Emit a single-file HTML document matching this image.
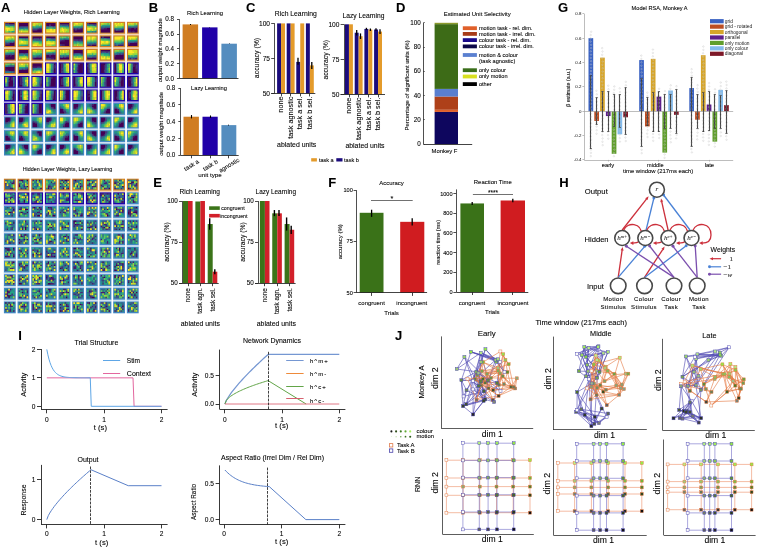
<!DOCTYPE html>
<html><head><meta charset="utf-8"><style>
html,body{margin:0;padding:0;background:#fff;}
svg{display:block;font-family:"Liberation Sans",sans-serif;will-change:transform;}
text{stroke:#000;stroke-width:0.14px;stroke-opacity:0.6}
</style></head><body>
<svg width="757" height="547" viewBox="0 0 757 547">
<defs><filter id="bl" x="-1%" y="-1%" width="102%" height="102%"><feGaussianBlur stdDeviation="0.3"/></filter></defs>
<rect width="757" height="547" fill="#fff"/>
<text x="1.07" y="11.8" font-size="13" font-weight="bold">A</text>
<text x="71.8" y="14.27" font-size="5.8" text-anchor="middle">Hidden Layer Weights, Rich Learning</text>
<rect x="3.8" y="33.15" width="12.25" height="2.29" fill="#f3d5b4"/>
<rect x="17.46" y="33.15" width="12.25" height="2.29" fill="#f3d5b4"/>
<rect x="31.12" y="33.15" width="12.25" height="2.29" fill="#f3d5b4"/>
<rect x="44.78" y="33.15" width="12.25" height="2.29" fill="#f3d5b4"/>
<rect x="58.44" y="33.15" width="12.25" height="2.29" fill="#f3d5b4"/>
<rect x="72.1" y="33.15" width="12.25" height="2.29" fill="#f3d5b4"/>
<rect x="85.76" y="33.15" width="12.25" height="2.29" fill="#f3d5b4"/>
<rect x="99.42" y="33.15" width="12.25" height="2.29" fill="#f3d5b4"/>
<rect x="113.08" y="33.15" width="12.25" height="2.29" fill="#f3d5b4"/>
<rect x="126.74" y="33.15" width="12.25" height="2.29" fill="#f3d5b4"/>
<rect x="3.8" y="46.69" width="12.25" height="2.29" fill="#f3d5b4"/>
<rect x="17.46" y="46.69" width="12.25" height="2.29" fill="#f3d5b4"/>
<rect x="31.12" y="46.69" width="12.25" height="2.29" fill="#f3d5b4"/>
<rect x="44.78" y="46.69" width="12.25" height="2.29" fill="#f3d5b4"/>
<rect x="58.44" y="46.69" width="12.25" height="2.29" fill="#f3d5b4"/>
<rect x="72.1" y="46.69" width="12.25" height="2.29" fill="#f3d5b4"/>
<rect x="85.76" y="46.69" width="12.25" height="2.29" fill="#f3d5b4"/>
<rect x="99.42" y="46.69" width="12.25" height="2.29" fill="#f3d5b4"/>
<rect x="113.08" y="46.69" width="12.25" height="2.29" fill="#f3d5b4"/>
<rect x="126.74" y="46.69" width="12.25" height="2.29" fill="#f3d5b4"/>
<rect x="3.8" y="60.23" width="12.25" height="2.29" fill="#f3d5b4"/>
<rect x="17.46" y="60.23" width="12.25" height="2.29" fill="#f3d5b4"/>
<rect x="31.12" y="60.23" width="12.25" height="2.29" fill="#f3d5b4"/>
<rect x="44.78" y="60.23" width="12.25" height="2.29" fill="#f3d5b4"/>
<rect x="58.44" y="60.23" width="12.25" height="2.29" fill="#f3d5b4"/>
<rect x="72.1" y="60.23" width="12.25" height="2.29" fill="#f3d5b4"/>
<rect x="85.76" y="60.23" width="12.25" height="2.29" fill="#f3d5b4"/>
<rect x="99.42" y="60.23" width="12.25" height="2.29" fill="#f3d5b4"/>
<rect x="113.08" y="60.23" width="12.25" height="2.29" fill="#f3d5b4"/>
<rect x="126.74" y="60.23" width="12.25" height="2.29" fill="#f3d5b4"/>
<rect x="3.8" y="73.77" width="12.25" height="2.29" fill="#f3d5b4"/>
<rect x="17.46" y="73.77" width="12.25" height="2.29" fill="#f3d5b4"/>
<rect x="31.12" y="73.77" width="12.25" height="2.29" fill="#f3d5b4"/>
<rect x="44.78" y="73.77" width="12.25" height="2.29" fill="#aca2e4"/>
<rect x="58.44" y="73.77" width="12.25" height="2.29" fill="#aca2e4"/>
<rect x="72.1" y="73.77" width="12.25" height="2.29" fill="#aca2e4"/>
<rect x="85.76" y="73.77" width="12.25" height="2.29" fill="#aca2e4"/>
<rect x="99.42" y="73.77" width="12.25" height="2.29" fill="#aca2e4"/>
<rect x="113.08" y="73.77" width="12.25" height="2.29" fill="#aca2e4"/>
<rect x="126.74" y="73.77" width="12.25" height="2.29" fill="#aca2e4"/>
<rect x="3.8" y="87.31" width="12.25" height="2.29" fill="#aca2e4"/>
<rect x="17.46" y="87.31" width="12.25" height="2.29" fill="#aca2e4"/>
<rect x="31.12" y="87.31" width="12.25" height="2.29" fill="#aca2e4"/>
<rect x="44.78" y="87.31" width="12.25" height="2.29" fill="#aca2e4"/>
<rect x="58.44" y="87.31" width="12.25" height="2.29" fill="#aca2e4"/>
<rect x="72.1" y="87.31" width="12.25" height="2.29" fill="#aca2e4"/>
<rect x="85.76" y="87.31" width="12.25" height="2.29" fill="#aca2e4"/>
<rect x="99.42" y="87.31" width="12.25" height="2.29" fill="#aca2e4"/>
<rect x="113.08" y="87.31" width="12.25" height="2.29" fill="#aca2e4"/>
<rect x="126.74" y="87.31" width="12.25" height="2.29" fill="#aca2e4"/>
<rect x="3.8" y="100.85" width="12.25" height="2.29" fill="#aca2e4"/>
<rect x="17.46" y="100.85" width="12.25" height="2.29" fill="#aca2e4"/>
<rect x="31.12" y="100.85" width="12.25" height="2.29" fill="#aca2e4"/>
<rect x="44.78" y="100.85" width="12.25" height="2.29" fill="#aca2e4"/>
<rect x="58.44" y="100.85" width="12.25" height="2.29" fill="#aca2e4"/>
<rect x="72.1" y="100.85" width="12.25" height="2.29" fill="#aca2e4"/>
<rect x="85.76" y="100.85" width="12.25" height="2.29" fill="#aca2e4"/>
<rect x="99.42" y="100.85" width="12.25" height="2.29" fill="#aca2e4"/>
<rect x="113.08" y="100.85" width="12.25" height="2.29" fill="#aca2e4"/>
<rect x="126.74" y="100.85" width="12.25" height="2.29" fill="#aca2e4"/>
<rect x="3.8" y="114.39" width="12.25" height="2.29" fill="#aca2e4"/>
<rect x="17.46" y="114.39" width="12.25" height="2.29" fill="#aca2e4"/>
<rect x="31.12" y="114.39" width="12.25" height="2.29" fill="#aca2e4"/>
<rect x="44.78" y="114.39" width="12.25" height="2.29" fill="#cde0f0"/>
<rect x="58.44" y="114.39" width="12.25" height="2.29" fill="#cde0f0"/>
<rect x="72.1" y="114.39" width="12.25" height="2.29" fill="#cde0f0"/>
<rect x="85.76" y="114.39" width="12.25" height="2.29" fill="#cde0f0"/>
<rect x="99.42" y="114.39" width="12.25" height="2.29" fill="#cde0f0"/>
<rect x="113.08" y="114.39" width="12.25" height="2.29" fill="#cde0f0"/>
<rect x="126.74" y="114.39" width="12.25" height="2.29" fill="#cde0f0"/>
<rect x="3.8" y="127.93" width="12.25" height="2.29" fill="#cde0f0"/>
<rect x="17.46" y="127.93" width="12.25" height="2.29" fill="#cde0f0"/>
<rect x="31.12" y="127.93" width="12.25" height="2.29" fill="#cde0f0"/>
<rect x="44.78" y="127.93" width="12.25" height="2.29" fill="#cde0f0"/>
<rect x="58.44" y="127.93" width="12.25" height="2.29" fill="#cde0f0"/>
<rect x="72.1" y="127.93" width="12.25" height="2.29" fill="#cde0f0"/>
<rect x="85.76" y="127.93" width="12.25" height="2.29" fill="#cde0f0"/>
<rect x="99.42" y="127.93" width="12.25" height="2.29" fill="#cde0f0"/>
<rect x="113.08" y="127.93" width="12.25" height="2.29" fill="#cde0f0"/>
<rect x="126.74" y="127.93" width="12.25" height="2.29" fill="#cde0f0"/>
<rect x="3.8" y="141.47" width="12.25" height="2.29" fill="#cde0f0"/>
<rect x="17.46" y="141.47" width="12.25" height="2.29" fill="#cde0f0"/>
<rect x="31.12" y="141.47" width="12.25" height="2.29" fill="#cde0f0"/>
<rect x="44.78" y="141.47" width="12.25" height="2.29" fill="#cde0f0"/>
<rect x="58.44" y="141.47" width="12.25" height="2.29" fill="#cde0f0"/>
<rect x="72.1" y="141.47" width="12.25" height="2.29" fill="#cde0f0"/>
<rect x="85.76" y="141.47" width="12.25" height="2.29" fill="#cde0f0"/>
<rect x="99.42" y="141.47" width="12.25" height="2.29" fill="#cde0f0"/>
<rect x="113.08" y="141.47" width="12.25" height="2.29" fill="#cde0f0"/>
<rect x="126.74" y="141.47" width="12.25" height="2.29" fill="#cde0f0"/>
<rect x="4" y="21.8" width="11.85" height="11.85" fill="#d07d22"/>
<rect x="17.66" y="21.8" width="11.85" height="11.85" fill="#d07d22"/>
<rect x="31.32" y="21.8" width="11.85" height="11.85" fill="#d07d22"/>
<rect x="44.98" y="21.8" width="11.85" height="11.85" fill="#d07d22"/>
<rect x="58.64" y="21.8" width="11.85" height="11.85" fill="#d07d22"/>
<rect x="72.3" y="21.8" width="11.85" height="11.85" fill="#d07d22"/>
<rect x="85.96" y="21.8" width="11.85" height="11.85" fill="#d07d22"/>
<rect x="99.62" y="21.8" width="11.85" height="11.85" fill="#d07d22"/>
<rect x="113.28" y="21.8" width="11.85" height="11.85" fill="#d07d22"/>
<rect x="126.94" y="21.8" width="11.85" height="11.85" fill="#d07d22"/>
<rect x="4" y="35.34" width="11.85" height="11.85" fill="#d07d22"/>
<rect x="17.66" y="35.34" width="11.85" height="11.85" fill="#d07d22"/>
<rect x="31.32" y="35.34" width="11.85" height="11.85" fill="#d07d22"/>
<rect x="44.98" y="35.34" width="11.85" height="11.85" fill="#d07d22"/>
<rect x="58.64" y="35.34" width="11.85" height="11.85" fill="#d07d22"/>
<rect x="72.3" y="35.34" width="11.85" height="11.85" fill="#d07d22"/>
<rect x="85.96" y="35.34" width="11.85" height="11.85" fill="#d07d22"/>
<rect x="99.62" y="35.34" width="11.85" height="11.85" fill="#d07d22"/>
<rect x="113.28" y="35.34" width="11.85" height="11.85" fill="#d07d22"/>
<rect x="126.94" y="35.34" width="11.85" height="11.85" fill="#d07d22"/>
<rect x="4" y="48.88" width="11.85" height="11.85" fill="#d07d22"/>
<rect x="17.66" y="48.88" width="11.85" height="11.85" fill="#d07d22"/>
<rect x="31.32" y="48.88" width="11.85" height="11.85" fill="#d07d22"/>
<rect x="44.98" y="48.88" width="11.85" height="11.85" fill="#d07d22"/>
<rect x="58.64" y="48.88" width="11.85" height="11.85" fill="#d07d22"/>
<rect x="72.3" y="48.88" width="11.85" height="11.85" fill="#d07d22"/>
<rect x="85.96" y="48.88" width="11.85" height="11.85" fill="#d07d22"/>
<rect x="99.62" y="48.88" width="11.85" height="11.85" fill="#d07d22"/>
<rect x="113.28" y="48.88" width="11.85" height="11.85" fill="#d07d22"/>
<rect x="126.94" y="48.88" width="11.85" height="11.85" fill="#d07d22"/>
<rect x="4" y="62.42" width="11.85" height="11.85" fill="#d07d22"/>
<rect x="17.66" y="62.42" width="11.85" height="11.85" fill="#d07d22"/>
<rect x="31.32" y="62.42" width="11.85" height="11.85" fill="#d07d22"/>
<rect x="44.98" y="62.42" width="11.85" height="11.85" fill="#1c02a8"/>
<rect x="58.64" y="62.42" width="11.85" height="11.85" fill="#1c02a8"/>
<rect x="72.3" y="62.42" width="11.85" height="11.85" fill="#1c02a8"/>
<rect x="85.96" y="62.42" width="11.85" height="11.85" fill="#1c02a8"/>
<rect x="99.62" y="62.42" width="11.85" height="11.85" fill="#1c02a8"/>
<rect x="113.28" y="62.42" width="11.85" height="11.85" fill="#1c02a8"/>
<rect x="126.94" y="62.42" width="11.85" height="11.85" fill="#1c02a8"/>
<rect x="4" y="75.96" width="11.85" height="11.85" fill="#1c02a8"/>
<rect x="17.66" y="75.96" width="11.85" height="11.85" fill="#1c02a8"/>
<rect x="31.32" y="75.96" width="11.85" height="11.85" fill="#1c02a8"/>
<rect x="44.98" y="75.96" width="11.85" height="11.85" fill="#1c02a8"/>
<rect x="58.64" y="75.96" width="11.85" height="11.85" fill="#1c02a8"/>
<rect x="72.3" y="75.96" width="11.85" height="11.85" fill="#1c02a8"/>
<rect x="85.96" y="75.96" width="11.85" height="11.85" fill="#1c02a8"/>
<rect x="99.62" y="75.96" width="11.85" height="11.85" fill="#1c02a8"/>
<rect x="113.28" y="75.96" width="11.85" height="11.85" fill="#1c02a8"/>
<rect x="126.94" y="75.96" width="11.85" height="11.85" fill="#1c02a8"/>
<rect x="4" y="89.5" width="11.85" height="11.85" fill="#1c02a8"/>
<rect x="17.66" y="89.5" width="11.85" height="11.85" fill="#1c02a8"/>
<rect x="31.32" y="89.5" width="11.85" height="11.85" fill="#1c02a8"/>
<rect x="44.98" y="89.5" width="11.85" height="11.85" fill="#1c02a8"/>
<rect x="58.64" y="89.5" width="11.85" height="11.85" fill="#1c02a8"/>
<rect x="72.3" y="89.5" width="11.85" height="11.85" fill="#1c02a8"/>
<rect x="85.96" y="89.5" width="11.85" height="11.85" fill="#1c02a8"/>
<rect x="99.62" y="89.5" width="11.85" height="11.85" fill="#1c02a8"/>
<rect x="113.28" y="89.5" width="11.85" height="11.85" fill="#1c02a8"/>
<rect x="126.94" y="89.5" width="11.85" height="11.85" fill="#1c02a8"/>
<rect x="4" y="103.04" width="11.85" height="11.85" fill="#1c02a8"/>
<rect x="17.66" y="103.04" width="11.85" height="11.85" fill="#1c02a8"/>
<rect x="31.32" y="103.04" width="11.85" height="11.85" fill="#1c02a8"/>
<rect x="44.98" y="103.04" width="11.85" height="11.85" fill="#4187c2"/>
<rect x="58.64" y="103.04" width="11.85" height="11.85" fill="#4187c2"/>
<rect x="72.3" y="103.04" width="11.85" height="11.85" fill="#4187c2"/>
<rect x="85.96" y="103.04" width="11.85" height="11.85" fill="#4187c2"/>
<rect x="99.62" y="103.04" width="11.85" height="11.85" fill="#4187c2"/>
<rect x="113.28" y="103.04" width="11.85" height="11.85" fill="#4187c2"/>
<rect x="126.94" y="103.04" width="11.85" height="11.85" fill="#4187c2"/>
<rect x="4" y="116.58" width="11.85" height="11.85" fill="#4187c2"/>
<rect x="17.66" y="116.58" width="11.85" height="11.85" fill="#4187c2"/>
<rect x="31.32" y="116.58" width="11.85" height="11.85" fill="#4187c2"/>
<rect x="44.98" y="116.58" width="11.85" height="11.85" fill="#4187c2"/>
<rect x="58.64" y="116.58" width="11.85" height="11.85" fill="#4187c2"/>
<rect x="72.3" y="116.58" width="11.85" height="11.85" fill="#4187c2"/>
<rect x="85.96" y="116.58" width="11.85" height="11.85" fill="#4187c2"/>
<rect x="99.62" y="116.58" width="11.85" height="11.85" fill="#4187c2"/>
<rect x="113.28" y="116.58" width="11.85" height="11.85" fill="#4187c2"/>
<rect x="126.94" y="116.58" width="11.85" height="11.85" fill="#4187c2"/>
<rect x="4" y="130.12" width="11.85" height="11.85" fill="#4187c2"/>
<rect x="17.66" y="130.12" width="11.85" height="11.85" fill="#4187c2"/>
<rect x="31.32" y="130.12" width="11.85" height="11.85" fill="#4187c2"/>
<rect x="44.98" y="130.12" width="11.85" height="11.85" fill="#4187c2"/>
<rect x="58.64" y="130.12" width="11.85" height="11.85" fill="#4187c2"/>
<rect x="72.3" y="130.12" width="11.85" height="11.85" fill="#4187c2"/>
<rect x="85.96" y="130.12" width="11.85" height="11.85" fill="#4187c2"/>
<rect x="99.62" y="130.12" width="11.85" height="11.85" fill="#4187c2"/>
<rect x="113.28" y="130.12" width="11.85" height="11.85" fill="#4187c2"/>
<rect x="126.94" y="130.12" width="11.85" height="11.85" fill="#4187c2"/>
<rect x="4" y="143.66" width="11.85" height="11.85" fill="#4187c2"/>
<rect x="17.66" y="143.66" width="11.85" height="11.85" fill="#4187c2"/>
<rect x="31.32" y="143.66" width="11.85" height="11.85" fill="#4187c2"/>
<rect x="44.98" y="143.66" width="11.85" height="11.85" fill="#4187c2"/>
<rect x="58.64" y="143.66" width="11.85" height="11.85" fill="#4187c2"/>
<rect x="72.3" y="143.66" width="11.85" height="11.85" fill="#4187c2"/>
<rect x="85.96" y="143.66" width="11.85" height="11.85" fill="#4187c2"/>
<rect x="99.62" y="143.66" width="11.85" height="11.85" fill="#4187c2"/>
<rect x="113.28" y="143.66" width="11.85" height="11.85" fill="#4187c2"/>
<rect x="126.94" y="143.66" width="11.85" height="11.85" fill="#4187c2"/>
<rect x="5.3" y="23.1" width="9.25" height="9.25" fill="#75a056"/>
<rect x="18.96" y="23.1" width="9.25" height="9.25" fill="#576460"/>
<rect x="32.62" y="23.1" width="9.25" height="9.25" fill="#5e735e"/>
<rect x="46.28" y="23.1" width="9.25" height="9.25" fill="#7a7a53"/>
<rect x="59.94" y="23.1" width="9.25" height="9.25" fill="#759456"/>
<rect x="73.6" y="23.1" width="9.25" height="9.25" fill="#636d5a"/>
<rect x="87.26" y="23.1" width="9.25" height="9.25" fill="#6b975c"/>
<rect x="100.92" y="23.1" width="9.25" height="9.25" fill="#4a5765"/>
<rect x="114.58" y="23.1" width="9.25" height="9.25" fill="#768a54"/>
<rect x="128.24" y="23.1" width="9.25" height="9.25" fill="#5a5b5e"/>
<rect x="5.3" y="36.64" width="9.25" height="9.25" fill="#677b5b"/>
<rect x="18.96" y="36.64" width="9.25" height="9.25" fill="#6c9859"/>
<rect x="32.62" y="36.64" width="9.25" height="9.25" fill="#66815f"/>
<rect x="46.28" y="36.64" width="9.25" height="9.25" fill="#7b9653"/>
<rect x="59.94" y="36.64" width="9.25" height="9.25" fill="#443e64"/>
<rect x="73.6" y="36.64" width="9.25" height="9.25" fill="#4e6064"/>
<rect x="87.26" y="36.64" width="9.25" height="9.25" fill="#789b59"/>
<rect x="100.92" y="36.64" width="9.25" height="9.25" fill="#6f985b"/>
<rect x="114.58" y="36.64" width="9.25" height="9.25" fill="#7fa759"/>
<rect x="128.24" y="36.64" width="9.25" height="9.25" fill="#6f7457"/>
<rect x="5.3" y="50.18" width="9.25" height="9.25" fill="#4e5561"/>
<rect x="18.96" y="50.18" width="9.25" height="9.25" fill="#666e5a"/>
<rect x="32.62" y="50.18" width="9.25" height="9.25" fill="#65885f"/>
<rect x="46.28" y="50.18" width="9.25" height="9.25" fill="#595962"/>
<rect x="59.94" y="50.18" width="9.25" height="9.25" fill="#748957"/>
<rect x="73.6" y="50.18" width="9.25" height="9.25" fill="#626c5c"/>
<rect x="87.26" y="50.18" width="9.25" height="9.25" fill="#7b9056"/>
<rect x="100.92" y="50.18" width="9.25" height="9.25" fill="#708d5c"/>
<rect x="114.58" y="50.18" width="9.25" height="9.25" fill="#454b65"/>
<rect x="128.24" y="50.18" width="9.25" height="9.25" fill="#85aa54"/>
<rect x="5.3" y="63.72" width="9.25" height="9.25" fill="#42476a"/>
<rect x="18.96" y="63.72" width="9.25" height="9.25" fill="#5d6c5d"/>
<rect x="32.62" y="63.72" width="9.25" height="9.25" fill="#565f61"/>
<rect x="46.28" y="63.72" width="9.25" height="9.25" fill="#7d9657"/>
<rect x="59.94" y="63.72" width="9.25" height="9.25" fill="#71825a"/>
<rect x="73.6" y="63.72" width="9.25" height="9.25" fill="#454665"/>
<rect x="87.26" y="63.72" width="9.25" height="9.25" fill="#849b4f"/>
<rect x="100.92" y="63.72" width="9.25" height="9.25" fill="#424e6b"/>
<rect x="114.58" y="63.72" width="9.25" height="9.25" fill="#769958"/>
<rect x="128.24" y="63.72" width="9.25" height="9.25" fill="#5e605f"/>
<rect x="5.3" y="77.26" width="9.25" height="9.25" fill="#474c68"/>
<rect x="18.96" y="77.26" width="9.25" height="9.25" fill="#5b6d64"/>
<rect x="32.62" y="77.26" width="9.25" height="9.25" fill="#7a9a5b"/>
<rect x="46.28" y="77.26" width="9.25" height="9.25" fill="#454865"/>
<rect x="59.94" y="77.26" width="9.25" height="9.25" fill="#61755f"/>
<rect x="73.6" y="77.26" width="9.25" height="9.25" fill="#6b805f"/>
<rect x="87.26" y="77.26" width="9.25" height="9.25" fill="#779859"/>
<rect x="100.92" y="77.26" width="9.25" height="9.25" fill="#495866"/>
<rect x="114.58" y="77.26" width="9.25" height="9.25" fill="#4f6666"/>
<rect x="128.24" y="77.26" width="9.25" height="9.25" fill="#5c6760"/>
<rect x="5.3" y="90.8" width="9.25" height="9.25" fill="#6e8d5b"/>
<rect x="18.96" y="90.8" width="9.25" height="9.25" fill="#7e9152"/>
<rect x="32.62" y="90.8" width="9.25" height="9.25" fill="#6a8b5e"/>
<rect x="46.28" y="90.8" width="9.25" height="9.25" fill="#6d855b"/>
<rect x="59.94" y="90.8" width="9.25" height="9.25" fill="#696858"/>
<rect x="73.6" y="90.8" width="9.25" height="9.25" fill="#80a759"/>
<rect x="87.26" y="90.8" width="9.25" height="9.25" fill="#7b8352"/>
<rect x="100.92" y="90.8" width="9.25" height="9.25" fill="#829b50"/>
<rect x="114.58" y="90.8" width="9.25" height="9.25" fill="#606b60"/>
<rect x="128.24" y="90.8" width="9.25" height="9.25" fill="#7d8b50"/>
<rect x="5.3" y="104.34" width="9.25" height="9.25" fill="#7d9057"/>
<rect x="18.96" y="104.34" width="9.25" height="9.25" fill="#506665"/>
<rect x="32.62" y="104.34" width="9.25" height="9.25" fill="#4a6168"/>
<rect x="46.28" y="104.34" width="9.25" height="9.25" fill="#567c69"/>
<rect x="59.94" y="104.34" width="9.25" height="9.25" fill="#547a68"/>
<rect x="73.6" y="104.34" width="9.25" height="9.25" fill="#507669"/>
<rect x="87.26" y="104.34" width="9.25" height="9.25" fill="#587e66"/>
<rect x="100.92" y="104.34" width="9.25" height="9.25" fill="#557b66"/>
<rect x="114.58" y="104.34" width="9.25" height="9.25" fill="#577a65"/>
<rect x="128.24" y="104.34" width="9.25" height="9.25" fill="#52756a"/>
<rect x="5.3" y="117.88" width="9.25" height="9.25" fill="#527568"/>
<rect x="18.96" y="117.88" width="9.25" height="9.25" fill="#597c65"/>
<rect x="32.62" y="117.88" width="9.25" height="9.25" fill="#4b756c"/>
<rect x="46.28" y="117.88" width="9.25" height="9.25" fill="#557c66"/>
<rect x="59.94" y="117.88" width="9.25" height="9.25" fill="#547668"/>
<rect x="73.6" y="117.88" width="9.25" height="9.25" fill="#598163"/>
<rect x="87.26" y="117.88" width="9.25" height="9.25" fill="#577867"/>
<rect x="100.92" y="117.88" width="9.25" height="9.25" fill="#557b66"/>
<rect x="114.58" y="117.88" width="9.25" height="9.25" fill="#547966"/>
<rect x="128.24" y="117.88" width="9.25" height="9.25" fill="#587e64"/>
<rect x="5.3" y="131.42" width="9.25" height="9.25" fill="#527c67"/>
<rect x="18.96" y="131.42" width="9.25" height="9.25" fill="#557d67"/>
<rect x="32.62" y="131.42" width="9.25" height="9.25" fill="#507c69"/>
<rect x="46.28" y="131.42" width="9.25" height="9.25" fill="#577e64"/>
<rect x="59.94" y="131.42" width="9.25" height="9.25" fill="#4f796a"/>
<rect x="73.6" y="131.42" width="9.25" height="9.25" fill="#537668"/>
<rect x="87.26" y="131.42" width="9.25" height="9.25" fill="#567b66"/>
<rect x="100.92" y="131.42" width="9.25" height="9.25" fill="#4d736b"/>
<rect x="114.58" y="131.42" width="9.25" height="9.25" fill="#557866"/>
<rect x="128.24" y="131.42" width="9.25" height="9.25" fill="#4f756a"/>
<rect x="5.3" y="144.96" width="9.25" height="9.25" fill="#507469"/>
<rect x="18.96" y="144.96" width="9.25" height="9.25" fill="#537967"/>
<rect x="32.62" y="144.96" width="9.25" height="9.25" fill="#527b68"/>
<rect x="46.28" y="144.96" width="9.25" height="9.25" fill="#557768"/>
<rect x="59.94" y="144.96" width="9.25" height="9.25" fill="#577e66"/>
<rect x="73.6" y="144.96" width="9.25" height="9.25" fill="#507c68"/>
<rect x="87.26" y="144.96" width="9.25" height="9.25" fill="#4e756b"/>
<rect x="100.92" y="144.96" width="9.25" height="9.25" fill="#517669"/>
<rect x="114.58" y="144.96" width="9.25" height="9.25" fill="#517669"/>
<rect x="128.24" y="144.96" width="9.25" height="9.25" fill="#547767"/>
<text x="67.5" y="171.13" font-size="5.38" text-anchor="middle">Hidden Layer Weights, Lazy Learning</text>
<rect x="3.7" y="190.05" width="12.25" height="2.39" fill="#f3d5b4"/>
<rect x="17.36" y="190.05" width="12.25" height="2.39" fill="#f3d5b4"/>
<rect x="31.02" y="190.05" width="12.25" height="2.39" fill="#f3d5b4"/>
<rect x="44.68" y="190.05" width="12.25" height="2.39" fill="#f3d5b4"/>
<rect x="58.34" y="190.05" width="12.25" height="2.39" fill="#f3d5b4"/>
<rect x="72" y="190.05" width="12.25" height="2.39" fill="#f3d5b4"/>
<rect x="85.66" y="190.05" width="12.25" height="2.39" fill="#f3d5b4"/>
<rect x="99.32" y="190.05" width="12.25" height="2.39" fill="#f3d5b4"/>
<rect x="112.98" y="190.05" width="12.25" height="2.39" fill="#f3d5b4"/>
<rect x="126.64" y="190.05" width="12.25" height="2.39" fill="#f3d5b4"/>
<rect x="3.7" y="203.69" width="12.25" height="2.39" fill="#aca2e4"/>
<rect x="17.36" y="203.69" width="12.25" height="2.39" fill="#aca2e4"/>
<rect x="31.02" y="203.69" width="12.25" height="2.39" fill="#aca2e4"/>
<rect x="44.68" y="203.69" width="12.25" height="2.39" fill="#aca2e4"/>
<rect x="58.34" y="203.69" width="12.25" height="2.39" fill="#aca2e4"/>
<rect x="72" y="203.69" width="12.25" height="2.39" fill="#aca2e4"/>
<rect x="85.66" y="203.69" width="12.25" height="2.39" fill="#aca2e4"/>
<rect x="99.32" y="203.69" width="12.25" height="2.39" fill="#aca2e4"/>
<rect x="112.98" y="203.69" width="12.25" height="2.39" fill="#aca2e4"/>
<rect x="126.64" y="203.69" width="12.25" height="2.39" fill="#cde0f0"/>
<rect x="3.7" y="217.33" width="12.25" height="2.39" fill="#cde0f0"/>
<rect x="17.36" y="217.33" width="12.25" height="2.39" fill="#cde0f0"/>
<rect x="31.02" y="217.33" width="12.25" height="2.39" fill="#cde0f0"/>
<rect x="44.68" y="217.33" width="12.25" height="2.39" fill="#cde0f0"/>
<rect x="58.34" y="217.33" width="12.25" height="2.39" fill="#cde0f0"/>
<rect x="72" y="217.33" width="12.25" height="2.39" fill="#cde0f0"/>
<rect x="85.66" y="217.33" width="12.25" height="2.39" fill="#cde0f0"/>
<rect x="99.32" y="217.33" width="12.25" height="2.39" fill="#cde0f0"/>
<rect x="112.98" y="217.33" width="12.25" height="2.39" fill="#cde0f0"/>
<rect x="126.64" y="217.33" width="12.25" height="2.39" fill="#cde0f0"/>
<rect x="3.7" y="230.97" width="12.25" height="2.39" fill="#cde0f0"/>
<rect x="17.36" y="230.97" width="12.25" height="2.39" fill="#cde0f0"/>
<rect x="31.02" y="230.97" width="12.25" height="2.39" fill="#cde0f0"/>
<rect x="44.68" y="230.97" width="12.25" height="2.39" fill="#cde0f0"/>
<rect x="58.34" y="230.97" width="12.25" height="2.39" fill="#cde0f0"/>
<rect x="72" y="230.97" width="12.25" height="2.39" fill="#cde0f0"/>
<rect x="85.66" y="230.97" width="12.25" height="2.39" fill="#cde0f0"/>
<rect x="99.32" y="230.97" width="12.25" height="2.39" fill="#cde0f0"/>
<rect x="112.98" y="230.97" width="12.25" height="2.39" fill="#cde0f0"/>
<rect x="126.64" y="230.97" width="12.25" height="2.39" fill="#cde0f0"/>
<rect x="3.7" y="244.61" width="12.25" height="2.39" fill="#cde0f0"/>
<rect x="17.36" y="244.61" width="12.25" height="2.39" fill="#cde0f0"/>
<rect x="31.02" y="244.61" width="12.25" height="2.39" fill="#cde0f0"/>
<rect x="44.68" y="244.61" width="12.25" height="2.39" fill="#cde0f0"/>
<rect x="58.34" y="244.61" width="12.25" height="2.39" fill="#cde0f0"/>
<rect x="72" y="244.61" width="12.25" height="2.39" fill="#cde0f0"/>
<rect x="85.66" y="244.61" width="12.25" height="2.39" fill="#cde0f0"/>
<rect x="99.32" y="244.61" width="12.25" height="2.39" fill="#cde0f0"/>
<rect x="112.98" y="244.61" width="12.25" height="2.39" fill="#cde0f0"/>
<rect x="126.64" y="244.61" width="12.25" height="2.39" fill="#cde0f0"/>
<rect x="3.7" y="258.25" width="12.25" height="2.39" fill="#cde0f0"/>
<rect x="17.36" y="258.25" width="12.25" height="2.39" fill="#cde0f0"/>
<rect x="31.02" y="258.25" width="12.25" height="2.39" fill="#cde0f0"/>
<rect x="44.68" y="258.25" width="12.25" height="2.39" fill="#cde0f0"/>
<rect x="58.34" y="258.25" width="12.25" height="2.39" fill="#cde0f0"/>
<rect x="72" y="258.25" width="12.25" height="2.39" fill="#cde0f0"/>
<rect x="85.66" y="258.25" width="12.25" height="2.39" fill="#cde0f0"/>
<rect x="99.32" y="258.25" width="12.25" height="2.39" fill="#cde0f0"/>
<rect x="112.98" y="258.25" width="12.25" height="2.39" fill="#cde0f0"/>
<rect x="126.64" y="258.25" width="12.25" height="2.39" fill="#cde0f0"/>
<rect x="3.7" y="271.89" width="12.25" height="2.39" fill="#cde0f0"/>
<rect x="17.36" y="271.89" width="12.25" height="2.39" fill="#cde0f0"/>
<rect x="31.02" y="271.89" width="12.25" height="2.39" fill="#cde0f0"/>
<rect x="44.68" y="271.89" width="12.25" height="2.39" fill="#cde0f0"/>
<rect x="58.34" y="271.89" width="12.25" height="2.39" fill="#cde0f0"/>
<rect x="72" y="271.89" width="12.25" height="2.39" fill="#cde0f0"/>
<rect x="85.66" y="271.89" width="12.25" height="2.39" fill="#cde0f0"/>
<rect x="99.32" y="271.89" width="12.25" height="2.39" fill="#cde0f0"/>
<rect x="112.98" y="271.89" width="12.25" height="2.39" fill="#cde0f0"/>
<rect x="126.64" y="271.89" width="12.25" height="2.39" fill="#cde0f0"/>
<rect x="3.7" y="285.53" width="12.25" height="2.39" fill="#cde0f0"/>
<rect x="17.36" y="285.53" width="12.25" height="2.39" fill="#cde0f0"/>
<rect x="31.02" y="285.53" width="12.25" height="2.39" fill="#cde0f0"/>
<rect x="44.68" y="285.53" width="12.25" height="2.39" fill="#cde0f0"/>
<rect x="58.34" y="285.53" width="12.25" height="2.39" fill="#cde0f0"/>
<rect x="72" y="285.53" width="12.25" height="2.39" fill="#cde0f0"/>
<rect x="85.66" y="285.53" width="12.25" height="2.39" fill="#cde0f0"/>
<rect x="99.32" y="285.53" width="12.25" height="2.39" fill="#cde0f0"/>
<rect x="112.98" y="285.53" width="12.25" height="2.39" fill="#cde0f0"/>
<rect x="126.64" y="285.53" width="12.25" height="2.39" fill="#cde0f0"/>
<rect x="3.7" y="299.17" width="12.25" height="2.39" fill="#cde0f0"/>
<rect x="17.36" y="299.17" width="12.25" height="2.39" fill="#cde0f0"/>
<rect x="31.02" y="299.17" width="12.25" height="2.39" fill="#cde0f0"/>
<rect x="44.68" y="299.17" width="12.25" height="2.39" fill="#cde0f0"/>
<rect x="58.34" y="299.17" width="12.25" height="2.39" fill="#cde0f0"/>
<rect x="72" y="299.17" width="12.25" height="2.39" fill="#cde0f0"/>
<rect x="85.66" y="299.17" width="12.25" height="2.39" fill="#cde0f0"/>
<rect x="99.32" y="299.17" width="12.25" height="2.39" fill="#cde0f0"/>
<rect x="112.98" y="299.17" width="12.25" height="2.39" fill="#cde0f0"/>
<rect x="126.64" y="299.17" width="12.25" height="2.39" fill="#cde0f0"/>
<rect x="3.9" y="178.7" width="11.85" height="11.85" fill="#d07d22"/>
<rect x="17.56" y="178.7" width="11.85" height="11.85" fill="#d07d22"/>
<rect x="31.22" y="178.7" width="11.85" height="11.85" fill="#d07d22"/>
<rect x="44.88" y="178.7" width="11.85" height="11.85" fill="#d07d22"/>
<rect x="58.54" y="178.7" width="11.85" height="11.85" fill="#d07d22"/>
<rect x="72.2" y="178.7" width="11.85" height="11.85" fill="#d07d22"/>
<rect x="85.86" y="178.7" width="11.85" height="11.85" fill="#d07d22"/>
<rect x="99.52" y="178.7" width="11.85" height="11.85" fill="#d07d22"/>
<rect x="113.18" y="178.7" width="11.85" height="11.85" fill="#d07d22"/>
<rect x="126.84" y="178.7" width="11.85" height="11.85" fill="#d07d22"/>
<rect x="3.9" y="192.34" width="11.85" height="11.85" fill="#1c02a8"/>
<rect x="17.56" y="192.34" width="11.85" height="11.85" fill="#1c02a8"/>
<rect x="31.22" y="192.34" width="11.85" height="11.85" fill="#1c02a8"/>
<rect x="44.88" y="192.34" width="11.85" height="11.85" fill="#1c02a8"/>
<rect x="58.54" y="192.34" width="11.85" height="11.85" fill="#1c02a8"/>
<rect x="72.2" y="192.34" width="11.85" height="11.85" fill="#1c02a8"/>
<rect x="85.86" y="192.34" width="11.85" height="11.85" fill="#1c02a8"/>
<rect x="99.52" y="192.34" width="11.85" height="11.85" fill="#1c02a8"/>
<rect x="113.18" y="192.34" width="11.85" height="11.85" fill="#1c02a8"/>
<rect x="126.84" y="192.34" width="11.85" height="11.85" fill="#4187c2"/>
<rect x="3.9" y="205.98" width="11.85" height="11.85" fill="#4187c2"/>
<rect x="17.56" y="205.98" width="11.85" height="11.85" fill="#4187c2"/>
<rect x="31.22" y="205.98" width="11.85" height="11.85" fill="#4187c2"/>
<rect x="44.88" y="205.98" width="11.85" height="11.85" fill="#4187c2"/>
<rect x="58.54" y="205.98" width="11.85" height="11.85" fill="#4187c2"/>
<rect x="72.2" y="205.98" width="11.85" height="11.85" fill="#4187c2"/>
<rect x="85.86" y="205.98" width="11.85" height="11.85" fill="#4187c2"/>
<rect x="99.52" y="205.98" width="11.85" height="11.85" fill="#4187c2"/>
<rect x="113.18" y="205.98" width="11.85" height="11.85" fill="#4187c2"/>
<rect x="126.84" y="205.98" width="11.85" height="11.85" fill="#4187c2"/>
<rect x="3.9" y="219.62" width="11.85" height="11.85" fill="#4187c2"/>
<rect x="17.56" y="219.62" width="11.85" height="11.85" fill="#4187c2"/>
<rect x="31.22" y="219.62" width="11.85" height="11.85" fill="#4187c2"/>
<rect x="44.88" y="219.62" width="11.85" height="11.85" fill="#4187c2"/>
<rect x="58.54" y="219.62" width="11.85" height="11.85" fill="#4187c2"/>
<rect x="72.2" y="219.62" width="11.85" height="11.85" fill="#4187c2"/>
<rect x="85.86" y="219.62" width="11.85" height="11.85" fill="#4187c2"/>
<rect x="99.52" y="219.62" width="11.85" height="11.85" fill="#4187c2"/>
<rect x="113.18" y="219.62" width="11.85" height="11.85" fill="#4187c2"/>
<rect x="126.84" y="219.62" width="11.85" height="11.85" fill="#4187c2"/>
<rect x="3.9" y="233.26" width="11.85" height="11.85" fill="#4187c2"/>
<rect x="17.56" y="233.26" width="11.85" height="11.85" fill="#4187c2"/>
<rect x="31.22" y="233.26" width="11.85" height="11.85" fill="#4187c2"/>
<rect x="44.88" y="233.26" width="11.85" height="11.85" fill="#4187c2"/>
<rect x="58.54" y="233.26" width="11.85" height="11.85" fill="#4187c2"/>
<rect x="72.2" y="233.26" width="11.85" height="11.85" fill="#4187c2"/>
<rect x="85.86" y="233.26" width="11.85" height="11.85" fill="#4187c2"/>
<rect x="99.52" y="233.26" width="11.85" height="11.85" fill="#4187c2"/>
<rect x="113.18" y="233.26" width="11.85" height="11.85" fill="#4187c2"/>
<rect x="126.84" y="233.26" width="11.85" height="11.85" fill="#4187c2"/>
<rect x="3.9" y="246.9" width="11.85" height="11.85" fill="#4187c2"/>
<rect x="17.56" y="246.9" width="11.85" height="11.85" fill="#4187c2"/>
<rect x="31.22" y="246.9" width="11.85" height="11.85" fill="#4187c2"/>
<rect x="44.88" y="246.9" width="11.85" height="11.85" fill="#4187c2"/>
<rect x="58.54" y="246.9" width="11.85" height="11.85" fill="#4187c2"/>
<rect x="72.2" y="246.9" width="11.85" height="11.85" fill="#4187c2"/>
<rect x="85.86" y="246.9" width="11.85" height="11.85" fill="#4187c2"/>
<rect x="99.52" y="246.9" width="11.85" height="11.85" fill="#4187c2"/>
<rect x="113.18" y="246.9" width="11.85" height="11.85" fill="#4187c2"/>
<rect x="126.84" y="246.9" width="11.85" height="11.85" fill="#4187c2"/>
<rect x="3.9" y="260.54" width="11.85" height="11.85" fill="#4187c2"/>
<rect x="17.56" y="260.54" width="11.85" height="11.85" fill="#4187c2"/>
<rect x="31.22" y="260.54" width="11.85" height="11.85" fill="#4187c2"/>
<rect x="44.88" y="260.54" width="11.85" height="11.85" fill="#4187c2"/>
<rect x="58.54" y="260.54" width="11.85" height="11.85" fill="#4187c2"/>
<rect x="72.2" y="260.54" width="11.85" height="11.85" fill="#4187c2"/>
<rect x="85.86" y="260.54" width="11.85" height="11.85" fill="#4187c2"/>
<rect x="99.52" y="260.54" width="11.85" height="11.85" fill="#4187c2"/>
<rect x="113.18" y="260.54" width="11.85" height="11.85" fill="#4187c2"/>
<rect x="126.84" y="260.54" width="11.85" height="11.85" fill="#4187c2"/>
<rect x="3.9" y="274.18" width="11.85" height="11.85" fill="#4187c2"/>
<rect x="17.56" y="274.18" width="11.85" height="11.85" fill="#4187c2"/>
<rect x="31.22" y="274.18" width="11.85" height="11.85" fill="#4187c2"/>
<rect x="44.88" y="274.18" width="11.85" height="11.85" fill="#4187c2"/>
<rect x="58.54" y="274.18" width="11.85" height="11.85" fill="#4187c2"/>
<rect x="72.2" y="274.18" width="11.85" height="11.85" fill="#4187c2"/>
<rect x="85.86" y="274.18" width="11.85" height="11.85" fill="#4187c2"/>
<rect x="99.52" y="274.18" width="11.85" height="11.85" fill="#4187c2"/>
<rect x="113.18" y="274.18" width="11.85" height="11.85" fill="#4187c2"/>
<rect x="126.84" y="274.18" width="11.85" height="11.85" fill="#4187c2"/>
<rect x="3.9" y="287.82" width="11.85" height="11.85" fill="#4187c2"/>
<rect x="17.56" y="287.82" width="11.85" height="11.85" fill="#4187c2"/>
<rect x="31.22" y="287.82" width="11.85" height="11.85" fill="#4187c2"/>
<rect x="44.88" y="287.82" width="11.85" height="11.85" fill="#4187c2"/>
<rect x="58.54" y="287.82" width="11.85" height="11.85" fill="#4187c2"/>
<rect x="72.2" y="287.82" width="11.85" height="11.85" fill="#4187c2"/>
<rect x="85.86" y="287.82" width="11.85" height="11.85" fill="#4187c2"/>
<rect x="99.52" y="287.82" width="11.85" height="11.85" fill="#4187c2"/>
<rect x="113.18" y="287.82" width="11.85" height="11.85" fill="#4187c2"/>
<rect x="126.84" y="287.82" width="11.85" height="11.85" fill="#4187c2"/>
<rect x="3.9" y="301.46" width="11.85" height="11.85" fill="#4187c2"/>
<rect x="17.56" y="301.46" width="11.85" height="11.85" fill="#4187c2"/>
<rect x="31.22" y="301.46" width="11.85" height="11.85" fill="#4187c2"/>
<rect x="44.88" y="301.46" width="11.85" height="11.85" fill="#4187c2"/>
<rect x="58.54" y="301.46" width="11.85" height="11.85" fill="#4187c2"/>
<rect x="72.2" y="301.46" width="11.85" height="11.85" fill="#4187c2"/>
<rect x="85.86" y="301.46" width="11.85" height="11.85" fill="#4187c2"/>
<rect x="99.52" y="301.46" width="11.85" height="11.85" fill="#4187c2"/>
<rect x="113.18" y="301.46" width="11.85" height="11.85" fill="#4187c2"/>
<rect x="126.84" y="301.46" width="11.85" height="11.85" fill="#4187c2"/>
<rect x="5.2" y="180" width="9.25" height="9.25" fill="#4a7675"/>
<rect x="18.86" y="180" width="9.25" height="9.25" fill="#446e70"/>
<rect x="32.52" y="180" width="9.25" height="9.25" fill="#478274"/>
<rect x="46.18" y="180" width="9.25" height="9.25" fill="#468175"/>
<rect x="59.84" y="180" width="9.25" height="9.25" fill="#4d6d6e"/>
<rect x="73.5" y="180" width="9.25" height="9.25" fill="#4f7c73"/>
<rect x="87.16" y="180" width="9.25" height="9.25" fill="#51796f"/>
<rect x="100.82" y="180" width="9.25" height="9.25" fill="#477771"/>
<rect x="114.48" y="180" width="9.25" height="9.25" fill="#527b6f"/>
<rect x="128.14" y="180" width="9.25" height="9.25" fill="#58746a"/>
<rect x="5.2" y="193.64" width="9.25" height="9.25" fill="#52886c"/>
<rect x="18.86" y="193.64" width="9.25" height="9.25" fill="#52856e"/>
<rect x="32.52" y="193.64" width="9.25" height="9.25" fill="#497974"/>
<rect x="46.18" y="193.64" width="9.25" height="9.25" fill="#428279"/>
<rect x="59.84" y="193.64" width="9.25" height="9.25" fill="#4f8171"/>
<rect x="73.5" y="193.64" width="9.25" height="9.25" fill="#508770"/>
<rect x="87.16" y="193.64" width="9.25" height="9.25" fill="#4f7270"/>
<rect x="100.82" y="193.64" width="9.25" height="9.25" fill="#446475"/>
<rect x="114.48" y="193.64" width="9.25" height="9.25" fill="#4b7372"/>
<rect x="128.14" y="193.64" width="9.25" height="9.25" fill="#588669"/>
<rect x="5.2" y="207.28" width="9.25" height="9.25" fill="#487476"/>
<rect x="18.86" y="207.28" width="9.25" height="9.25" fill="#477571"/>
<rect x="32.52" y="207.28" width="9.25" height="9.25" fill="#4b626f"/>
<rect x="46.18" y="207.28" width="9.25" height="9.25" fill="#50766f"/>
<rect x="59.84" y="207.28" width="9.25" height="9.25" fill="#467d76"/>
<rect x="73.5" y="207.28" width="9.25" height="9.25" fill="#447c74"/>
<rect x="87.16" y="207.28" width="9.25" height="9.25" fill="#5e7e6d"/>
<rect x="100.82" y="207.28" width="9.25" height="9.25" fill="#478173"/>
<rect x="114.48" y="207.28" width="9.25" height="9.25" fill="#4d7170"/>
<rect x="128.14" y="207.28" width="9.25" height="9.25" fill="#4e5e6c"/>
<rect x="5.2" y="220.92" width="9.25" height="9.25" fill="#407a79"/>
<rect x="18.86" y="220.92" width="9.25" height="9.25" fill="#447a75"/>
<rect x="32.52" y="220.92" width="9.25" height="9.25" fill="#447c77"/>
<rect x="46.18" y="220.92" width="9.25" height="9.25" fill="#468073"/>
<rect x="59.84" y="220.92" width="9.25" height="9.25" fill="#54846e"/>
<rect x="73.5" y="220.92" width="9.25" height="9.25" fill="#446172"/>
<rect x="87.16" y="220.92" width="9.25" height="9.25" fill="#4c6971"/>
<rect x="100.82" y="220.92" width="9.25" height="9.25" fill="#567169"/>
<rect x="114.48" y="220.92" width="9.25" height="9.25" fill="#4f766f"/>
<rect x="128.14" y="220.92" width="9.25" height="9.25" fill="#467576"/>
<rect x="5.2" y="234.56" width="9.25" height="9.25" fill="#4c7776"/>
<rect x="18.86" y="234.56" width="9.25" height="9.25" fill="#4d6f6d"/>
<rect x="32.52" y="234.56" width="9.25" height="9.25" fill="#4c796f"/>
<rect x="46.18" y="234.56" width="9.25" height="9.25" fill="#59846a"/>
<rect x="59.84" y="234.56" width="9.25" height="9.25" fill="#467473"/>
<rect x="73.5" y="234.56" width="9.25" height="9.25" fill="#487e75"/>
<rect x="87.16" y="234.56" width="9.25" height="9.25" fill="#4c7774"/>
<rect x="100.82" y="234.56" width="9.25" height="9.25" fill="#3d8d7a"/>
<rect x="114.48" y="234.56" width="9.25" height="9.25" fill="#618667"/>
<rect x="128.14" y="234.56" width="9.25" height="9.25" fill="#448879"/>
<rect x="5.2" y="248.2" width="9.25" height="9.25" fill="#455f6f"/>
<rect x="18.86" y="248.2" width="9.25" height="9.25" fill="#4e816e"/>
<rect x="32.52" y="248.2" width="9.25" height="9.25" fill="#50756e"/>
<rect x="46.18" y="248.2" width="9.25" height="9.25" fill="#4b6274"/>
<rect x="59.84" y="248.2" width="9.25" height="9.25" fill="#4f8c73"/>
<rect x="73.5" y="248.2" width="9.25" height="9.25" fill="#4b7172"/>
<rect x="87.16" y="248.2" width="9.25" height="9.25" fill="#487a74"/>
<rect x="100.82" y="248.2" width="9.25" height="9.25" fill="#54836d"/>
<rect x="114.48" y="248.2" width="9.25" height="9.25" fill="#457a75"/>
<rect x="128.14" y="248.2" width="9.25" height="9.25" fill="#3c657c"/>
<rect x="5.2" y="261.84" width="9.25" height="9.25" fill="#6b955f"/>
<rect x="18.86" y="261.84" width="9.25" height="9.25" fill="#50756e"/>
<rect x="32.52" y="261.84" width="9.25" height="9.25" fill="#588969"/>
<rect x="46.18" y="261.84" width="9.25" height="9.25" fill="#4f7a70"/>
<rect x="59.84" y="261.84" width="9.25" height="9.25" fill="#4e7572"/>
<rect x="73.5" y="261.84" width="9.25" height="9.25" fill="#476974"/>
<rect x="87.16" y="261.84" width="9.25" height="9.25" fill="#528372"/>
<rect x="100.82" y="261.84" width="9.25" height="9.25" fill="#537b6d"/>
<rect x="114.48" y="261.84" width="9.25" height="9.25" fill="#50656d"/>
<rect x="128.14" y="261.84" width="9.25" height="9.25" fill="#56956c"/>
<rect x="5.2" y="275.48" width="9.25" height="9.25" fill="#748e5c"/>
<rect x="18.86" y="275.48" width="9.25" height="9.25" fill="#55736e"/>
<rect x="32.52" y="275.48" width="9.25" height="9.25" fill="#6f945f"/>
<rect x="46.18" y="275.48" width="9.25" height="9.25" fill="#425b73"/>
<rect x="59.84" y="275.48" width="9.25" height="9.25" fill="#527c6f"/>
<rect x="73.5" y="275.48" width="9.25" height="9.25" fill="#467477"/>
<rect x="87.16" y="275.48" width="9.25" height="9.25" fill="#35797f"/>
<rect x="100.82" y="275.48" width="9.25" height="9.25" fill="#428176"/>
<rect x="114.48" y="275.48" width="9.25" height="9.25" fill="#4b7c70"/>
<rect x="128.14" y="275.48" width="9.25" height="9.25" fill="#607b67"/>
<rect x="5.2" y="289.12" width="9.25" height="9.25" fill="#466970"/>
<rect x="18.86" y="289.12" width="9.25" height="9.25" fill="#477374"/>
<rect x="32.52" y="289.12" width="9.25" height="9.25" fill="#3f7f76"/>
<rect x="46.18" y="289.12" width="9.25" height="9.25" fill="#467f73"/>
<rect x="59.84" y="289.12" width="9.25" height="9.25" fill="#4e786d"/>
<rect x="73.5" y="289.12" width="9.25" height="9.25" fill="#477176"/>
<rect x="87.16" y="289.12" width="9.25" height="9.25" fill="#4c7171"/>
<rect x="100.82" y="289.12" width="9.25" height="9.25" fill="#4a8971"/>
<rect x="114.48" y="289.12" width="9.25" height="9.25" fill="#51876f"/>
<rect x="128.14" y="289.12" width="9.25" height="9.25" fill="#4a716e"/>
<rect x="5.2" y="302.76" width="9.25" height="9.25" fill="#456f73"/>
<rect x="18.86" y="302.76" width="9.25" height="9.25" fill="#57816d"/>
<rect x="32.52" y="302.76" width="9.25" height="9.25" fill="#50726f"/>
<rect x="46.18" y="302.76" width="9.25" height="9.25" fill="#57786a"/>
<rect x="59.84" y="302.76" width="9.25" height="9.25" fill="#4d6871"/>
<rect x="73.5" y="302.76" width="9.25" height="9.25" fill="#50816f"/>
<rect x="87.16" y="302.76" width="9.25" height="9.25" fill="#526f6c"/>
<rect x="100.82" y="302.76" width="9.25" height="9.25" fill="#4f726e"/>
<rect x="114.48" y="302.76" width="9.25" height="9.25" fill="#517871"/>
<rect x="128.14" y="302.76" width="9.25" height="9.25" fill="#527e72"/>
<g filter="url(#bl)"><g transform="scale(1.54)" stroke-width="1.2" fill="none">
<path stroke="#440154" d="M5.44 15.48h4m2.86 0h6m-6 1h6m5.86 3h3m-6 1h6m2.86-5h6m-6 1h2m1 0h3m2.86-1h6m2.86 4h1m1 0h4m-6 1h6m3.86-5h5m6.86 3h2m-6 1h6m-6 1h6m7.86-1h1m-6 1h6m4.86-2h2m1 0h1m-6 1h6m-4 1h1m1 0h2m-82.74 7.79h3m-6 1h6m2.86-5h6m2.86 0h6m2.86 0h6m5.86 2h3m-6 1h6m-6 1h6m-3 1h3m2.86-5h6m-6 1h6m5.86 4h3m2.86-5h1m1 0h4m12.72 4h5m-6 1h6m-83.74 6.78h1m1 0h2m-6 1h6m-6 1h6m2.86-5h6m-6 1h6m3.86 4h5m2.86-2h2m1 0h3m-6 1h6m-1 1h1m2.86 0h6m2.86-5h6m-6 1h6m2.86 4h6m2.86-5h6m3.86 3h5m-6 1h6m-6 1h6m-76.88 5.78h6m-6 1h6m-4 1h4m2.86 0h6m-6 1h6m2.86-5h6m-6 1h6m7.86-1h1m-1 3h1m-1 1h1m-1 1h1m2.86-5h1m-1 1h1m-1 1h1m-1 1h1m-1 1h1m-1 1h1m11.86-5h2m-3 1h3m-3 1h3m-3 1h3m-3 1h3m-3 1h3m2.86-5h1m-1 2h1m-1 1h1m-1 1h1m-1 1h1m7.86-5h3m-3 1h2m-2 1h2m-2 1h2m-2 1h2m-2 1h2m6.86-5h1m-1 1h1m-1 1h1m-1 1h1m-1 1h1m-1 1h1m11.86-5h1m-1 1h1m-2 1h2m-2 1h2m-2 1h2m-2 1h3m-82.74 3.78h1m-2 1h2m-1 1h2m-3 1h3m-3 1h3m-3 1h3m3.86-5h1m-1 1h1m-1 1h1m-1 1h1m-1 1h1m-1 1h2m11.86-1h1m-1 1h1m6.86-5h2m-3 1h3m-3 1h3m-3 1h3m-3 1h3m-3 1h3m2.86-5h2m-2 1h1m-1 1h1m-1 1h1m-1 1h1m-1 1h2m6.86-5h1m-1 1h1m-1 1h1m-1 1h1m-1 1h1m-1 1h1m12.86-5h1m-1 3h1m-1 1h1m-1 1h1m6.86-5h2m-2 1h2m-2 1h2m-2 1h2m-2 1h2m-2 1h2m7.86-5h1m-1 1h1m-2 1h2m-2 1h2m-2 1h2m-2 1h2m2.86-5h2m-2 1h1m-1 1h2m-2 1h2m-2 1h2m-2 1h2m-76.74 5.79h1m-1 1h1m-1 1h1m-1 1h1m2.86-5h1m-1 1h1m-1 1h1m-1 1h1m-1 1h1m-1 1h1m12.86-3h1m-1 1h1m-1 1h1m-1 1h1m7.86-5h1m-1 1h1m-1 1h1m-1 1h1m-1 1h1m-2 1h2m6.86-5h2m-2 1h2m-2 1h2m-2 1h2m-2 1h2m-2 1h2m11.72-5h1m-1 1h1m-1 1h2m-2 1h1m-1 1h2m-2 1h2m6.86-5h1m-1 1h1m-1 1h1m-1 1h1m-1 1h1m-1 1h1m7.86-5h2m-2 1h2m-2 1h2m-2 1h2m-2 1h1m-1 1h2m6.86-5h2m-2 1h1m-1 1h1m-1 1h1m-1 1h1m-1 1h2m-81.74 3.78h1m-1 1h1m-1 1h1m-1 1h1m-1 1h1m-1 1h1m12.86-5h1m-2 1h2m-2 1h2m-2 1h2m-2 1h2m-2 1h2m6.86-5h2m-2 1h2m-2 1h2m-2 1h2m-2 1h2m-2 1h2m5.86-5h3m-3 1h3m-1 1h1m2.86 1h2m-2 1h2m-2 1h3m5.86-5h3m-3 1h3m-3 1h2m10.86-2h2m-3 1h3m-2 1h2m6.86 1h2m-3 1h3m-3 1h3m2.86-2h2m-2 1h3m-3 1h3m5.86-5h3m-3 1h3m-3 1h2m-81.74 6.78h3m-3 1h3m-3 1h2m6.86-2h3m-3 1h3m-3 1h2m6.86 1h2m-2 1h3m-3 1h3m5.86-5h3m-3 1h3m-3 1h2m10.86 1h2m-3 1h3m-3 1h3m6.86-2h2m-3 1h3m-3 1h3m5.86-5h3m-3 1h3m-2 1h2m2.86-2h3m-3 1h3m-3 1h2m10.86 1h2m-3 1h3m-3 1h3m2.86-5h3m-3 1h3m-3 1h2m-81.74 9.79h2m-2 1h3m-3 1h3m6.86-2h1m-2 1h3m-3 1h3m8.86-5h3m-2 1h2m-2 1h2m6.86 1h2m-3 1h3m-3 1h3m7.86-2h1m-3 1h3m-3 1h3m2.86-2h3m-3 1h3m-3 1h3m8.86-5h3m-3 1h3m-2 1h2m2.86-2h3m-3 1h3m-3 1h2m6.86 1h2m-2 1h3m-3 1h3m9.86-2h2m-3 1h3m-3 1h3m-85.74 3.78h3m-3 1h3m-3 1h2m9.86-2h3m-3 1h3m-2 1h2m6.86 1h2m-3 1h3m-3 1h3m2.86-5h3m-3 1h3m-3 1h2m6.86-2h3m-3 1h3m-3 1h2m6.86 1h2m-2 1h3m-3 1h3m5.86-5h3m-3 1h3m-3 1h2m6.86-2h3m-3 1h3m-3 1h2m10.86 1h2m-3 1h3m-3 1h3m2.86-5h3m-3 1h3m-3 1h2m-77.81 22.73h1m-1 3h1m4.86-5h2m2 0h1m-6 3h1m-1 1h1m4 0h1m6.86-4h1m0 5h1m5.86-4h1m-3 4h1m7.87-5h1m1 0h2m-3 1h1m1 2h1m-3 2h1m2 0h1m3.86-5h1m2 4h1m3.86-4h1m2 1h1m4.86 2h1m0 1h1m3 1h1m2.86-3h1m4 2h1m4.86-3h2m-4 4h1m-80.75 6.84h1m2 0h1m-1 2h1m7.86-1h1m-1 1h1m27.59-2h1m4.86-3h1m9.86 0h1m-1 2h1m-5 1h1m3 0h1m-5 1h1m8.86 0h1m3 1h1m4.86-5h1m-2 3h1m3 0h1m-1 2h1m4.86-3h2m-1 3h1m-78.75 4.85h1m-4 2h2m8.86-2h2m-5 2h1m3 0h1m3.86-3h1m2 0h1m0 1h1m-3 2h1m1 1h1m-3 1h2m4.86-5h1m2 5h2m12.73-3h1m0 2h1m2 1h1m6.86-3h1m7.86-1h1m-1 4h1m4.86-4h1m3 1h1m7.86-2h1m-5 1h1m-2 2h1m3 0h2m-6 1h1m-80.75 5.85h1m4 0h1m6.86 3h1m-1 1h1m8.86-5h1m-4 5h1m6.86-3h1m1 2h1m-3 1h1m11.87-4h1m-5 3h1m1 0h1m4.86-4h2m3 1h1m-5 1h1m3 1h1m-1 2h1m2.86-4h1m1 0h1m-2 3h1m3 0h1m3.86-3h1m-2 2h1m2 0h1m-2 1h1m2 0h1m3.86-1h1m1 2h1m9.86-2h1m-72.89 5.85h1m-4 1h1m-2 2h1m2 0h1m1 0h1m-6 2h1m11.86-5h1m0 2h1m-2 1h1m8.86 0h1m-4 1h2m7.87-3h1m-2 3h1m2 0h1m5.86-1h1m-48.31 5.84h1m4 0h1m-5 1h2m-3 4h1m4 0h1m3.86-3h1m1 2h1m4.86-3h1m2 1h1m-2 1h1m-3 1h1m2 0h1m5.86 1h1m3 0h1m11.73-5h2m3 5h1m4.86-5h1m-1 4h1m-2 1h1m9.86-4h1m7.86-1h1m-1 1h1m8.86-1h1m-3 3h1m-77.75 5.85h1m-2 4h1m4.86-3h1m1 2h1m8.86 1h1m4.86-4h1m3 2h1m-4 1h1m5.87 1h1m1 1h1m7.86-5h1m1 4h1m8.86-4h1m3.86 0h1m-2 4h1m0 1h1m11.86-4h1m-5 1h1m-2 1h1m-1 2h1m7.86-4h1m-78.75 9.85h1m7.86-1h1m2 1h1m-6 3h2m10.86-4h1m3.86 0h1m2 0h1m-2 1h1m1 0h1m-4 3h2m5.87-2h1m1 0h1m2 1h1m5.86-4h1m6.86 0h1m7.86 1h1m5.86-1h1m-1 1h1m1 0h1m0 4h1m4.86-1h1m1 0h1m-81.75 5.85h1m0 1h1m-2 2h3m-2 1h1m7.86-3h1m9.86-1h1m0 2h1m-2 1h1m5.86-4h1m-1 1h1m7.87 1h1m2 0h1m-5 1h1m2 2h1m13.72-4h1m1 4h2m13.72-1h1m2 0h1m4.86-2h1m1 0h1m1 0h1m-2 1h1m-1 1h1m-5 1h1m-80.75 3.84h1m1 0h1m7.86 2h1m9.86 1h1m-3 1h1m7.86-3h1m2 2h1m-5 2h1m2 0h1m3.87-4h1m-1 2h1m-1 2h1m11.86-4h1m4.86-1h1m3 0h1m-4 3h1m1 1h1m-1 1h1m3.86-3h1m2 0h1m0 2h1m0 1h1m7.86-3h1"/>
<path stroke="#471e70" d="M3.44 15.48h2m6.86 2h1m7.86 2h3m7.86-3h1m19.72 2h1m-5 1h1m6.86-4h1m9.86 3h2m4.86 1h1m3 0h1m3.86-1h2m2 0h1m-5 2h2m1 0h1m-81.74 7.79h1m14.72-3h1m3 0h1m13.72 1h2m-2 3h2m8.86-3h1m1 0h1m2.86 3h3m6.86-5h1m8.86 5h4m2.86-1h1m-80.74 7.78h2m1 0h1m16.72 1h1m1 0h1m-6 1h1m9.86-2h1m0 2h2m5.86-1h1m1 0h2m7.86-2h1m20.58 1h1m8.86 2h1m2 0h2m-85.74 7.78h2m11.86-1h1m2.86-1h3m2 0h1m7.86-1h1m-1 1h1m3.86-2h1m-1 1h1m-1 1h1m-1 2h1m9.86-4h1m-2 4h1m5.86-3h1m9.86 0h1m-1 1h1m-1 1h1m-1 2h1m17.72-5h1m1 0h1m-3 1h1m1 2h1m-1 1h1m-83.74 4.78h1m1 0h1m-1 1h1m-3 1h1m6.86-2h1m-1 1h1m-1 1h1m-1 1h1m-1 1h1m11.86-2h1m-1 1h1m5.86-3h1m-2 5h1m6.86-4h1m-1 1h1m-1 1h1m-1 1h1m7.86 0h1m-1 1h1m11.86-4h1m-1 1h1m5.86-1h1m-1 1h1m-1 1h1m-1 1h1m-1 1h1m8.86-5h1m-1 1h1m-2 2h1m5.86-2h1m0 3h1m-77.74 4.79h1m-1 1h1m-2 3h1m4.86-2h1m-1 2h1m-1 1h1m11.86-5h1m-1 1h1m-2 3h1m-1 1h1m7.86-2h1m-1 1h1m6.86-2h1m-1 3h1m9.86-1h1m-1 1h1m3.86-5h1m-1 1h1m-1 2h1m16.72 1h1m7.86-2h1m-1 1h1m-1 1h1m-68.88 4.78h1m16.72 2h1m5.86 2h1m7.86-2h1m8.86-2h1m15.72 3h1m7.86-1h1m-80.74 8.78h1m7.86 0h1m7.86 1h1m17.72 0h1m-2 2h1m17.72-3h1m16.72 1h1m6.86-1h1m-73.88 9.79h1m10.86-2h1m17.72 2h1m3.86-1h1m18.72 0h1m7.86 1h1m8.86 0h1m-81.74 7.78h1m52.16 0h1m17.72 1h1m-69.95 20.73h1m-6 1h1m4 0h1m-3 3h1m4.86-5h1m2 4h1m-3 1h1m2 0h1m3.86-5h1m1 0h1m0 3h1m-4 2h1m8.86-1h2m0 1h1m4.87-3h1m-1 2h1m11.86-2h1m-3 2h1m6.86-4h1m-1 2h1m-2 1h2m1 1h3m4.86-4h1m0 1h1m1 0h1m-4 1h2m-2 3h1m8.86-5h1m-4 1h1m2 1h1m-2 1h1m-3 2h1m3 0h1m8.86-5h1m-5 2h2m2 0h1m-2 1h2m-82.75 7.84h2m8.86-2h1m-3 1h1m-4 1h1m3 0h1m-5 3h1m7.86-5h1m2 0h2m-4 2h1m0 2h1m2 0h1m-5 1h2m9.86-3h1m-4 1h2m0 2h1m6.87-5h1m1 3h1m-1 1h2m7.86-4h1m-6 1h1m0 3h3m4.86-3h1m2 0h1m-1 3h1m4.86-4h2m2 0h1m-5 1h1m1 0h1m-2 1h1m1 0h1m-1 1h1m0 1h1m6.86-2h1m0 3h1m3.86-4h1m3 0h1m-4 2h1m1 1h1m0 1h1m-79.75 5.85h1m-2 1h1m-1 2h1m4.86-5h1m-2 1h2m0 2h1m0 1h2m3.86-4h1m2 1h1m0 2h1m-4 2h1m8.86-5h2m-1 1h1m-3 2h1m-1 1h1m-2 1h1m12.87-5h1m-5 2h1m2 0h2m-6 1h1m1 0h2m4.86-1h1m4 2h1m-6 1h1m3 0h1m5.86-1h2m-4 1h2m6.86-5h1m1 1h1m0 3h2m4.86-4h1m3 1h1m-3 1h1m1 1h1m-5 2h2m5.86-3h2m2 0h2m-5 1h1m1 0h1m-3 1h2m-2 1h1m-77.75 7.85h1m-4 1h1m2 0h1m7.86-5h1m-4 3h1m0 1h1m-1 1h1m7.86-5h1m-2 1h1m-1 3h1m2 1h1m6.86-3h1m0 1h1m-3 1h1m1 1h1m4.87-2h1m10.86-3h1m-5 1h1m1 1h2m-4 1h1m11.86-2h1m-3 2h2m1 0h1m-6 1h1m1 0h1m7.86-2h2m-3 2h1m1 1h1m9.86-5h1m-6 1h1m3 1h2m-2 2h2m-5 1h1m7.86-5h1m1 0h1m-2 3h1m-3 1h1m4 0h1m-5 1h1m-79.75 3.85h1m2 0h1m-1 3h1m-6 1h1m1 1h2m5.86-5h1m1 0h1m-2 1h1m-2 3h1m6.86-3h1m0 2h2m-1 2h2m6.86-5h1m1 0h2m4.87 1h1m2 0h1m-1 1h1m-2 1h1m-1 1h1m4.86-4h2m-3 2h1m3 0h1m8.86-1h1m-3 1h2m-5 1h1m2 0h1m-3 1h1m1 1h1m4.86-2h1m3 1h1m-1 1h1m5.86-5h2m1 0h1m-1 1h1m-1 1h1m-3 2h1m1 0h1m-3 1h1m1 0h1m5.86-2h2m0 1h1m-84.75 4.84h2m0 1h1m1 0h1m-5 2h1m1 0h1m1 1h1m-5 1h2m5.86-4h1m4 0h1m-2 1h1m-3 1h1m2 0h1m-6 1h1m10.86-3h1m1 2h1m-2 1h2m7.86-3h1m-6 1h1m0 1h1m1 0h3m-3 1h1m-4 1h1m2 0h2m6.87-3h1m-2 2h1m2 1h1m5.86-5h1m1 0h1m-6 2h1m1 0h1m-2 3h1m1 0h1m6.86-4h1m2 1h1m-1 1h1m2.86-2h1m1 0h1m2 0h1m-5 2h1m2 0h1m-5 2h1m8.86-5h1m-2 3h1m3 0h2m-6 1h1m11.86-3h1m-3 1h1m-2 1h1m-1 1h1m3 0h1m-1 1h1m-83.75 3.85h1m1 0h1m-1 1h1m-2 3h1m4.86-3h1m-1 1h1m3 0h2m-5 1h2m0 1h1m-2 1h1m5.86-5h1m-1 1h1m1 0h1m2 1h1m-5 1h1m10.86-3h1m-5 1h2m1 1h1m-1 3h1m6.87-5h1m0 2h1m-3 1h1m3 0h1m-5 1h1m2 0h1m3.86-4h1m2 1h1m-4 2h2m2 0h1m-5 1h2m0 1h1m2 0h1m2.86-4h2m2 2h1m8.86-1h1m-3 1h2m-3 1h1m-1 1h1m6.86-4h1m1 0h2m-3 1h1m2 0h1m-1 1h1m-4 1h1m-2 1h1m3 0h1m3.86-5h1m1 0h1m0 2h1m-81.75 6.85h2m-1 1h1m-4 1h1m1 0h1m1 1h1m-4 2h1m2 0h1m2.86-3h2m-2 1h1m8.86-1h1m2 0h1m-2 3h2m3.86-5h1m3 1h1m-5 1h1m2 0h1m0 1h1m-2 2h2m8.87-4h1m-4 1h1m-1 3h1m5.86-5h1m2 1h1m-1 1h1m-3 1h1m2 0h1m0 2h1m3.86-5h1m2 2h1m-3 2h1m0 1h1m4.86-5h1m0 1h1m3 1h1m-5 1h1m1 1h1m-3 1h1m9.86-5h1m0 2h1m-1 2h1m4.86-4h2m1 0h1m-2 1h2m-3 1h1m1 0h1m-1 2h1m-81.75 4.85h1m-2 1h1m-2 1h1m-2 1h2m2 0h1m-5 2h1m8.86-5h2m-3 1h1m4 0h1m-1 1h1m-4 2h1m2 0h1m-6 1h2m2 0h1m6.86-4h1m-3 4h1m7.86-5h1m3 1h1m-6 1h1m2 2h1m-4 1h1m9.87-5h2m0 1h1m-4 1h1m2 0h1m-5 2h1m9.86-4h1m-1 2h1m2 0h1m-6 1h2m1 0h1m1 1h1m-3 1h1m9.86-5h1m-4 1h2m-3 3h2m-1 1h1m9.86-5h1m-2 1h1m-4 1h3m1 0h1m-2 3h1m5.86-4h1m1 0h2m5.86 0h1m-1 2h1m2 2h1m-80.75 3.84h1m-5 1h1m1 0h1m-1 1h2m-5 2h1m2 0h1m-1 1h1m1 0h1m3.86-5h1m1 1h1m-3 1h1m1 0h2m3.86-1h1m1 0h1m-3 1h1m-1 1h1m2 0h1m-4 1h1m4 1h1m2.86-5h1m3 0h2m-6 1h1m2 2h1m7.87-3h1m0 1h1m-1 1h2m-2 2h2m-5 1h1m1 0h1m9.86-4h1m-6 1h1m1 0h1m-3 1h1m1 0h1m-1 1h2m0 1h1m3.86-5h1m2 2h1m1 0h1m-1 1h1m-5 1h1m-1 1h1m9.86-5h1m-3 3h2m7.86-2h1m-1 1h1m1 1h1m-4 1h1m3 0h1m-6 1h1m11.86-4h1m0 1h1m-2 1h1m-5 1h1m-1 1h1"/>
<path stroke="#433981" d="M13.3 17.48h5m6.86 1h2m6.86-1h1m8.86-1h1m2.86 2h1m1 0h1m1 0h1m12.72 0h2m8.86 1h2m-69.88 7.79h1m-6 1h2m16.72-3h3m1 0h1m5.86 0h3m2.86 1h1m-1 3h1m7.86-3h3m1 0h1m21.58 3h1m11.86-2h2m-76.88 7.78h1m2 0h1m6.86 2h1m1 0h1m7.86-2h1m-5 3h1m1 0h1m5.86-1h1m2 0h1m4.86-2h1m3 0h1m3.86 2h1m2 0h3m2.86-3h1m2 0h2m6.86 1h1m1 0h1m2.86 3h1m2 0h1m-72.88 6.78h1m1 0h1m6.86-1h2m7.86 2h1m-1 1h1m4.86-2h1m-1 2h1m8.86-3h1m-1 1h1m-1 2h1m6.86-2h1m-1 2h1m8.86-1h1m19.72-3h1m-1 1h1m-74.88 9.78h1m-1 2h1m10.86-5h1m-1 1h1m4.86 3h1m7.86 1h1m6.86-5h1m-1 1h1m-1 1h1m-1 1h1m18.72-3h1m7.86 2h1m-1 2h1m-1 1h1m6.86-5h1m-1 1h1m-1 1h1m-1 3h1m-78.74 6.79h1m-1 2h1m4.86-5h1m-1 1h1m19.72 1h1m6.86-2h1m-1 1h1m-1 2h1m-1 1h1m9.86-4h1m-1 3h1m22.58-3h1m-1 5h1m6.86-4h1m-80.74 9.78h1m-1 2h1m-1 1h1m9.86-3h1m-1 2h1m-1 1h1m7.86-3h1m-1 1h1m-1 1h1m-1 1h1m6.86-5h1m0 2h1m4.86 0h1m1 1h1m0 1h1m-1 1h1m7.86-5h1m7.86 2h1m7.86 1h1m-2 2h1m5.86-3h2m1 3h1m7.86-5h1m-4 3h1m-77.74 5.78h1m-1 1h1m-4 2h1m7.86 0h1m7.86-1h1m10.86-2h1m-1 1h1m-2 1h1m9.86 0h1m8.86 0h1m-3 1h1m9.86 0h1m5.86-2h1m-2 1h1m-3 1h1m12.86-1h1m-4 3h1m8.86-5h1m-81.74 11.79h1m0 2h1m6.86-2h1m0 2h1m9.86-2h1m7.86-1h1m-3 1h1m9.86-1h1m-3 1h1m15.72-3h1m0 2h1m1 1h1m5.86-3h1m-4 3h1m7.86-1h1m2 2h1m-1 1h1m8.86-3h2m-4 3h1m-79.74 3.78h1m-1 1h1m-4 2h1m9.86-3h1m0 2h1m1 1h1m5.86 0h1m7.86-3h1m-2 2h1m8.86-1h1m-2 1h1m5.86 0h1m10.86-2h1m-3 3h1m9.86-3h1m-2 2h1m-3 1h2m11.86-1h1m5.86-1h1m-2 1h1m-3 1h1m-77.81 20.73h1m-4 2h1m1 1h1m7.86-3h1m-3 1h1m2 1h1m18.72-1h1m7.87-2h1m-2 1h1m3.86-1h1m0 1h1m-2 1h1m4 2h1m-2 1h1m16.72-1h1m-2 1h1m6.86-4h1m7.86 2h1m-2 2h1m1 0h1m-80.75 3.84h1m-3 3h1m-1 2h1m6.86-1h1m11.86-3h1m4.86 0h1m24.59 1h1m-1 3h1m10.86-5h1m1 0h1m-3 4h1m9.86-3h1m-4 1h1m0 2h1m-73.89 4.85h1m2 0h1m3.86 5h1m12.86-5h1m-4 4h1m8.86-1h1m6.87-2h1m14.72-1h1m1 0h1m-2 2h1m11.86 1h1m4.86-2h2m-1 2h1m8.86-3h1m0 4h1m-82.75 6.85h2m8.86 0h1m23.59-1h1m1 1h1m2.86 0h1m1 1h1m10.86-3h1m-3 5h1m7.86-5h1m0 3h1m-4 2h1m2 0h1m3.86-3h1m-1 3h1m12.86-5h1m-2 4h1m-3 1h1m-77.75 8.85h1m6.86 0h1m4.86 0h1m7.86 0h2m1 0h1m7.87-5h1m-5 5h1m8.86-3h1m2 1h1m5.86-2h1m2 2h1m-49.31 6.84h1m6.86 4h1m18.73-2h1m14.72-1h1m1 0h1m-3 1h1m11.86-1h1m12.72-2h2m1 2h1m1 1h1m-3 2h1m-83.75 8.85h1m19.72-5h1m1 5h1m2.86-2h1m12.87 2h1m6.86-3h2m3.86 2h2m6.86-2h1m8.86-2h2m-65.03 8.85h1m2 0h1m-1 4h1m4.86-1h1m0 2h1m10.86-3h1m-5 1h2m7.87-2h1m1 1h2m7.86 2h1m-3 1h1m8.86 0h1m14.72-5h1m5.86 3h1m4 1h1m-68.03 8.85h1m2 1h1m6.86-3h1m18.73 0h1m-3 2h1m6.86-2h1m3 1h1m20.58-3h1m1 4h1m0 1h1m-81.75 8.84h1m8.86-2h1m-4 1h1m12.86-3h1m7.86 0h1m-2 1h1m5.87 2h1m18.72-3h1m3.86-1h2m1 1h1m0 1h1m-2 2h1m8.86 1h1m6.86-5h1m-3 1h1m1 1h1"/>
<path stroke="#3b528a" d="M24.16 18.48h1m5.86-1h1m3 0h1m3.86-1h4m4.86 2h1m1 0h1m8.86-2h2m12.72 3h1m11.86-2h1m-82.74 9.79h1m8.86-2h1m8.86 1h1m4.86-1h1m27.58 3h2m6.86-3h2m7.86 3h1m-5 1h1m6.86-2h4m-80.74 7.78h1m1 0h1m3.86 0h2m1 0h2m2.86 2h2m7.86-2h3m1 0h1m-5 3h1m7.86-1h1m7.86-2h3m5.86 2h2m6.86-3h2m2 0h1m4.86 1h1m1 0h1m5.86 3h1m-79.74 4.78h3m-1 4h1m3.86-2h1m1 0h1m17.72-2h1m-1 1h1m-1 1h1m5.86 2h1m7.86-5h1m-1 1h1m6.86 0h1m-1 3h1m9.86-4h1m-1 1h1m-1 1h1m-1 2h1m5.86-1h1m-1 1h1m-1 1h1m8.86 0h1m-77.74 7.78h1m4.86-3h1m-1 1h1m-1 2h1m9.86-4h1m-1 3h1m-1 1h1m-1 1h1m5.86-5h1m-1 2h1m-1 1h1m7.86 0h1m-1 1h1m7.86 1h1m9.86-5h1m-1 3h1m-1 1h1m-1 1h1m5.86-2h1m-1 1h1m8.86-4h1m-1 1h1m6.86 2h1m-78.74 5.79h1m-1 1h1m-1 1h1m4.86 1h1m10.86-3h1m-1 1h1m-1 1h1m-1 1h1m7.86-3h1m-1 1h1m5.86 4h1m10.86-4h1m-1 1h1m12.72-2h1m-1 1h1m-1 1h1m-1 1h1m-1 2h1m8.86-4h1m-1 1h1m-1 1h1m-1 1h1m-72.88 4.78h1m-1 1h1m-1 2h1m9.86-2h1m-1 2h1m7.86-3h1m-1 1h1m9.86 2h1m3.86-1h1m9.86-1h1m-4 2h2m8.86-3h1m-1 1h1m1 2h2m6.86-1h2m-4 2h1m17.72-3h1m-3 2h1m-80.74 8.78h1m9.86-3h1m-1 1h1m-3 2h1m7.86-1h1m1 3h1m4.86-2h2m9.86-1h1m1 0h1m-4 2h1m7.86 0h1m-1 1h1m7.86-5h1m-1 1h1m1 2h1m6.86-3h1m-3 3h1m10.86-1h1m3.86 1h1m-80.74 7.79h2m6.86 0h1m2 2h1m6.86-4h1m0 2h1m8.86 0h1m-3 2h1m-1 1h1m7.86-1h1m-1 1h1m6.86-3h1m1 2h1m-1 1h1m6.86-4h1m8.86 0h1m-3 2h1m7.86-1h1m-71.88 9.78h1m8.86-2h1m1 2h1m8.86-1h1m-4 2h1m-1 1h1m8.86-4h1m-4 2h2m9.86-3h1m-4 3h1m8.86-1h1m0 1h1m0 1h1m-1 1h1m7.86-4h1m-4 2h1m10.86-2h1m8.86 1h1m-3 2h1m-1 1h1m8.86-5h1m-3 3h1m-76.81 19.73h1m-4 3h1m27.58-1h1m-4 1h2m0 1h1m7.87-2h1m-2 2h1m-2 1h1m2 0h1m7.86-5h1m-3 3h1m2 0h1m6.86-3h1m-1 1h1m0 2h1m-3 2h1m14.72-4h1m-1 1h1m6.86-2h1m-1 3h1m3 1h2m-80.75 5.84h1m12.72-1h1m1 1h1m0 1h1m-5 3h1m8.86-1h1m3 0h1m-1 1h1m5.87-4h1m1 1h1m-5 3h2m7.86-4h1m-2 2h1m9.86 0h1m-2 2h1m7.86-5h1m2 2h1m-4 1h1m0 2h1m7.86-4h1m-4 1h1m8.86 3h1m-76.75 3.85h1m-2 2h1m-5 1h1m3 1h1m7.86-2h1m7.86 0h1m-4 1h1m-1 1h1m10.86-3h1m-5 3h1m3 0h1m6.87 0h1m-3 1h1m9.86-3h1m-4 1h2m-1 1h1m10.86-4h1m-5 1h1m-1 1h1m3 1h1m0 1h1m-2 1h1m4.86-3h1m0 1h1m2 2h1m7.86-5h1m-2 1h1m-5 2h1m3 0h1m-3 1h1m8.86 1h1m-78.75 3.85h1m-4 2h1m0 3h1m4.86-4h1m3 0h1m-3 2h1m1 0h1m-5 2h1m10.86-4h1m1 1h1m-6 2h1m0 1h1m10.86-5h1m4.87 1h1m-2 1h1m1 2h1m1 0h2m-1 1h1m4.86-5h2m-3 3h1m2 0h1m-5 1h1m11.86-4h1m0 2h1m3.86-2h1m3 5h1m7.86-4h1m-5 1h1m7.86-1h1m-2 1h1m2 1h1m-79.75 6.85h2m-5 1h1m-1 1h1m9.86-2h1m-4 3h1m11.86-3h1m0 2h1m-6 1h1m11.86 0h1m3.87-3h1m3 0h1m-4 4h1m8.86-2h1m2 0h1m6.86-2h1m-3 2h1m-3 2h1m12.86-3h1m-4 2h1m5.86-2h1m8.86-1h1m1 0h1m-3 2h2m-1 1h1m-78.75 7.84h1m-4 1h1m8.86-4h1m6.86 1h2m5.86-1h1m-1 1h1m1 0h1m1 0h1m-5 2h1m-1 1h1m1 1h1m9.87-5h1m-5 1h1m3 0h1m3.86 2h1m2 0h1m1 0h1m-6 2h1m8.86-4h1m10.86 0h1m-2 1h1m-3 2h1m1 0h1m-1 1h1m9.86-4h1m-3 1h1m1 0h1m-5 1h1m2 1h1m-70.89 8.85h1m6.86-1h1m0 2h1m7.86-5h1m-2 1h1m8.86 0h1m-2 1h1m-1 2h2m-5 1h1m11.87-3h1m5.86-2h1m-3 2h1m3 1h1m-3 2h1m6.86-4h1m1 0h1m-3 1h1m0 3h1m8.86-3h1m0 2h1m2.86-4h1m4 4h1m-3 1h1m5.86-2h1m-2 1h1m4 1h1m-84.75 3.85h1m-1 5h1m10.86-3h1m-3 2h1m8.86-4h1m1 2h1m4.86-1h1m2 4h1m7.87-5h1m-5 3h1m1 0h1m-4 1h1m10.86-1h1m-3 1h1m11.86-4h1m-1 3h1m-1 1h1m4.86-4h1m-2 4h1m11.86-3h1m-4 3h1m5.86-3h1m1 0h1m-78.75 11.85h2m7.86-4h1m2.86 0h1m3 0h1m-3 2h1m0 2h1m8.86 0h1m3.87-2h1m3 2h1m7.86-4h1m-2 4h1m0 1h1m8.86-4h1m-4 1h1m-2 1h1m8.86 0h1m2 1h1m4.86-4h1m1 0h1m-2 3h1m-3 2h2m8.86-4h1m-82.75 11.84h1m11.86-4h1m-3 4h1m6.86-4h2m1 0h1m-1 3h1m-5 1h1m-2 1h1m9.86-5h1m1 1h1m4.87 0h1m0 1h1m-2 1h1m-2 1h1m10.86-2h1m4.86 1h1m10.86 0h1m-3 2h1m7.86-5h1m3 1h1m-6 2h2m3 0h1m-5 2h1m8.86-5h1m-2 3h1m1 2h1"/>
<path stroke="#31678d" d="M6.44 16.48h3m11.72 2h3m5.86-1h1m1 0h2m4.86-1h1m21.72 4h1m2.86-3h1m2 0h3m7.86 1h1m2.86-1h2m1 0h2m-84.74 9.79h1m1 0h1m1 0h1m5.86-2h2m1 0h1m4.86 1h3m3.86-1h2m9.86 0h1m8.86 2h2m3.86 1h3m5.86-3h1m1 0h1m4.86 3h1m3 0h1m-74.88 6.78h2m1 0h1m16.72 1h1m3.86-1h1m12.86 1h1m25.58-1h1m2.86 0h2m11.86 2h1m-83.74 5.78h1m1 4h1m3.86-2h1m7.86 0h1m11.86-3h1m5.86 1h1m-1 2h1m-1 1h1m15.72-4h1m-1 2h1m9.86 1h1m-1 2h1m5.86-5h1m-1 1h1m-1 1h1m8.86 1h1m-1 1h1m-77.74 5.78h1m-1 1h1m-5 1h1m3 0h1m-5 1h1m-1 1h1m3 0h1m4.86-5h1m9.86 2h1m5.86-1h1m7.86-1h1m-1 1h1m-1 1h1m7.86-1h1m-1 1h1m-1 2h1m9.86-3h1m5.86 4h1m7.86 0h1m-70.88 8.79h1m16.72 0h1m7.86-3h1m-1 1h1m-1 1h1m17.72-1h1m-1 1h1m-1 1h1m5.86-5h1m-1 3h1m-1 2h1m6.86-1h1m-52.16 4.78h1m-2 2h1m-1 3h1m7.86-1h1m-1 1h1m7.86-4h1m1 2h1m3.86-2h1m3 4h1m7.86-5h1m-3 3h1m6.86-3h1m7.86 5h1m9.86-1h1m6.86-1h1m-3 1h1m-77.74 6.78h1m-2 1h1m16.72-1h1m0 1h1m-1 1h1m18.72-3h1m6.86 1h1m5.86 0h1m0 1h1m1 1h1m16.72-3h1m-4 2h1m-1 1h1m8.86-3h1m-3 2h1m-78.74 9.79h1m5.86-2h1m8.86-1h1m1 2h1m4.86 2h1m9.86-3h2m-3 1h1m-2 2h1m8.86-3h1m0 1h1m5.86-3h1m2 3h1m7.86-3h1m-2 2h1m-2 1h1m-3 1h1m18.72-1h1m-1 1h1m-2 1h1m-79.74 6.78h1m-3 1h1m8.86-4h1m10.86 2h1m-4 3h1m10.86-5h1m-3 3h1m-3 1h1m8.86-1h1m10.86 2h1m6.86-3h1m7.86 0h1m-2 1h1m7.86 0h1m-2 2h1m10.86-5h1m-2 2h1m-4 2h1m-80.81 18.73h2m2 1h1m-5 3h2m1 0h1m-4 1h3m8.86-3h1m1 0h1m-4 3h2m5.86-4h1m2 0h2m-6 1h1m1 0h1m-2 2h3m5.86-4h1m2 3h1m-1 1h1m-3 1h1m5.87-5h1m0 2h1m-1 1h1m-1 1h1m8.86-4h2m-4 1h1m1 0h2m-1 4h1m9.86-5h1m-1 2h1m-6 3h1m1 0h1m7.86-4h1m1 1h1m-4 1h1m2 0h1m-5 1h1m3 1h1m8.86-4h1m-5 2h1m-1 2h2m5.86-3h1m2 0h1m-82.75 6.84h1m2 0h1m-1 1h1m-5 1h1m-1 3h1m7.86-5h2m3 1h1m-3 2h1m-2 2h1m10.86-4h1m-3 2h1m-1 1h1m7.86-4h1m-4 1h1m4 0h1m-6 2h1m3 0h1m-1 1h1m-4 1h2m6.87-5h1m1 0h1m1 0h1m-4 1h1m-3 2h4m-1 1h1m8.86-4h1m-1 3h1m-5 1h1m4 0h1m-4 1h1m2 0h1m5.86-5h1m1 0h1m-4 2h1m2 0h1m-5 1h1m3 0h1m-5 1h1m11.86-3h1m-2 2h1m7.86-3h1m-4 1h1m2 0h1m-1 1h2m-3 1h1m1 1h1m-6 1h1m9.86-4h2m0 1h1m-2 1h1m-2 1h1m-80.75 4.85h1m-3 1h1m2 0h1m-3 3h1m-2 1h1m7.86-5h1m2 0h1m-4 4h1m1 0h1m7.86-4h1m-2 1h1m-2 1h1m-1 1h1m3 1h1m-3 1h1m7.86-4h1m-1 4h1m8.87-5h1m-3 1h1m2 0h1m-5 1h1m0 1h1m-2 1h2m2 0h1m4.86-3h2m-1 2h1m1 1h1m-3 1h1m10.86-3h1m-5 2h1m0 1h2m6.86-5h2m-4 1h1m-1 2h2m-2 2h1m7.86-5h1m0 2h1m-1 2h1m-2 1h1m7.86-4h1m1 0h1m1 0h1m-5 4h1m-80.75 5.85h1m4 0h1m-1 1h1m-5 1h1m1 0h1m-4 1h1m7.86-5h1m0 1h1m3 0h1m-2 1h1m-5 2h1m4 0h1m2.86-4h2m-1 2h1m-1 1h1m1 0h1m-2 1h1m1 0h1m5.86-4h1m2 0h1m-6 1h1m4 0h1m-6 1h1m3 2h1m5.87-4h1m0 3h1m-3 2h1m10.86-3h1m-4 3h1m6.86-5h1m1 0h1m-2 1h1m-1 1h1m2 0h1m-1 1h1m-2 1h1m0 1h1m5.86-5h1m1 1h1m-4 1h1m-1 1h1m-2 1h1m7.86-4h1m-1 4h1m1 0h1m2 1h1m4.86-4h1m-2 2h1m1 1h1m-4 1h1m-79.75 3.85h1m1 0h1m-3 1h1m1 0h1m1 1h1m-6 1h1m1 0h1m-1 1h1m1 0h1m-1 1h1m8.86-5h1m-1 1h1m-3 1h1m-2 1h1m-1 1h1m-2 1h1m6.86-5h1m2 0h1m1 0h1m-5 1h1m1 1h1m0 2h1m4.86-4h1m3 1h1m-5 2h1m1 2h1m4.87-5h1m-1 2h1m1 1h1m0 1h1m4.86-4h1m4 0h1m-6 1h1m1 1h1m-3 2h1m1 0h2m-3 1h1m2 0h1m7.86-5h2m-5 2h1m0 2h1m2 0h1m-4 1h1m1 0h1m4.86-5h1m3 0h1m-5 1h1m3 0h1m-2 1h1m-3 1h2m-1 2h1m4.86-4h1m0 1h1m2 2h1m-3 1h1m5.86-5h1m-1 2h1m4 0h1m-5 2h1m-1 1h2m-82.75 4.84h1m-1 1h1m3 0h1m0 1h1m-3 1h1m9.86-2h1m-1 2h1m-6 1h1m2 0h1m5.86-5h1m2 0h1m0 1h1m-1 1h1m6.86-2h1m-1 4h2m3.87-4h1m-2 2h1m0 1h1m3 0h1m-5 1h1m-2 1h1m11.86-5h1m-5 1h1m3 0h2m-3 1h1m-3 2h1m10.86-4h1m-5 1h1m4 0h1m-3 1h1m-3 1h1m1 0h1m-4 2h1m4 0h1m2.86-5h1m2 0h1m1 3h1m-2 1h1m5.86-1h1m0 1h1m-2 1h1m1 0h1m4.86-4h1m3 0h1m-6 1h1m4 0h1m-4 2h1m1 0h1m-5 1h1m1 0h1m1 0h1m-84.75 6.85h1m1 0h1m-3 1h2m7.86-2h1m-2 1h1m4 0h1m-2 1h1m-1 1h1m4.86-4h1m0 3h1m1 1h1m3.86-3h1m3 1h1m8.87-3h1m-4 1h3m-3 1h1m1 0h1m-5 1h1m1 0h2m-2 1h1m2 0h1m2.86-3h1m2 1h1m1 2h1m6.86-4h1m-5 2h1m4 0h1m-6 2h1m4 0h1m-1 1h1m2.86-5h1m1 0h1m1 0h1m-3 1h1m1 3h1m4.86-4h1m1 2h1m6.86-2h1m-1 1h1m2 1h1m-6 1h1m-78.75 5.85h1m-3 5h1m2 0h1m4.86-5h1m-1 1h1m1 2h3m-5 1h1m2 0h1m0 1h1m3.86-4h1m2 2h1m-4 1h1m2 0h1m5.86-4h1m2 0h1m-4 1h1m1 3h1m1 0h1m3.87-4h1m1 5h1m1 0h1m6.86-5h1m-5 1h1m-1 2h1m1 1h2m4.86-4h1m3 1h1m-5 2h1m0 1h1m1 0h1m-3 1h2m5.86-3h2m-2 1h1m2 0h1m1 0h1m6.86-3h1m-1 1h1m-4 1h1m-2 1h1m3 0h1m-5 1h1m4 0h1m-5 1h1m2 0h1m6.86-5h1m1 5h1m-84.75 3.85h1m2 0h1m-2 1h1m-3 4h1m10.86-5h1m-3 1h1m-2 1h1m1 0h1m-1 1h1m0 1h1m-2 1h1m4.86-3h2m2 0h1m-5 3h1m10.86-5h1m-4 3h1m0 1h1m3 0h1m5.87-2h1m-4 1h1m1 1h1m-1 1h1m10.86-5h1m-3 1h1m-4 1h1m1 1h1m-2 1h1m3 1h1m3.86-5h2m-3 2h1m2 2h1m-4 1h1m7.86-5h3m-2 1h1m7.86 1h1m0 2h1m-3 1h1m4 0h1m6.86-4h1m-2 3h1m1 0h1m-84.75 6.84h1m1 1h1m1 0h1m-6 2h1m7.86-5h1m0 3h2m1 0h1m0 1h1m-6 1h1m4 0h1m5.86-1h1m-2 1h2m7.86-5h1m-1 1h1m-1 3h2m0 1h1m3.87-5h1m3 1h1m-5 1h1m-1 2h1m7.86-4h1m2 3h1m-3 2h1m10.86-4h1m-2 1h1m-2 1h2m0 1h1m-3 1h1m9.86-5h1m-3 5h1m6.86-5h1m1 0h2m-4 4h1m6.86-4h1m0 1h1m2 0h1m-2 1h1m-4 2h1m1 0h1m1 0h1m-4 1h1"/>
<path stroke="#287c8e" d="M3.44 16.48h3m5.86 2h3m2 0h1m25.58-1h1m7.86 0h1m2.86-1h2m1 0h1m-1 4h1m5.86-3h2m5.86 1h1m9.86-1h1m-81.74 9.79h1m6.86-2h2m6.86 1h2m17.72-1h1m1 0h2m3.86 2h1m1 0h1m4.86 1h1m7.86-3h1m1 0h1m8.86 3h1m-74.88 6.78h1m12.86 1h1m5.86 0h1m1 0h1m11.72 0h1m1 0h1m1 0h1m8.86 0h1m6.86 0h2m20.58 1h5m-83.74 5.78h1m-2 4h4m8.86-3h2m3.86 1h5m5.86 1h1m6.86-4h1m-1 2h1m6.86 1h1m35.44-3h1m-1 1h1m-1 1h1m-77.74 6.78h1m5.86 0h1m-1 3h1m-1 1h1m8.86-3h1m-2 3h1m-1 1h1m5.86-2h1m17.72-3h1m-1 3h1m9.86-1h1m5.86-1h1m-1 1h1m7.86 2h1m8.86-4h1m-1 3h1m-1 1h1m-1 1h1m-80.74 6.79h1m16.72-3h1m-1 2h1m-1 2h1m7.86-3h1m-1 4h1m6.86-1h1m9.86-4h1m-1 1h1m-1 1h1m5.86-1h1m-1 1h1m-1 2h1m17.72-4h1m-1 5h1m6.86 0h1m-80.74 3.78h1m-1 3h1m-1 1h1m7.86-1h1m-1 1h1m7.86-3h1m-1 2h1m6.86-3h1m0 2h1m0 1h1m0 1h2m5.86-1h1m8.86-2h1m-2 1h1m-4 2h2m7.86-3h1m1 2h1m1 1h1m7.86-3h1m-3 1h1m-2 1h1m5.86-2h1m2 2h1m0 2h1m7.86-5h1m-1 1h1m-2 1h1m-3 2h1m-1 1h1m-77.74 3.78h1m-5 4h2m10.86-4h1m-2 2h1m-2 1h1m-3 1h1m7.86-3h2m2 3h1m-1 1h1m8.86-5h1m-6 4h2m8.86-1h1m-2 1h1m-1 1h1m11.86-4h1m-5 4h1m7.86-5h1m2 4h1m0 1h1m6.86-5h2m-3 2h1m-2 1h1m-3 1h1m11.86-3h1m-2 1h1m-3 3h1m10.86-5h1m-1 1h1m-2 1h1m-4 2h1m-80.74 5.79h1m2 2h1m0 2h1m3.86-4h1m2 2h1m0 1h1m-1 1h1m3.86-5h2m-2 1h2m0 1h1m0 1h1m1 1h1m4.86-1h1m-2 1h1m10.86-3h2m-5 3h1m6.86-3h2m2 4h1m4.86-4h1m0 1h1m0 1h1m1 1h1m6.86-3h1m-4 3h1m6.86-3h2m0 1h1m0 1h1m0 2h1m7.86-4h2m-3 1h1m-79.74 6.78h2m-2 1h1m-2 1h1m-3 2h1m8.86-2h1m0 1h1m0 1h2m7.86-4h1m-3 2h1m-3 2h1m10.86-3h1m-2 1h1m-3 2h1m9.86-2h1m-4 2h1m7.86-3h1m2 2h1m0 1h1m0 1h1m6.86-5h1m-1 1h1m-3 2h1m-3 1h1m11.86-4h1m-1 1h1m-5 3h2m10.86-3h2m-3 1h1m-3 2h1m10.86-3h1m-3 2h1m-2 1h1m-80.81 19.73h1m0 1h1m0 1h1m7.86-3h1m-1 1h1m-2 2h1m1 1h1m8.86-4h1m-4 1h1m0 1h1m1 0h1m-6 1h1m1 2h1m9.86-5h1m0 1h1m-4 1h2m-4 3h1m9.87-5h1m2 2h1m-3 2h1m1 0h1m2.86-1h1m3 0h1m-3 2h1m7.86-3h1m-1 1h1m-2 1h1m7.86-2h1m3 1h1m3.86-3h1m2 0h1m-1 2h1m-2 1h1m-4 1h1m2 0h1m1 1h1m4.86-5h1m-1 4h1m2 1h1m-80.75 5.84h1m-1 1h1m4.86-2h1m-1 2h1m-2 2h1m8.86-5h1m-3 1h1m-1 1h1m3 3h1m6.86-4h1m-1 2h1m1 0h1m4.87-1h1m1 0h1m-2 3h2m8.86-4h1m-4 2h1m1 1h1m5.86-4h1m-2 5h1m3 0h1m5.86-4h1m-4 1h1m3 0h1m0 2h1m-2 1h1m4.86-5h1m0 1h1m-2 1h1m0 1h1m1 1h1m7.86-4h1m-4 2h1m-2 1h1m-1 1h1m-80.75 4.85h1m3 1h1m-2 3h1m1 0h1m-5 1h3m8.86-5h1m-5 3h1m4 1h1m4.86-3h1m1 0h1m-3 2h1m0 1h1m9.86-4h1m-5 1h1m1 1h2m-1 1h1m-4 2h1m19.73-5h1m5.86 1h2m-2 1h1m-1 1h1m8.86-2h1m6.86 1h1m-1 1h1m2 1h1m5.86-4h1m-1 1h1m-81.75 7.85h3m-1 3h1m0 1h1m4.86-4h1m0 4h1m8.86-2h1m-3 1h1m2 2h1m2.86-5h1m2 0h1m-1 1h2m3.87 0h1m1 2h1m-1 2h1m8.86-2h1m-3 1h1m1 0h1m-4 1h1m2 0h2m6.86-3h1m-3 1h1m-1 2h1m11.86-5h1m4.86 0h1m0 3h1m-3 1h1m0 1h1m5.86-5h1m1 2h1m1 0h2m-4 2h1m-79.75 6.85h1m5.86 1h1m1 1h1m-2 1h1m2 0h1m3.86-5h1m2 2h1m0 2h1m3.86-2h1m1 0h1m1 0h1m-5 2h1m7.87-4h1m0 2h1m-2 2h1m6.86-1h1m4 1h1m-1 1h1m2.86-5h1m3 3h1m-4 2h1m9.86-3h1m1 3h1m3.86-5h1m2 0h1m-1 1h1m-2 2h1m-3 2h1m11.86-5h1m-3 2h2m-1 2h1m-82.75 6.84h1m0 3h1m7.86-4h1m-4 1h1m4 3h1m7.86-5h1m-5 2h2m-3 1h1m1 1h1m0 1h1m5.86-3h3m-2 1h1m10.87-2h1m-1 1h1m-2 1h1m-2 1h1m-2 1h2m5.86-4h1m-1 1h1m2 1h1m-1 1h1m-3 1h1m8.86-1h2m8.86-4h1m-6 2h1m12.86-2h1m-4 1h1m-3 1h1m3 0h1m-5 3h1m9.86-4h1m1 2h1m-81.75 7.85h1m5.86-2h1m1 0h1m-2 2h1m-1 2h1m0 1h1m7.86-4h1m-3 1h1m-2 2h1m4 0h1m5.86-4h1m0 1h1m-1 4h1m3.87 0h2m7.86-5h1m-2 2h1m-1 3h1m8.86-5h1m1 0h1m0 2h1m-1 3h1m4.86-4h1m3 0h1m-3 1h1m1 1h1m-5 1h1m6.86-2h1m3 0h1m-5 2h1m3 1h1m4.86-3h1m3 1h1m-85.75 6.85h1m2 3h1m6.86-4h1m0 1h1m-3 3h1m0 1h1m2 0h1m7.86-4h1m-5 4h1m7.86-3h1m-2 2h1m10.87-4h1m-1 2h1m0 3h1m8.86-5h1m-1 1h1m-6 1h3m1 0h1m-5 2h1m3 0h1m6.86-1h1m0 1h1m0 1h1m6.86-3h1m-3 1h1m7.86-1h1m5.86-2h1m0 3h1m-2 2h1m-68.89 3.85h1m1 3h1m7.86-3h1m2.86 1h1m0 1h1m-1 3h1m2 0h1m3.87-5h1m3 0h1m-2 5h1m5.86-4h1m3 0h1m-5 1h1m2 1h1m7.86 0h1m3.86 0h1m0 2h1m7.86-5h1m1 0h1m-4 2h1m2 0h2m5.86-2h1m1 0h1m-5 2h1m0 1h1m-80.75 5.84h1m1 0h1m-4 2h1m0 1h1m0 1h1m5.86-3h1m4 0h1m-4 4h1m9.86-5h1m-2 2h1m-3 3h1m7.86-2h1m-1 1h1m10.87-4h1m-5 2h1m2 0h1m-2 1h1m2 0h1m-2 2h1m7.86-5h1m-5 1h1m4 1h1m-3 3h1m7.86-5h1m-3 1h1m-2 1h1m1 0h1m9.86-2h1m-4 1h2m1 0h1m-3 1h1m1 1h2m-6 2h1m10.86-5h1m0 2h1m-2 3h1m4.86-4h1m1 1h1m-3 1h1"/>
<path stroke="#21918c" d="M15.3 18.48h2m7.86-1h2m14.72 0h2m6.86 0h2m5.86-1h1m1 4h1m13.72-2h4m-63.02 10.79h2m11.72-3h1m3 0h2m2.86-1h1m7.86 2h1m1 0h1m7.86 0h1m1 0h2m6.86 2h2m7.86-2h1m-5 1h2m-65.02 7.78h3m1 0h1m8.86-1h1m-6 1h1m1 0h1m15.72 0h1m1 0h1m4.86 0h1m1 0h1m6.86 0h3m4.86-1h1m1 0h3m5.86-1h1m1 0h2m-76.88 8.78h1m28.58 2h1m-1 2h1m14.72-3h1m-1 2h1m-1 1h1m8.86-1h1m9.86-4h1m-1 2h1m-1 2h1m-1 1h1m-66.02 4.78h1m-1 1h1m9.86-1h1m-1 1h1m-1 3h1m7.86-3h1m-1 1h1m5.86-2h1m-1 3h1m-1 1h1m9.86-4h1m-1 4h1m16.72-3h1m-1 1h1m-1 1h1m-1 1h1m6.86-5h1m7.86 1h1m-1 1h1m-1 1h1m8.86-2h1m-1 1h1m-80.74 7.79h1m-1 1h1m-1 2h1m6.86-4h1m-1 5h1m8.86-4h1m-1 2h1m7.86-3h1m6.86 0h1m-1 2h1m-1 1h1m8.86 1h1m-1 1h1m15.72 0h1m8.86-4h1m-1 1h1m-1 1h1m-1 1h1m6.86-4h1m-1 1h1m-1 3h1m-80.74 6.78h1m-1 3h1m7.86-5h1m-1 1h1m7.86-1h1m-1 2h1m5.86-2h1m-1 1h2m3 4h1m2.86-5h1m0 1h1m0 1h1m1 2h1m0 1h1m7.86-5h1m-6 5h2m6.86-5h1m-1 1h1m1 1h1m2 3h1m7.86-5h1m-2 1h1m-4 3h1m-2 1h1m7.86-5h1m0 1h1m0 1h1m1 2h1m0 1h1m2.86 0h1m-76.74 4.78h2m-4 3h1m-3 1h2m11.86-5h1m-2 1h1m-4 3h1m-2 1h1m7.86-5h2m3 5h1m6.86-5h1m-1 1h1m-2 1h1m-2 1h1m-3 2h1m11.86-5h2m-2 1h1m-5 4h1m10.86-3h1m-2 1h1m-2 1h1m-2 1h1m7.86-5h1m0 1h1m10.86 0h1m-5 4h1m8.86-1h1m-2 1h1m12.86-5h1m-4 3h1m-3 2h1m-80.74 3.79h1m0 1h1m0 1h1m1 2h1m0 1h1m2.86-5h1m0 1h1m0 1h1m2 2h1m7.86 1h1m7.86-4h1m-3 1h1m-4 3h1m12.86-5h1m-6 5h1m7.86-5h1m1 1h1m1 3h2m2.86-4h1m3 4h1m0 1h1m4.86-1h1m-3 1h2m6.86-5h2m2 4h1m0 1h1m7.86-5h1m-3 1h1m-3 3h1m-2 1h1m-80.74 8.78h1m7.86-5h1m0 1h1m3 4h1m6.86-4h2m-4 2h1m-3 1h1m-1 1h1m12.86-5h1m-6 5h1m11.86-5h2m-2 1h1m-3 2h1m-2 1h1m-2 1h1m8.86-4h1m0 1h1m10.86-2h1m-2 2h1m-4 2h1m-2 1h1m12.86-5h1m-6 5h1m11.86-5h2m-6 5h1m12.86-5h1m-1 1h1m-6 4h2m-78.81 19.73h1m5.86 0h1m-1 2h2m7.86-1h1m-2 2h1m9.86-2h1m1 0h1m-1 2h1m2.87 0h1m12.86-3h1m-6 2h1m9.86-4h2m-1 2h1m5.86-1h1m2 0h1m-3 2h1m5.86-3h1m8.86 0h1m1 0h1m-1 3h1m-4 1h1m-79.75 6.84h2m-2 2h1m8.86-4h2m0 1h1m-1 2h1m8.86-3h1m-5 1h1m3 1h1m-5 1h1m2 0h1m4.86-3h1m0 4h1m14.73-4h1m0 1h1m0 1h1m0 1h1m5.86-2h1m2 4h1m7.86-4h1m-4 2h1m-2 2h1m7.86-5h1m2 0h1m-73.89 9.85h2m8.86 2h2m-2 2h1m6.86-3h1m9.86-2h1m-5 1h1m-1 1h1m4 0h1m-1 2h1m6.87-4h1m-5 1h1m1 1h1m-3 3h1m8.86-5h1m1 1h1m-2 1h1m2 0h1m-1 1h1m-3 1h1m9.86-3h1m-3 1h1m5.86-2h1m6.86 2h1m12.86-1h1m-4 1h2m-79.75 7.85h1m-5 2h2m-2 1h1m10.86-1h1m7.86-3h1m-2 2h1m0 2h1m4.86 1h1m2 0h1m1 0h1m5.87-5h1m1 0h1m-5 2h1m2 0h1m5.86-1h1m5.86 2h1m7.86-3h1m3 2h1m-3 3h1m9.86-4h1m-3 1h2m6.86-2h1m1 0h1m-1 3h1m-84.75 5.85h1m-1 2h1m3 0h1m-2 2h1m-4 1h1m11.86-2h1m13.72-2h1m0 1h1m8.87-2h1m-3 2h1m1 1h1m0 2h1m5.86-4h1m0 4h1m4.86-4h1m3 3h1m0 1h1m6.86-5h1m-5 2h1m2 2h1m-4 1h1m7.86-5h1m2 2h1m9.86-1h1m-2 4h1m-81.75 3.84h1m5.86 0h1m0 1h1m-3 2h1m11.86-1h1m-3 3h1m8.86-5h1m1 0h1m-2 2h1m3.87-2h1m9.86 4h1m2 0h1m23.58-1h1m6.86-3h2m-1 1h1m-3 1h1m-2 1h1m-1 1h1m-78.75 5.85h1m-2 2h1m3 0h1m-5 2h1m6.86-5h1m2 1h1m6.86-1h1m0 5h1m4.86-5h1m2 1h1m-1 2h1m-2 2h1m16.73-4h1m0 3h1m-3 1h1m6.86-2h1m12.86-3h1m-2 1h1m-3 1h1m5.86-1h1m2 2h1m9.86-3h1m-2 1h1m-79.75 8.85h1m5.86-1h1m7.86 2h1m-2 1h1m2 2h1m7.86-5h1m-1 3h1m3.87-2h1m3 2h1m-4 1h1m1 0h1m8.86-2h1m-4 3h1m1 0h1m6.86-5h1m-4 1h1m1 0h1m2 0h1m-4 1h1m8.86-1h1m-4 3h1m-1 1h1m3 0h1m14.72-2h1m1 0h1m-84.75 5.85h1m4 1h1m-3 4h1m7.86-4h1m-2 2h1m7.86-3h1m2 2h1m-4 2h1m6.86-3h1m1 0h1m-3 2h1m2 0h2m-3 2h1m5.87-5h1m3 5h1m4.86-4h1m1 0h1m-5 3h1m0 1h1m6.86-5h1m3 0h1m-5 3h1m-1 1h1m0 1h1m11.86-4h1m-3 2h1m-4 1h1m7.86-3h1m4 2h1m3.86-3h1m1 3h1m1 0h1m-2 2h1m-80.75 7.84h2m6.86-4h1m0 2h1m4.86 0h1m-2 1h1m10.86 0h1m-2 2h1m4.87-5h1m12.86 3h1m-5 2h1m3 0h1m5.86-4h1m-2 3h1m10.86-2h1m-1 2h1m3.86-3h1m2 0h1m-3 2h1m2 2h1m2.86-5h1"/>
<path stroke="#22a485" d="M7.44 20.48h2m11.72-3h1m1 0h2m4.86 1h1m4 0h1m2.86-1h3m5.86 0h3m5.86 3h3m6.86-4h5m16.72 0h1m-82.74 9.79h3m3.86 3h3m8.86-2h2m4.86-1h2m5.86-1h1m15.72 2h2m1 0h1m5.86 2h3m8.86-2h1m4.86-1h5m-82.74 7.78h3m12.72 2h1m10.86-2h2m12.72 2h1m1 0h2m3.86 0h1m8.86-1h1m3 1h1m3.86-2h1m1 0h1m4.86 2h1m3 0h2m-76.88 7.78h4m4.86 2h1m10.86-4h1m-1 1h1m-1 1h1m7.86 3h1m5.86-5h1m-1 1h1m8.86 4h1m9.86-4h1m-1 2h1m8.86 2h1m-75.88 3.78h1m10.86 5h1m6.86-5h1m-1 1h1m5.86-1h1m-1 2h1m9.86-2h1m-1 2h1m-1 1h1m-1 1h1m7.86-3h1m-1 2h1m-1 1h1m-1 1h1m7.86-5h1m-1 1h1m5.86 2h1m-1 1h1m-1 1h1m8.86-5h1m-2 4h1m-69.88 4.79h1m-2 3h1m-1 1h1m7.86-3h1m-1 1h1m-1 1h1m-1 1h1m7.86 1h1m7.86 0h1m7.86-4h1m8.86 1h1m-1 1h1m15.72 1h1m16.72-2h1m-1 1h1m-80.74 6.78h1m15.72 4h1m7.86-3h1m2 3h1m4.86-5h1m0 1h1m1 2h1m0 1h1m6.86-2h1m-2 1h1m-2 1h1m9.86 0h1m7.86-4h1m-3 2h1m-3 2h1m8.86-4h2m0 2h1m1 2h1m7.86-4h1m-1 1h1m-2 1h1m-2 1h1m-2 1h1m-77.74 4.78h1m-3 3h1m-2 2h1m10.86-4h1m-5 4h1m8.86-5h1m-1 1h1m0 1h1m0 1h1m0 1h1m7.86-3h1m-2 1h1m3.86 2h1m12.86-4h1m-2 1h1m-5 3h1m7.86-3h1m2 3h1m0 1h1m8.86-4h1m-5 3h1m-1 1h1m10.86-5h2m-4 2h1m-2 1h1m11.86-2h1m-2 1h1m-4 2h1m-80.74 4.79h1m2 3h1m0 1h1m6.86-1h1m0 2h1m3.86-3h1m2 2h1m-1 1h1m8.86-5h1m-2 1h1m-4 2h1m-2 1h1m10.86-4h2m-5 4h1m8.86-4h1m3 5h1m2.86-4h1m12.86-1h1m-1 1h1m-2 1h1m-2 1h1m-2 2h1m7.86-4h1m1 2h1m7.86-3h1m-3 2h1m-2 1h1m-2 1h1m-75.74 5.78h1m-2 1h1m-4 3h2m5.86-4h1m0 1h1m2 3h1m7.86-5h1m-5 3h1m12.86-2h1m-2 1h1m-3 2h1m-2 1h2m10.86-4h1m-5 4h1m6.86-5h2m3 4h1m7.86-3h1m-3 2h1m-2 1h1m-2 1h1m11.86-4h1m-3 2h1m-2 1h1m-2 1h1m9.86-4h1m-2 1h1m-2 1h1m-2 1h1m-69.95 18.73h2m1 5h1m7.86-4h1m3.86-1h1m-1 2h1m-2 2h1m3 1h1m5.86-5h1m-2 1h2m5.87 0h1m1 2h1m1 1h1m8.86-4h1m-3 2h1m-3 3h1m7.86-4h1m-2 3h1m1 0h1m6.86-4h1m2 0h1m-2 3h1m1 1h1m-6 1h1m11.86-4h1m0 1h1m-2 2h1m-2 1h1m8.86-5h1m-82.75 8.84h1m2 0h1m-3 1h1m-2 3h1m5.86-1h2m0 1h1m1 0h1m-1 1h2m4.86-4h1m2 2h1m4.86-3h1m-3 2h2m-2 2h1m2 0h1m-4 1h1m3 0h1m7.87-5h1m-5 2h2m7.86 0h1m-2 1h1m8.86-3h1m2 1h2m-4 2h1m7.86-1h1m-3 2h1m8.86 1h1m1 0h1m4.86-5h1m1 3h1m2 2h1m-82.75 5.85h1m1 3h1m4.86-5h1m2 2h1m-1 3h1m3.86-3h1m1 0h1m1 0h1m2.86-2h1m8.87 0h1m1 1h1m1 3h1m-2 1h2m4.86-5h2m1 0h1m-1 1h1m6.86 3h1m8.86-4h1m-1 1h1m-4 1h2m-1 1h2m-5 1h1m4 0h1m-5 1h1m9.86 0h3m-74.89 7.85h1m-1 1h1m6.86-5h1m3 0h1m-4 1h1m-2 1h1m-2 1h1m0 1h1m3 1h1m2.86-2h1m4 1h1m3.86-4h1m-2 3h1m-1 1h1m4 0h1m-4 1h1m9.87-5h1m-1 1h1m8.86-1h1m-3 1h1m1 1h1m5.86-2h1m1 1h1m4.86 2h1m2 0h1m3.86-2h1m1 3h1m8.86-3h1m-5 2h1m4 2h1m-74.89 3.85h1m-3 2h1m10.86-1h1m-2 1h1m-1 2h1m-3 1h1m7.86-5h1m2 3h2m7.87-1h1m-5 1h2m3 2h1m3.86-4h1m1 1h1m0 2h1m5.86-4h1m-1 2h1m2 0h1m-3 2h1m7.86-4h1m-3 2h1m2 1h2m-1 1h1m-4 1h1m10.86-2h1m5.86-3h1m-4 1h1m0 1h2m-3 2h1m-1 1h1m2 0h1m-79.75 3.84h1m-1 1h1m0 1h1m-6 2h1m10.86-4h1m1 0h1m-4 2h1m-2 2h1m0 1h1m7.86-5h2m5.86 1h1m1 0h1m6.87-1h1m-2 2h1m2 3h1m8.86-3h1m3.86-2h1m1 0h1m1 0h1m-5 2h1m2 0h1m-3 1h1m1 0h1m5.86 0h1m5.86-3h1m3 0h1m-5 1h2m2 0h1m8.86-1h1m-6 1h1m-79.75 8.85h1m3 0h1m6.86 0h2m-6 3h1m4 0h1m4.86-2h1m-1 1h1m-1 2h1m7.86-4h1m6.87-1h1m1 0h1m-3 2h1m2 1h1m-2 1h1m6.86-1h1m-1 1h1m8.86-3h1m-3 1h1m3 1h1m-2 1h1m-4 1h1m7.86-2h1m7.86 0h1m10.86-3h1m-4 1h1m-2 1h1m1 1h1m1 0h1m0 1h1m-3 1h1m-83.75 6.85h1m0 1h1m16.72-4h1m3 4h1m7.86-3h1m-4 3h1m-3 1h1m7.87-5h1m1 0h1m1 3h1m5.86-3h1m-1 3h1m6.86-2h1m-1 1h1m1 0h1m-2 1h1m-3 1h1m-1 1h1m11.86-5h1m-5 1h1m4 0h1m-4 3h1m-1 1h2m5.86-5h1m3 2h1m-3 1h1m9.86-3h1m-1 1h1m-5 3h1m-1 1h1m-76.75 3.85h1m-6 1h1m3 0h1m-2 1h3m-3 1h1m1 0h1m-2 2h1m7.86-3h1m-1 1h1m-5 1h1m8.86-4h1m1 0h1m-2 1h1m2 0h1m-6 2h2m1 0h2m0 2h1m5.86-3h2m-3 2h1m-1 1h1m6.87-4h1m1 3h1m1 0h1m-6 1h1m12.86-2h1m-6 2h1m11.86-4h1m-1 3h1m0 1h1m5.86-5h1m-2 1h1m0 1h1m-3 2h1m0 1h1m2 0h1m6.86-2h1m3.86-2h1m4 0h1m-6 2h1m-76.75 5.84h1m0 1h1m-4 1h1m1 3h1m6.86-5h1m-2 1h1m0 4h1m4.86-5h1m3 2h1m-1 2h2m3.86-4h1m-2 3h1m1 0h1m7.87-3h1m2 0h1m7.86 0h1m-4 1h2m-4 3h2m2 0h1m6.86 0h1m4.86-1h1m7.86-3h1m2 1h1m-1 1h1m-4 2h1m10.86-3h1m-3 1h1m-1 3h1"/>
<path stroke="#39b777" d="M5.44 17.48h1m2 0h1m-4 3h1m5.86-1h1m2 0h1m1 0h1m3.86-2h1m7.86 1h1m2 0h1m26.58-1h1m16.72 0h1m6.86-1h1m-84.74 9.79h3m9.86 0h2m-6 3h1m7.86-2h4m17.72-3h1m3.86 4h2m2 0h2m16.72-2h1m-6 3h1m7.86-2h4m4.86-1h1m-79.74 7.78h2m8.86 2h1m6.86-1h3m4.86-1h3m7.86 1h1m16.72 0h1m6.86 1h3m3.86-2h1m9.86 2h1m-79.74 5.78h1m8.86 1h1m5.86 3h1m2 0h1m14.72-4h1m-1 2h1m-1 1h1m-1 1h1m4.86 0h1m9.86-4h1m-1 1h1m-1 1h1m-1 1h1m10.86-2h1m7.86-1h1m-4 1h1m2 0h1m-4 2h1m2 0h1m-1 1h1m-4 1h1m6.86-1h1m-1 1h1m-81.74 7.78h1m-1 1h1m11.86-5h1m5.86 5h1m26.58-5h1m-1 2h1m14.72-1h1m-1 1h1m7.86 0h1m-1 1h1m-1 2h1m10.86-5h1m-1 2h1m-82.74 11.79h1m16.72-2h1m7.86-2h1m-1 2h1m-1 1h1m17.72-4h1m-1 1h1m15.72-1h1m-1 1h1m-1 1h1m-1 1h1m9.86-3h1m-1 5h1m-72.88 8.78h1m5.86-2h1m-1 2h1m7.86-5h1m-1 1h1m-1 1h1m-1 1h1m-1 1h1m6.86-2h1m1 1h1m0 1h1m7.86-2h1m1 1h1m7.86-2h1m-4 4h1m5.86-3h2m2 3h1m6.86-5h1m-1 1h1m-4 2h2m8.86-2h1m1 2h1m8.86-1h1m-4 3h1m-78.74 5.78h1m7.86 0h2m-4 3h1m10.86-2h1m7.86-1h1m-3 1h1m-2 1h1m-2 1h1m9.86-5h1m-1 1h1m-2 1h1m-3 1h2m10.86-3h1m-3 2h1m-2 1h1m7.86-1h1m0 1h1m9.86-1h1m-2 1h1m-2 1h1m8.86-4h1m-1 1h1m-4 2h1m-1 1h1m12.86-2h1m-4 2h1m-2 1h1m-79.74 3.79h1m-1 1h1m0 1h1m1 1h1m3.86-3h2m-1 1h1m2 2h1m2.86-1h1m1 1h1m0 1h1m8.86-4h1m-3 2h1m-3 1h1m10.86-2h1m-2 1h1m-2 1h1m8.86-3h1m0 2h1m0 1h1m3.86-1h2m0 1h1m0 1h1m0 1h1m8.86-3h1m4.86-2h1m0 2h1m1 2h1m5.86-4h1m-2 1h1m-77.74 9.78h1m-3 1h1m-2 1h2m6.86-1h1m0 1h1m-1 1h1m7.86-4h1m-2 1h1m-2 1h1m11.86-1h1m-3 1h1m8.86-1h2m-4 2h1m9.86-1h2m7.86-1h1m-3 2h1m-2 1h1m9.86-3h2m-4 3h1m8.86-5h1m8.86 2h1m-2 1h1m-2 1h1m-78.81 21.73h1m-1 1h1m7.86-4h1m-5 1h1m3 0h1m-4 2h1m11.86 0h1m2.86-3h1m2 0h1m-3 2h1m9.87-1h1m-4 2h1m12.86-2h1m-3 2h1m4.86-1h1m-44.31 7.84h1m-1 3h1m6.86 0h2m8.86-3h1m1 0h1m0 1h1m3.87-1h1m1 1h1m1 3h1m2.86-3h1m4 0h1m-6 3h2m9.86-3h1m4.86 1h1m8.86 1h1m9.86-4h1m1 3h1m-6 2h1m1 0h1m-81.75 5.85h2m6.86 0h3m-3 3h2m10.86-2h1m5.86 1h1m8.87-1h1m7.86-2h1m-1 1h1m12.72 0h1m3 0h1m6.86-2h1m0 4h1m4.86-4h1m2 5h1m-84.75 3.85h1m0 1h1m1 2h1m1 2h1m2.86-3h1m2 0h1m8.86-2h1m-5 1h1m4 0h1m-6 1h1m2 0h1m0 1h1m4.86-2h2m1 1h1m-4 2h1m6.87-1h1m2 2h1m8.86-1h1m4.86-4h1m6.86 5h1m8.86-5h1m2 5h1m-75.89 4.85h1m1 0h1m-1 1h1m7.86 0h1m2 2h1m7.86-3h1m-6 1h1m9.86-1h1m-3 1h1m4 2h1m4.87-4h1m2 0h1m-3 5h1m7.86-4h1m-3 3h1m17.72-4h1m0 1h1m-3 4h1m20.72-2h1m-3 1h1m-82.75 6.84h1m2 2h1m-1 1h1m6.86-3h1m0 1h1m-1 1h1m3.86-4h1m2 3h1m1 2h1m16.73-5h1m-5 1h2m7.86 0h2m0 1h1m3.86 2h2m3 0h1m-3 1h1m5.86-4h1m-1 4h1m2 0h1m4.86-3h1m3 2h1m-3 1h1m-70.89 6.85h1m17.72-2h1m-6 4h1m9.86-3h1m-2 1h1m-1 1h1m1 0h1m18.73-3h1m5.86 1h1m-3 1h1m11.86 2h1m6.86-5h1m-4 4h1m10.86 1h1m-84.75 5.85h1m3 0h1m8.86 2h1m11.72-1h1m0 1h1m2 0h1m3.87-2h1m-1 3h1m8.86-5h1m0 1h1m8.86 0h1m1 1h1m-2 1h1m4.86-3h1m1 0h1m0 1h1m-2 1h1m0 2h1m3.86-2h1m0 1h2m-2 1h1m3 1h1m5.86-3h1m-81.75 9.85h1m5.86-3h1m0 1h1m-2 2h1m1 2h1m6.86-1h1m2 1h1m8.86-3h1m5.87-1h1m-2 2h1m-2 2h1m10.86-1h1m3.86-3h1m11.86 2h1m5.86-1h1m-3 2h1m2 0h1m8.86-2h1m-4 2h1m-1 1h1m-81.75 4.84h1m4 1h1m-2 1h1m8.86 0h1m23.59-2h1m0 2h1m4.86-2h1"/>
<path stroke="#5fc860" d="M4.44 17.48h1m1 0h2m-2 3h1m5.86-1h2m1 0h1m5.86-3h2m1 0h1m4.86 2h2m8.86 0h2m7.86-2h1m3.86 1h1m1 0h2m0 2h1m6.86-4h1m-5 1h1m9.86 1h3m3.86-1h4m-79.74 8.79h1m5.86 1h2m8.86 2h2m3.86-2h1m2 3h2m2.86-5h1m1 0h2m1 0h1m4.86 4h2m6.86-2h1m1 0h2m3.86 0h4m0 2h1m6.86-2h1m8.86-1h1m-85.74 8.78h1m12.86 3h1m2.86-2h2m6.86-1h1m8.86 1h2m1 0h2m3.86 2h1m1 0h2m3.86-2h2m3 0h1m2.86 1h2m9.86-3h3m3.86 3h1m1 0h1m-82.74 5.78h2m1 0h2m7.86 1h1m3.86 3h1m1 0h2m5.86-4h1m-1 3h1m-1 1h1m-1 1h1m8.86-4h1m0 4h1m3.86-4h1m-1 1h1m-1 3h1m21.72-5h1m-1 2h1m-1 3h1m4.86-5h1m-1 2h1m2 0h1m-4 2h1m6.86-3h1m-1 1h1m-1 1h1m-68.88 6.78h1m-1 2h1m-1 1h1m5.86-4h1m-1 2h1m5.86 1h1m-1 1h1m-1 1h1m11.86-5h1m-1 1h1m-1 3h1m7.86 1h1m5.86-3h1m-1 2h1m-1 1h1m6.86-5h1m-2 4h1m-1 1h1m8.86-5h1m-1 1h1m-2 4h1m11.86-4h1m-1 3h1m-1 1h1m-82.74 4.79h1m-1 1h1m10.86-2h1m-1 2h1m-1 2h1m4.86-4h1m-1 1h1m-1 1h1m-1 2h1m7.86-4h1m-1 2h1m6.86 3h1m8.86-1h1m-1 1h1m8.86-5h1m-1 1h1m-1 1h1m-1 1h1m-1 1h1m-1 1h1m9.86 0h1m6.86-4h1m-1 2h1m6.86 2h1m-80.74 6.78h1m-1 1h1m5.86-4h1m-1 1h1m-1 1h1m-1 2h1m15.72-1h2m1 2h1m6.86-5h1m10.86 2h1m-2 1h1m-2 2h1m6.86-2h1m0 1h1m-1 1h1m18.72-2h1m6.86 0h1m-2 1h1m-78.74 6.78h1m-3 2h1m-1 1h1m7.86-2h1m-2 1h1m8.86-4h1m-1 1h1m8.86 2h1m-3 2h1m7.86-5h1m-1 1h1m8.86-1h1m-1 1h1m-4 2h1m7.86-1h1m1 2h1m0 1h1m9.86-3h1m-4 3h1m7.86-4h1m8.86 2h1m-78.74 7.79h1m5.86 0h1m7.86 3h1m4.86-3h1m9.86-1h1m-3 2h1m10.86-3h1m-1 1h1m0 1h1m0 1h1m5.86 2h1m7.86-1h1m-1 1h1m9.86-2h1m4.86-3h1m-2 2h1m-77.74 9.78h1m3.86-1h1m10.86-2h1m7.86 4h1m7.86-1h1m-2 2h1m7.86-5h1m-1 1h1m0 1h1m1 0h1m6.86 1h1m-2 2h1m8.86-2h1m-2 1h1m6.86-4h1m-1 1h1m-3 2h1m12.86-1h1m-4 3h1m-78.81 17.73h1m-3 1h1m-2 1h1m7.86-1h1m0 1h1m-3 3h1m4 0h1m5.86-5h1m-4 1h1m0 2h1m2 1h1m-2 1h1m8.86-4h1m-5 1h1m-1 1h1m3 2h1m5.87-3h1m1 0h1m4.86 0h1m3 3h1m2.86-4h1m3 2h1m-1 2h1m6.86-5h1m1 0h1m-6 2h1m1 2h2m7.86-3h1m0 2h1m8.86-2h1m-2 1h1m-3 3h1m-82.75 4.84h2m2 2h1m-2 1h1m0 1h1m8.86-2h1m4.86 0h1m2 2h1m2.86-5h1m9.87 4h1m6.86-4h1m1 0h1m0 2h1m3.86-2h1m4 4h1m4.86 0h1m-1 1h1m5.86-1h1m1 1h1m10.86-4h1m-6 1h1m3 1h1m-1 1h1m-84.75 8.85h1m12.86-4h1m-2 5h1m6.86-5h1m4.86 3h1m2 2h1m4.87-5h1m1 0h1m-1 4h1m0 1h1m7.86-2h1m-4 1h1m11.86-3h1m-2 2h1m5.86 1h1m0 1h1m7.86-5h1m5.86 0h1m2 4h2m-3 1h1m-80.75 4.85h1m-1 2h1m8.86-2h1m-1 4h1m9.86-2h1m4.86 0h1m6.87-3h1m0 2h2m0 3h1m4.86-4h1m9.86 0h1m0 3h1m-5 1h1m10.86-4h1m8.86-1h1m-3 1h1m10.86 0h1m-5 1h1m1 0h1m-3 2h1m2 1h1m-80.75 6.85h1m3.86-2h1m0 1h1m2 0h1m5.86-1h1m-3 2h1m0 1h1m1 0h1m0 1h1m3.86-4h1m-1 2h1m8.87-2h1m9.86-1h1m1 1h1m-1 1h1m3.86-2h1m6.86 0h1m-1 1h1m1 0h1m-1 1h1m-2 1h1m7.86-2h1m-1 2h2m1 0h1m-3 1h1m1 1h1m5.86-5h1m2 5h1m-72.89 3.84h1m-3 4h1m9.86-3h1m15.73 0h1m-1 2h1m-4 1h1m4 0h1m-5 1h1m6.86-1h1m9.86 1h1m6.86-5h2m-2 2h1m-2 1h1m2 0h1m-4 1h1m1 0h1m2 0h1m-1 1h1m3.86 0h1m3 0h1m6.86-3h1m-2 1h1m-3 2h1m-78.75 4.85h1m-2 3h1m-1 1h1m18.72-5h1m-1 3h2m-3 1h1m6.86-4h1m-3 4h1m-1 1h1m8.87-4h1m-2 1h1m3 3h1m7.86-5h1m-1 1h1m-3 1h1m0 1h1m0 2h1m5.86-2h1m-1 2h1m8.86-5h1m0 5h1m8.86-5h1m-4 1h1m0 3h1m9.86-3h1m-4 1h1m0 1h1m-2 1h1m-2 1h2m-77.75 5.85h1m7.86-1h1m-3 1h1m8.86-2h1m6.86 0h1m8.87 1h1m-2 3h1m17.72-4h1m-5 2h1m9.86 0h1m10.86 1h1m-6 2h1m1 0h1m10.86-2h1m-3 1h1m-70.89 5.85h1m-5 1h1m0 1h1m6.86-2h1m2 1h1m-2 1h1m5.86-3h1m3 0h1m-1 1h1m-3 2h1m9.87 0h2m-5 1h1m6.86-4h1m1 5h1m9.86-3h2m2.86-1h1m3 0h1m0 2h1m-2 1h1m-1 1h1m8.86-5h1m-4 1h1m2 1h1m-5 1h1m1 2h2m-73.89 6.84h1m9.86 1h1m-4 1h1m7.86-4h1m3 1h1m3.86-1h1m3 1h1m-6 2h1m1 0h1m-3 1h1m20.73-3h1m-4 1h1m1 0h1m6.86-3h1m-3 1h1m1 0h1m-2 1h1m-1 1h1m0 2h1m6.86-3h1m2 3h1m17.72-5h1m-3 3h1m1 0h1m-2 1h1"/>
<path stroke="#90d643" d="M3.44 17.48h1m4 1h1m-1 1h1m-6 1h2m19.72-5h1m-1 1h1m12.72 2h1m1 0h2m1 1h1m-2 1h2m3.86-4h4m3.86 1h1m1 0h1m1 1h1m-3 1h1m1 0h1m5.86-4h2m1 0h1m2.86 2h2m10.86-2h1m-82.74 9.79h2m1 0h1m2.86 1h2m3 1h1m-1 1h1m2.86 0h1m10.86-1h1m1 0h1m-5 2h1m1 0h1m5.86-5h1m6.86 5h2m1 0h3m7.86-4h1m-6 1h2m1 0h1m4.86 0h1m4 1h1m7.86-2h1m-6 1h4m1 0h1m-74.88 6.78h4m2.86 4h4m9.86-4h1m-6 1h2m1 0h3m7.86-1h1m7.86 1h1m-6 1h1m7.86 2h1m1 0h1m2 0h1m4.86-2h1m1 0h1m6.86 2h1m1 0h1m2.86-4h3m8.86 2h3m-85.74 6.78h1m11.86 0h1m-5 1h4m4.86 4h2m8.86-4h1m-1 1h1m14.72 1h1m12.86-1h1m-3 3h1m1 0h1m7.86-2h1m-1 1h1m5.86 1h1m5.86-5h1m-2 5h1m-80.74 3.78h1m-1 3h1m18.72-2h1m-1 3h1m-2 1h1m6.86-5h1m-1 1h1m-1 1h1m11.86 0h1m-1 3h1m7.86-5h1m-1 4h1m5.86-4h1m-1 1h1m-1 2h1m-3 2h2m6.86-4h1m-1 1h1m-1 1h1m7.86 0h1m-1 1h1m11.86-1h1m-82.74 5.79h1m-3 5h1m12.86-4h1m-1 4h1m3.86-2h1m-1 1h1m-2 1h2m7.86-2h1m-1 1h1m-1 1h1m7.86-4h1m-1 2h1m-1 1h1m8.86-1h1m19.72 0h1m-1 1h1m-3 1h1m8.86-3h1m-1 2h1m6.86-4h1m1 0h1m-3 1h1m1 1h1m-3 2h1m1 0h1m-1 1h1m-82.74 3.78h1m-1 1h1m-1 1h1m1 3h1m2.86-4h1m-1 2h1m-1 1h1m-1 1h1m7.86-5h1m-1 2h1m-1 1h1m-1 1h1m-1 1h1m19.72-5h1m-1 1h1m0 1h2m7.86 1h1m-3 1h1m4.86-1h2m0 2h1m7.86-4h1m-2 1h1m10.86 0h2m7.86 1h1m-3 2h1m-79.74 6.78h1m7.86 0h2m-3 2h1m8.86-4h1m-1 1h2m7.86 1h1m2.86-1h2m6.86 0h2m6.86 1h2m0 2h1m9.86-2h2m-3 1h1m1 1h1m3.86-3h1m10.86 1h2m-3 1h1m-2 1h1m-78.74 5.79h1m8.86-1h1m-2 1h2m2.86 1h2m-2 1h1m1 1h1m8.86-5h1m-2 1h2m-3 1h1m7.86-2h2m-3 2h2m15.72 1h2m-2 2h1m11.86-2h2m-2 2h1m6.86-5h1m-1 1h1m0 1h1m3.86 0h1m-1 1h1m-77.74 10.78h1m4.86-2h2m0 1h1m-1 1h1m7.86-5h1m-1 1h1m-3 1h2m9.86 3h1m9.86-2h1m-3 2h1m1 0h1m5.86-5h1m1 0h1m-3 1h1m1 0h1m-2 1h1m15.72 3h1m5.86-3h1m10.86 1h2m-3 1h1m-1 1h1m-78.81 20.73h1m6.86 0h2m7.86 1h1m2.86-3h1m-1 3h1m8.87-3h1m3 2h1m6.86-2h1m-4 3h1m1 0h1m8.86-2h1m0 3h1m2.86-4h1m4 1h1m4.86-2h1m-1 2h1m-1 2h1m6.86-3h1m-81.75 7.84h1m1 1h1m-1 2h1m-3 1h1m3 0h2m3.86-2h1m6.86 1h1m3 1h1m17.73-3h1m-5 3h1m9.86-3h1m-1 1h1m6.86-1h1m10.86 2h1m4.86 1h1m6.86 0h1m3 0h1m-82.75 4.85h1m-4 2h1m0 1h1m6.86-1h1m0 2h1m20.72-3h1m-4 1h1m10.87 1h1m-4 2h1m5.86-5h1m3 3h1m-2 2h1m5.86-5h1m-1 1h1m-2 2h1m4 0h1m7.86-1h1m-4 2h1m9.86-4h1m-5 4h1m-70.89 6.85h1m11.86 1h1m4.86-2h1m1 0h1m4.86 2h1m1 0h1m17.73-2h1m0 3h1m-4 1h1m5.86-3h1m7.86-1h1m4 0h1m-3 3h1m6.86-1h1m1 0h1m3.86-2h1m-76.75 7.85h1m7.86 1h1m0 1h1m14.72-2h1m0 2h1m16.73-1h1m-4 2h1m-2 2h1m10.86-4h1m-4 1h1m11.86-1h1m-5 3h2m19.72-4h1m-3 1h1m-3 2h1m-80.75 8.84h1m1 0h1m6.86 0h1m6.86-1h1m0 2h1m7.86-4h1m0 4h1m16.73-4h1m16.72 5h1m7.86-5h1m-72.89 8.85h1m1 0h1m1 2h1m-3 1h1m8.86-3h1m-3 1h1m-3 4h2m6.86-2h1m12.86-3h1m-1 3h1m2.87-3h1m25.58 1h1m2 0h1m-4 2h1m1 0h1m0 1h1m16.72-3h1m-1 1h1m-78.75 6.85h1m-4 1h1m1 3h1m-1 1h1m4.86-4h1m-1 2h1m1 2h1m9.86-5h1m-5 1h1m-2 2h1m3 0h1m-4 1h1m-2 1h1m17.73 0h1m6.86 0h2m7.86-2h1m11.86-3h1m-2 3h1m4.86-2h1m1 0h1m-1 1h1m-69.89 11.85h1m3.86-1h1m7.86-3h1m20.73 0h1m14.72-1h1m9.86 0h1m-5 3h1m0 1h2m-4 1h1m12.86-1h1m7.86-4h1m-5 1h1m-2 3h1m-78.75 5.84h1m7.86-1h1m-1 4h1m6.86-2h1m7.86 0h1m16.73 0h1m-2 3h1m16.72-4h1m0 3h1m0 1h1m9.86-1h1m3.86-2h1m3 3h1"/>
<path stroke="#c8e026" d="M6.44 18.48h2m-5 1h1m1 0h3m3.86 1h1m1 0h4m2.86-5h1m1 0h2m1 0h1m-6 1h2m6.86 3h2m2 0h1m3.86 0h1m2 0h2m-5 1h2m1 0h1m4.86-5h1m2 0h3m-6 1h1m10.86 2h1m-4 1h2m1 0h1m4.86-4h2m7.86 0h1m1 0h1m1 0h1m-6 1h1m1 0h4m3.86-1h1m1 0h1m1 0h1m-82.74 8.79h1m1 0h1m-6 1h2m6.86 2h1m2 0h2m-5 1h5m4.86 0h3m-1 1h3m2.86-2h3m1 0h1m0 1h1m-6 1h1m1 0h1m16.72 0h1m7.86-5h1m2 0h1m-4 1h1m1 0h1m5.86 2h1m-2 1h4m8.86-4h1m-2 1h1m8.86-1h1m-6 1h1m1 0h3m-84.74 7.78h2m10.86 4h1m-4 1h1m3 0h1m5.86-5h2m-3 1h1m8.86-1h2m4.86 0h1m1 0h1m1 0h1m-6 1h2m1 0h2m3.86 4h1m4 0h1m7.86-5h1m-3 1h3m3.86 3h1m2 0h1m-2 1h1m16.72-5h3m-2 1h2m-6 1h3m-73.88 6.78h1m2 0h1m1 0h1m4.86 5h1m2 0h1m3.86-2h1m-2 2h2m10.86-4h1m-1 1h1m-1 1h1m-1 1h1m0 1h1m2.86-5h1m10.86 0h1m1 0h1m-1 1h1m-3 1h1m-1 1h1m1 0h1m-3 1h3m-2 1h1m16.72-5h1m-2 4h2m-1 1h1m3.86-1h1m-80.74 5.78h1m-1 1h1m12.86-2h1m-1 1h1m-2 1h1m0 2h1m-1 1h1m3.86-2h2m-3 1h2m-2 1h1m20.72-2h2m-1 1h1m-1 1h1m6.86-4h1m0 3h1m-1 1h1m3.86-2h1m-2 1h2m6.86-4h1m7.86 0h1m-1 1h1m12.86-1h1m-1 4h1m-1 1h1m-85.74 3.79h1m-1 2h2m-2 1h2m-2 1h2m-1 1h1m9.86-5h1m-1 2h2m-2 1h1m1 0h1m-3 2h1m5.86-5h1m-1 1h1m-1 1h1m-2 1h1m-1 1h1m8.86-3h1m-1 1h1m-2 2h1m-1 1h1m8.86-5h1m-1 2h1m-2 2h1m-1 1h1m8.86-5h2m-1 1h1m-1 1h1m-3 2h2m-2 1h2m10.86-5h2m-2 4h2m-2 1h1m6.86-5h1m1 0h1m-3 1h1m1 0h1m-3 1h1m-1 1h1m-1 1h1m0 1h1m8.86 0h1m7.86-4h1m-3 1h1m1 1h1m-81.74 7.78h1m-1 2h1m3.86-4h1m-1 2h1m7.86-1h1m7.86 3h1m1 1h1m10.86-5h1m6.86 4h2m2.86 0h1m1 0h1m-3 1h1m9.86-5h1m-3 1h2m-2 1h1m10.86-2h1m1 0h1m-3 1h1m-69.88 10.78h1m-2 1h1m-1 1h1m8.86-1h1m6.86-4h1m0 1h1m5.86 3h2m-2 1h1m1 0h1m11.72-5h1m1 0h1m-3 1h1m1 0h1m18.72 3h1m-2 1h1m4.86-5h3m-3 2h1m10.86 3h1m1 0h1m-82.74 3.79h3m-3 1h1m1 0h1m5.86-1h1m1 0h1m-3 1h1m5.86 3h2m-3 1h2m6.86-5h1m1 0h1m-3 1h1m7.86-1h1m0 1h1m10.86-1h1m0 2h1m2.86 2h1m1 0h1m-2 1h1m11.86-1h1m6.86-4h2m-1 2h1m2.86-2h1m0 1h1m-76.74 10.78h1m-1 1h1m-2 1h1m3.86 0h2m6.86-5h1m-1 1h1m11.86 2h2m-1 1h1m6.86-1h1m-2 1h1m8.86-3h1m8.86 2h1m-2 1h1m-1 1h1m8.86-2h1m-2 1h1m-1 1h1m4.86-5h1m-1 1h1m-2 1h1m11.86 2h2m-2 1h1m-79.81 21.73h1m6.86-2h1m6.86-1h1m0 1h1m8.86 2h1m5.87-1h1m15.72-2h1m-2 4h1m6.86-5h1m0 5h1m6.86-2h1m11.86-2h1m-4 2h1m-1 1h1m1 0h1m-81.75 9.84h1m5.86-4h1m2 1h1m1 2h1m4.86-2h2m8.86-2h2m-4 2h2m4.87-2h1m-1 1h1m3 0h1m-5 3h1m-1 1h1m11.86-4h1m13.72 0h1m-1 4h1m11.86-5h1m-6 3h1m3 0h1m8.86-3h1m-1 2h1m-74.89 7.85h1m5.86 0h1m-1 4h1m9.86-1h1m8.87-2h1m4.86-1h1m0 4h1m16.72-4h1m1 4h1m4.86-4h1m3 1h1m-4 1h1m1 1h1m6.86-4h1m-81.75 8.85h1m1 1h1m7.86-1h1m-2 2h1m-2 3h1m6.86 0h1m12.86-3h1m-1 1h1m2.87-3h1m1 1h1m1 2h2m4.86 1h1m7.86-2h1m9.86-2h1m-3 1h1m2 1h1m-2 2h1m6.86-4h1m-1 1h1m1 2h1m5.86-2h1m-78.75 11.85h1m-5 1h1m10.86-1h1m-2 1h1m6.86-5h1m-2 2h1m1 1h1m1 2h1m4.86-2h1m-3 2h1m4 0h1m5.87-3h1m1 1h1m-6 1h1m1 1h1m9.86-5h1m6.86 0h1m-3 1h1m-1 2h1m18.72-2h1m0 1h1m-5 2h2m-2 1h1m11.86-4h1m-81.75 9.84h1m-2 2h1m5.86-4h1m2 3h1m-3 2h1m2 0h1m7.86-2h1m8.86-1h1m6.87 0h1m-5 1h1m3 1h1m5.86-1h1m0 1h1m0 1h1m3.86-5h1m3 5h1m8.86-3h1m4.86 0h1m-2 2h2m8.86 0h1m-83.75 4.85h1m-1 2h2m2 0h1m-2 3h2m5.86-5h1m2 0h1m-3 2h1m5.86-2h1m-2 2h1m2 0h2m-2 1h1m-3 1h1m-1 1h1m15.73-4h1m2 4h1m9.86-5h1m4.86 0h1m2 1h1m-3 2h1m4.86-1h1m9.86 1h1m-1 2h1m8.86-1h2m-84.75 4.85h1m0 1h1m1 0h1m-2 2h1m9.86-2h1m3.86-1h1m1 1h1m-3 1h1m4 1h1m-2 1h1m5.86-4h1m0 3h1m8.87-3h1m-4 2h1m7.86-1h1m2 0h1m17.72 4h1m5.86-1h1m7.86-1h1m-1 2h2m-84.75 5.85h1m21.72 2h1m-4 1h1m10.86-5h1m-3 3h1m-4 1h1m4 1h1m2.87-4h1m1 0h1m6.86-1h1m1 0h1m-4 1h1m2 1h1m7.86 0h1m-2 1h1m2 1h1m11.72-1h1m1 0h1m7.86-1h1m-1 3h1m-78.75 4.84h1m-5 2h1m0 2h1m7.86-4h1m2 0h1m-5 2h1m3 2h1m4.86-5h1m1 1h2m-1 4h1m6.86-3h1m-2 3h1m7.87-4h1m0 2h1m-1 1h1m1 1h1m7.86-1h1m2.86 1h1m9.86-5h1m2 1h1m-6 3h1m1 0h1m5.86-3h1m-1 1h2m1 2h1m8.86-4h1m0 5h1"/>
<path stroke="#fde725" d="M3.44 18.48h3m-2 1h1m7.86 1h1m7.86-5h1m8.86 4h2m1 0h1m-6 1h6m3.86-2h1m-1 1h2m-1 1h1m6.86-5h2m5.86 3h3m2 0h1m11.72-3h1m1 0h1m1 0h1m-4 1h1m6.86-1h1m1 0h1m-82.74 8.79h3m1 0h1m4.86 3h2m5.86 2h3m5.86-1h5m21.58-4h2m1 0h2m-5 1h2m1 0h1m4.86 2h2m1 0h2m-5 1h1m7.86-4h5m-5 1h4m4.86-1h5m-4 1h1m-72.88 12.78h1m1 0h3m3.86-5h3m5.86 0h3m5.86 0h1m1 0h1m1 0h1m-3 1h1m6.86 4h4m3.86-5h5m-5 1h3m5.86 3h1m1 0h1m-3 1h3m1 0h2m11.72-5h3m-3 1h4m-73.88 7.78h2m8.86 5h2m3.86-5h2m-2 1h2m-2 1h2m-2 1h1m-1 1h2m10.86-4h2m-1 1h1m-1 1h1m-1 1h1m-1 1h1m15.72-4h1m-2 1h2m-1 1h1m-1 1h1m15.72-3h1m-1 1h2m-2 1h2m-2 1h2m3.86-3h1m-1 1h1m-1 1h1m-1 1h1m-66.88 7.78h1m-1 1h1m2.86-3h2m-2 1h2m-2 1h2m-2 1h1m21.72-3h1m-1 1h1m-1 1h1m7.86-2h1m-1 1h1m-2 1h2m-2 1h2m2.86-3h2m-2 1h2m-2 1h2m-2 1h1m16.72-1h1m12.86-1h1m-1 1h1m-1 1h1m-84.74 5.79h1m-2 1h2m10.86-1h1m-2 1h2m-1 2h1m-2 1h2m-1 1h1m3.86-5h1m-1 1h1m-1 1h1m7.86-2h2m-2 1h1m-1 1h1m-1 1h1m7.86-3h1m-1 1h1m-1 1h1m-1 1h1m7.86-3h1m-1 1h2m-2 1h2m-2 1h2m10.86-2h2m-2 1h2m-2 1h2m-1 2h1m6.86-5h1m-1 1h1m-1 1h2m-2 1h1m-1 1h1m8.86-4h1m-1 1h1m-1 1h1m-1 1h1m-1 1h1m6.86-4h1m-1 1h1m-1 1h1m-2 1h2m-1 1h1m-1 1h1m-80.74 3.78h2m-2 1h2m-1 1h1m-2 1h2m-1 1h1m-2 1h1m22.58-1h2m-3 1h2m10.86-5h1m-1 1h2m6.86 4h2m3.86-1h1m-1 1h1m6.86-5h2m10.86 0h1m-1 1h2m6.86 3h2m-2 1h2m-80.74 7.78h1m-1 1h1m5.86-1h2m-1 1h2m7.86-5h1m7.86 4h1m-2 1h1m3.86-5h2m-2 1h2m7.86-1h1m-1 1h1m6.86 3h2m-2 1h2m11.86-1h1m-2 1h1m3.86-4h2m10.86 3h2m-2 1h1m-80.74 4.79h1m7.86-1h1m-1 1h1m13.72-1h1m-1 1h1m6.86 0h1m12.86-1h1m-2 1h2m3.86 3h1m0 1h1m9.86-1h1m0 1h1m6.86-4h2m3.86-1h1m-2 1h1m-76.74 11.78h1m0 1h1m2.86-1h2m7.86-4h1m-1 1h1m10.86 3h1m-1 1h2m6.86-1h2m-2 1h1m7.86-5h1m8.86 4h1m-1 1h1m7.86-1h1m-1 1h1m2.86-5h1m-1 1h1m12.86 4h1m-85.81 18.73h1m0 2h1m19.72 0h1m8.86-3h1m7.87 1h1m-3 4h1m6.86-3h1m-2 1h1m-2 2h1m12.86-4h1m-3 2h1m18.72-3h1m-1 3h1m-5 1h1m6.86-3h1m3 4h1m-79.75 8.84h1m6.86-5h1m-3 2h1m2 0h1m5.86 3h1m27.59-2h1m-3 2h2m4.86-3h1m0 2h1m1 0h1m-2 1h1m13.72-4h1m8.86-1h2m-2 1h1m-76.75 10.85h1m-4 1h1m8.86-3h1m4.86 3h1m4 1h1m3.86-3h1m0 1h1m2 0h1m7.87-2h1m14.72-1h1m1 0h1m-5 3h1m-2 1h1m4 1h1m6.86-5h1m14.72 3h1m2 2h1m-65.03 8.85h1m6.86-3h1m5.87 2h1m-1 1h1m18.72 0h1m2 0h1m2.86-3h1m7.86 1h1m10.86 2h1m-80.75 6.85h1m-3 1h1m6.86-4h1m19.72 1h2m-5 3h1m18.73 1h1m5.86-1h1m18.72-3h1m-1 1h1m-3 1h1m8.86-3h1m-68.89 9.84h1m4.86 2h1m-1 2h1m2 0h1m5.86-5h1m-2 4h1m9.87-4h1m-2 2h1m6.86 1h1m9.86-2h2m7.86-1h1m-3 2h1m-65.03 7.85h1m1 1h1m2 3h1m3.86-1h1m16.72-2h1m0 2h1m2 1h1m6.87-5h1m0 1h1m3.86 0h1m6.86-1h1m2 4h1m-4 1h1m7.86 0h1m2 0h1m8.86-2h1m-1 1h1m3.86-4h1m0 4h1m-2 1h1m-79.75 6.85h1m1 0h2m-5 1h1m1 0h1m2 0h1m7.86-4h1m-4 2h1m2 1h1m4.86-3h1m0 1h1m-2 1h1m-1 2h1m14.73-3h1m2 0h1m-3 3h1m11.86-1h1m16.72 1h1m7.86-4h1m3.86 1h1m-2 1h2m3 0h1m-4 3h1m-80.75 3.85h1m-3 4h1m10.86 0h1m1 1h1m25.59-5h1m-3 3h1m16.72 0h1m9.86-1h1m2.86-2h1m4 1h1m5.86-1h1m-74.89 10.84h1m0 2h1m8.86-1h1m5.86-1h1m1 0h1m2 2h1m4.87 1h1m5.86-5h1m1 0h2m8.86 0h1m-5 4h1m4 1h1m14.72-2h1m-2 2h1m7.86-2h1m-1 1h1"/>
</g></g>
<text x="148.8" y="11.8" font-size="13" font-weight="bold">B</text>
<text x="205" y="15.28" font-size="5.83" text-anchor="middle">Rich Learning</text>
<rect x="182.6" y="24.4" width="15.5" height="54.2" fill="#d07d22"/>
<rect x="202.1" y="27.37" width="15.4" height="51.23" fill="#2000a8"/>
<rect x="221.4" y="43.7" width="15.5" height="34.9" fill="#548dbf"/>
<line x1="190.5" y1="24.03" x2="190.5" y2="24.99" stroke="#000" stroke-width="1"/>
<line x1="209.5" y1="27.22" x2="209.5" y2="27.66" stroke="#000" stroke-width="1"/>
<line x1="229.5" y1="43.55" x2="229.5" y2="44" stroke="#000" stroke-width="1"/>
<line x1="179.5" y1="19.2" x2="179.5" y2="78.6" stroke="#222" stroke-width="0.8"/>
<line x1="177" y1="19.5" x2="179.3" y2="19.5" stroke="#222" stroke-width="0.8"/>
<text x="174" y="21.34" font-size="6.3" text-anchor="end">0.8</text>
<line x1="177" y1="34.5" x2="179.3" y2="34.5" stroke="#222" stroke-width="0.8"/>
<text x="174" y="36.19" font-size="6.3" text-anchor="end">0.6</text>
<line x1="177" y1="48.5" x2="179.3" y2="48.5" stroke="#222" stroke-width="0.8"/>
<text x="174" y="51.04" font-size="6.3" text-anchor="end">0.4</text>
<line x1="177" y1="63.5" x2="179.3" y2="63.5" stroke="#222" stroke-width="0.8"/>
<text x="174" y="65.89" font-size="6.3" text-anchor="end">0.2</text>
<line x1="177" y1="78.5" x2="179.3" y2="78.5" stroke="#222" stroke-width="0.8"/>
<text x="174" y="80.74" font-size="6.3" text-anchor="end">0.0</text>
<line x1="179.3" y1="78.5" x2="238.5" y2="78.5" stroke="#222" stroke-width="0.85"/>
<text x="162" y="50.2" font-size="5.87" text-anchor="middle" transform="rotate(-90 162 50.2)">output weight magnitude</text>
<text x="209" y="90.15" font-size="5.73" text-anchor="middle">Lazy Learning</text>
<rect x="183.5" y="116.72" width="15.4" height="38.58" fill="#d07d22"/>
<rect x="202.5" y="116.72" width="15.2" height="38.58" fill="#2000a8"/>
<rect x="221.4" y="125.11" width="14.9" height="30.19" fill="#548dbf"/>
<line x1="191.5" y1="115.04" x2="191.5" y2="118.4" stroke="#000" stroke-width="1.1"/>
<line x1="210.5" y1="115.46" x2="210.5" y2="117.98" stroke="#000" stroke-width="1.1"/>
<line x1="228.5" y1="124.69" x2="228.5" y2="125.52" stroke="#000" stroke-width="1"/>
<line x1="180.5" y1="88.2" x2="180.5" y2="155.3" stroke="#222" stroke-width="0.8"/>
<line x1="178.3" y1="88.5" x2="180.6" y2="88.5" stroke="#222" stroke-width="0.8"/>
<text x="175.3" y="90.34" font-size="6.3" text-anchor="end">0.8</text>
<line x1="178.3" y1="104.5" x2="180.6" y2="104.5" stroke="#222" stroke-width="0.8"/>
<text x="175.3" y="107.12" font-size="6.3" text-anchor="end">0.6</text>
<line x1="178.3" y1="121.5" x2="180.6" y2="121.5" stroke="#222" stroke-width="0.8"/>
<text x="175.3" y="123.89" font-size="6.3" text-anchor="end">0.4</text>
<line x1="178.3" y1="138.5" x2="180.6" y2="138.5" stroke="#222" stroke-width="0.8"/>
<text x="175.3" y="140.67" font-size="6.3" text-anchor="end">0.2</text>
<line x1="178.3" y1="155.5" x2="180.6" y2="155.5" stroke="#222" stroke-width="0.8"/>
<text x="175.3" y="157.44" font-size="6.3" text-anchor="end">0.0</text>
<line x1="180.6" y1="155.5" x2="238.7" y2="155.5" stroke="#222" stroke-width="0.85"/>
<line x1="191.5" y1="155.3" x2="191.5" y2="158.3" stroke="#222" stroke-width="0.85"/>
<line x1="210.5" y1="155.3" x2="210.5" y2="158.3" stroke="#222" stroke-width="0.85"/>
<line x1="228.5" y1="155.3" x2="228.5" y2="158.3" stroke="#222" stroke-width="0.85"/>
<text x="191.4" y="167.3" font-size="6.05" text-anchor="middle" transform="rotate(-31 191.4 165.2)">task a</text>
<text x="210.3" y="167.3" font-size="6.05" text-anchor="middle" transform="rotate(-31 210.3 165.2)">task b</text>
<text x="229" y="167.3" font-size="6.05" text-anchor="middle" transform="rotate(-31 229 165.2)">agnostic</text>
<text x="210" y="176.81" font-size="6.22" text-anchor="middle">unit type</text>
<text x="163" y="123.8" font-size="5.87" text-anchor="middle" transform="rotate(-90 163 123.8)">output weight magnitude</text>
<text x="246.1" y="11.8" font-size="13" font-weight="bold">C</text>
<text x="295.8" y="16.01" font-size="6.81" text-anchor="middle">Rich Learning</text>
<rect x="277.1" y="23.4" width="3.95" height="70" fill="#1b0b7c"/>
<rect x="281.05" y="23.4" width="3.95" height="70" fill="#e49b2b"/>
<rect x="286.7" y="23.4" width="3.95" height="70" fill="#1b0b7c"/>
<rect x="290.65" y="23.4" width="3.95" height="70" fill="#e49b2b"/>
<rect x="296.3" y="61.9" width="3.95" height="31.5" fill="#1b0b7c"/>
<rect x="300.25" y="23.4" width="3.95" height="70" fill="#e49b2b"/>
<rect x="305.9" y="23.4" width="3.95" height="70" fill="#1b0b7c"/>
<rect x="309.85" y="65.4" width="3.95" height="28" fill="#e49b2b"/>
<line x1="298" y1="57.7" x2="298" y2="64.7" stroke="#000" stroke-width="1.3"/>
<line x1="311.8" y1="61.9" x2="311.8" y2="68.9" stroke="#000" stroke-width="1.3"/>
<line x1="274.5" y1="23.4" x2="274.5" y2="93.4" stroke="#222" stroke-width="0.8"/>
<line x1="271.2" y1="23.5" x2="274.7" y2="23.5" stroke="#222" stroke-width="0.8"/>
<text x="270" y="25.64" font-size="6.6" text-anchor="end">100</text>
<line x1="271.2" y1="58.5" x2="274.7" y2="58.5" stroke="#222" stroke-width="0.8"/>
<text x="270" y="60.64" font-size="6.6" text-anchor="end">75</text>
<line x1="271.2" y1="93.5" x2="274.7" y2="93.5" stroke="#222" stroke-width="0.8"/>
<text x="270" y="95.64" font-size="6.6" text-anchor="end">50</text>
<line x1="271.2" y1="93.5" x2="315.3" y2="93.5" stroke="#222" stroke-width="0.85"/>
<line x1="281.5" y1="93.4" x2="281.5" y2="96.4" stroke="#222" stroke-width="0.85"/>
<line x1="290.5" y1="93.4" x2="290.5" y2="96.4" stroke="#222" stroke-width="0.85"/>
<line x1="300.5" y1="93.4" x2="300.5" y2="96.4" stroke="#222" stroke-width="0.85"/>
<line x1="309.5" y1="93.4" x2="309.5" y2="96.4" stroke="#222" stroke-width="0.85"/>
<text x="283.46" y="96.5" font-size="7.25" text-anchor="end" transform="rotate(-90 283.46 96.5)">none</text>
<text x="293.06" y="96.5" font-size="7.25" text-anchor="end" transform="rotate(-90 293.06 96.5)">task agnostic</text>
<text x="302.46" y="96.5" font-size="7.25" text-anchor="end" transform="rotate(-90 302.46 96.5)">task a sel.</text>
<text x="312.26" y="96.5" font-size="7.25" text-anchor="end" transform="rotate(-90 312.26 96.5)">task b sel.</text>
<text x="258.55" y="58" font-size="6.92" text-anchor="middle" transform="rotate(-90 258.55 58)">accuracy (%)</text>
<text x="296.7" y="146.75" font-size="6.91" text-anchor="middle">ablated units</text>
<text x="363.5" y="18.27" font-size="6.69" text-anchor="middle">Lazy Learning</text>
<rect x="345" y="24.3" width="3.95" height="70.1" fill="#1b0b7c"/>
<rect x="348.95" y="24.3" width="3.95" height="70.1" fill="#e49b2b"/>
<rect x="354.7" y="32.71" width="3.95" height="61.69" fill="#1b0b7c"/>
<rect x="358.65" y="36.22" width="3.95" height="58.18" fill="#e49b2b"/>
<rect x="364.4" y="28.93" width="3.95" height="65.47" fill="#1b0b7c"/>
<rect x="368.35" y="29.63" width="3.95" height="64.77" fill="#e49b2b"/>
<rect x="374.1" y="29.49" width="3.95" height="64.91" fill="#1b0b7c"/>
<rect x="378.05" y="31.59" width="3.95" height="62.81" fill="#e49b2b"/>
<line x1="356.7" y1="29.91" x2="356.7" y2="35.52" stroke="#000" stroke-width="1.3"/>
<line x1="360.5" y1="33.41" x2="360.5" y2="39.02" stroke="#000" stroke-width="1.3"/>
<line x1="366.4" y1="27.81" x2="366.4" y2="29.91" stroke="#000" stroke-width="1.3"/>
<line x1="370.4" y1="28.51" x2="370.4" y2="31.03" stroke="#000" stroke-width="1.3"/>
<line x1="376" y1="28.23" x2="376" y2="30.75" stroke="#000" stroke-width="1.3"/>
<line x1="380" y1="29.21" x2="380" y2="34.11" stroke="#000" stroke-width="1.3"/>
<line x1="344.5" y1="24.3" x2="344.5" y2="94.4" stroke="#222" stroke-width="0.8"/>
<line x1="340.6" y1="24.5" x2="344.1" y2="24.5" stroke="#222" stroke-width="0.8"/>
<text x="339.4" y="26.54" font-size="6.6" text-anchor="end">100</text>
<line x1="340.6" y1="59.5" x2="344.1" y2="59.5" stroke="#222" stroke-width="0.8"/>
<text x="339.4" y="61.59" font-size="6.6" text-anchor="end">75</text>
<line x1="340.6" y1="94.5" x2="344.1" y2="94.5" stroke="#222" stroke-width="0.8"/>
<text x="339.4" y="96.64" font-size="6.6" text-anchor="end">50</text>
<line x1="340.6" y1="94.5" x2="385" y2="94.5" stroke="#222" stroke-width="0.85"/>
<line x1="349.5" y1="94.4" x2="349.5" y2="97.4" stroke="#222" stroke-width="0.85"/>
<line x1="358.5" y1="94.4" x2="358.5" y2="97.4" stroke="#222" stroke-width="0.85"/>
<line x1="368.5" y1="94.4" x2="368.5" y2="97.4" stroke="#222" stroke-width="0.85"/>
<line x1="378.5" y1="94.4" x2="378.5" y2="97.4" stroke="#222" stroke-width="0.85"/>
<text x="351.46" y="97.6" font-size="7.25" text-anchor="end" transform="rotate(-90 351.46 97.6)">none</text>
<text x="361.06" y="97.6" font-size="7.25" text-anchor="end" transform="rotate(-90 361.06 97.6)">task agnostic</text>
<text x="370.86" y="97.6" font-size="7.25" text-anchor="end" transform="rotate(-90 370.86 97.6)">task a sel.</text>
<text x="380.46" y="97.6" font-size="7.25" text-anchor="end" transform="rotate(-90 380.46 97.6)">task b sel.</text>
<text x="327.9" y="59.8" font-size="6.77" text-anchor="middle" transform="rotate(-90 327.9 59.8)">accuracy (%)</text>
<text x="365" y="148.35" font-size="6.91" text-anchor="middle">ablated units</text>
<rect x="311.2" y="158.2" width="5.7" height="3.3" fill="#e49b2b"/>
<text x="318.9" y="161.69" font-size="5.55">task a</text>
<rect x="336.3" y="158.2" width="6.2" height="3.3" fill="#1b0b7c"/>
<text x="344" y="161.69" font-size="5.55">task b</text>
<text x="396.1" y="11.8" font-size="13" font-weight="bold">D</text>
<text x="477.2" y="16.32" font-size="5.94" text-anchor="middle">Estimated Unit Selectivity</text>
<rect x="434.6" y="111.88" width="23.4" height="32.17" fill="#0e065e"/>
<rect x="434.6" y="109.7" width="23.4" height="2.23" fill="#e0602a"/>
<rect x="434.6" y="96.49" width="23.4" height="13.26" fill="#ae4019"/>
<rect x="434.6" y="88.85" width="23.4" height="7.69" fill="#5a7fcf"/>
<rect x="434.6" y="24.13" width="23.4" height="64.77" fill="#3d6b17"/>
<rect x="434.6" y="22.8" width="23.4" height="1.38" fill="#8c9a2c"/>
<line x1="423.5" y1="22.8" x2="423.5" y2="144" stroke="#222" stroke-width="0.8"/>
<line x1="424.7" y1="22.5" x2="423.5" y2="22.5" stroke="#222" stroke-width="0.8"/>
<text x="420.7" y="24.94" font-size="6.3" text-anchor="end">100</text>
<line x1="424.7" y1="47.5" x2="423.5" y2="47.5" stroke="#222" stroke-width="0.8"/>
<text x="420.7" y="49.18" font-size="6.3" text-anchor="end">80</text>
<line x1="424.7" y1="71.5" x2="423.5" y2="71.5" stroke="#222" stroke-width="0.8"/>
<text x="420.7" y="73.42" font-size="6.3" text-anchor="end">60</text>
<line x1="424.7" y1="95.5" x2="423.5" y2="95.5" stroke="#222" stroke-width="0.8"/>
<text x="420.7" y="97.66" font-size="6.3" text-anchor="end">40</text>
<line x1="424.7" y1="119.5" x2="423.5" y2="119.5" stroke="#222" stroke-width="0.8"/>
<text x="420.7" y="121.9" font-size="6.3" text-anchor="end">20</text>
<line x1="424.7" y1="144.5" x2="423.5" y2="144.5" stroke="#222" stroke-width="0.8"/>
<text x="420.7" y="146.14" font-size="6.3" text-anchor="end">0</text>
<line x1="423.5" y1="144.5" x2="472.2" y2="144.5" stroke="#222" stroke-width="0.85"/>
<text x="444.5" y="152.61" font-size="5.92" text-anchor="middle">Monkey F</text>
<text x="409.02" y="85.4" font-size="5.95" text-anchor="middle" transform="rotate(-90 409.02 85.4)">Percentage of significant units (%)</text>
<rect x="462.8" y="26.3" width="14.1" height="3.8" fill="#e0602a"/>
<text x="478.9" y="30.1" font-size="5.6">motion task - rel. dim.</text>
<rect x="462.8" y="32" width="14.1" height="3.8" fill="#a83c18"/>
<text x="478.9" y="35.8" font-size="5.6">motion task - irrel. dim.</text>
<rect x="462.8" y="38.2" width="14.1" height="3.8" fill="#1a0a8a"/>
<text x="478.9" y="42" font-size="5.6">colour task - rel. dim.</text>
<rect x="462.8" y="44.5" width="14.1" height="3.8" fill="#0c0848"/>
<text x="478.9" y="48.3" font-size="5.6">colour task - irrel. dim.</text>
<rect x="462.8" y="53.1" width="14.1" height="3.8" fill="#5a80d0"/>
<text x="478.9" y="56.9" font-size="5.6">motion &amp; colour</text>
<rect x="462.8" y="68.3" width="14.1" height="3.8" fill="#3a6e1a"/>
<text x="478.9" y="72.1" font-size="5.6">only colour</text>
<rect x="462.8" y="74.6" width="14.1" height="3.8" fill="#d8e020"/>
<text x="478.9" y="78.4" font-size="5.6">only motion</text>
<rect x="462.8" y="82.2" width="14.1" height="3.8" fill="#000000"/>
<text x="478.9" y="86" font-size="5.6">other</text>
<text x="478.9" y="62.6" font-size="5.6">(task agnostic)</text>
<text x="153.3" y="186.8" font-size="13" font-weight="bold">E</text>
<rect x="183" y="201" width="5" height="82.2" fill="#3b7419"/>
<rect x="188" y="201" width="4.6" height="82.2" fill="#d2202a"/>
<rect x="195.35" y="201.49" width="5" height="81.71" fill="#3b7419"/>
<rect x="200.35" y="201" width="4.6" height="82.2" fill="#d2202a"/>
<rect x="207.7" y="224.02" width="5" height="59.18" fill="#3b7419"/>
<rect x="212.7" y="271.69" width="4.6" height="11.51" fill="#d2202a"/>
<line x1="209.7" y1="218.26" x2="209.7" y2="229.77" stroke="#000" stroke-width="1.4"/>
<line x1="214.8" y1="269.23" x2="214.8" y2="274.16" stroke="#000" stroke-width="1.4"/>
<line x1="182.5" y1="201" x2="182.5" y2="283.2" stroke="#222" stroke-width="0.8"/>
<line x1="179" y1="201.5" x2="182" y2="201.5" stroke="#222" stroke-width="0.8"/>
<text x="177.8" y="203.14" font-size="6.3" text-anchor="end">100</text>
<line x1="179" y1="242.5" x2="182" y2="242.5" stroke="#222" stroke-width="0.8"/>
<text x="177.8" y="244.24" font-size="6.3" text-anchor="end">75</text>
<line x1="179" y1="283.5" x2="182" y2="283.5" stroke="#222" stroke-width="0.8"/>
<text x="177.8" y="285.34" font-size="6.3" text-anchor="end">50</text>
<line x1="179" y1="283.5" x2="218.7" y2="283.5" stroke="#222" stroke-width="0.85"/>
<line x1="188.5" y1="283.2" x2="188.5" y2="286.2" stroke="#222" stroke-width="0.85"/>
<line x1="200.5" y1="283.2" x2="200.5" y2="286.2" stroke="#222" stroke-width="0.85"/>
<line x1="212.5" y1="283.2" x2="212.5" y2="286.2" stroke="#222" stroke-width="0.85"/>
<text x="190.14" y="288.3" font-size="6.3" text-anchor="end" transform="rotate(-90 190.14 288.3)">none</text>
<text x="202.49" y="288.3" font-size="6.3" text-anchor="end" transform="rotate(-90 202.49 288.3)">task agn.</text>
<text x="214.84" y="288.3" font-size="6.3" text-anchor="end" transform="rotate(-90 214.84 288.3)">task sel.</text>
<text x="199.8" y="194.23" font-size="6.56" text-anchor="middle">Rich Learning</text>
<text x="168.79" y="242" font-size="6.74" text-anchor="middle" transform="rotate(-90 168.79 242)">accuracy (%)</text>
<text x="200.3" y="325.75" font-size="6.91" text-anchor="middle">ablated units</text>
<rect x="259.9" y="201" width="5" height="82.2" fill="#3b7419"/>
<rect x="264.9" y="201" width="4.6" height="82.2" fill="#d2202a"/>
<rect x="272.25" y="213.33" width="5" height="69.87" fill="#3b7419"/>
<rect x="277.25" y="213.33" width="4.6" height="69.87" fill="#d2202a"/>
<rect x="284.6" y="224.02" width="5" height="59.18" fill="#3b7419"/>
<rect x="289.6" y="229.77" width="4.6" height="53.43" fill="#d2202a"/>
<line x1="274.4" y1="210.04" x2="274.4" y2="216.12" stroke="#000" stroke-width="1.4"/>
<line x1="279" y1="210.04" x2="279" y2="216.12" stroke="#000" stroke-width="1.4"/>
<line x1="286.6" y1="217.44" x2="286.6" y2="230.59" stroke="#000" stroke-width="1.4"/>
<line x1="291.2" y1="225.66" x2="291.2" y2="233.88" stroke="#000" stroke-width="1.4"/>
<line x1="258.5" y1="201" x2="258.5" y2="283.2" stroke="#222" stroke-width="0.8"/>
<line x1="255" y1="201.5" x2="258" y2="201.5" stroke="#222" stroke-width="0.8"/>
<text x="253.8" y="203.14" font-size="6.3" text-anchor="end">100</text>
<line x1="255" y1="242.5" x2="258" y2="242.5" stroke="#222" stroke-width="0.8"/>
<text x="253.8" y="244.24" font-size="6.3" text-anchor="end">75</text>
<line x1="255" y1="283.5" x2="258" y2="283.5" stroke="#222" stroke-width="0.8"/>
<text x="253.8" y="285.34" font-size="6.3" text-anchor="end">50</text>
<line x1="255" y1="283.5" x2="295.6" y2="283.5" stroke="#222" stroke-width="0.85"/>
<line x1="264.5" y1="283.2" x2="264.5" y2="286.2" stroke="#222" stroke-width="0.85"/>
<line x1="277.5" y1="283.2" x2="277.5" y2="286.2" stroke="#222" stroke-width="0.85"/>
<line x1="289.5" y1="283.2" x2="289.5" y2="286.2" stroke="#222" stroke-width="0.85"/>
<text x="267.04" y="288.3" font-size="6.3" text-anchor="end" transform="rotate(-90 267.04 288.3)">none</text>
<text x="279.39" y="288.3" font-size="6.3" text-anchor="end" transform="rotate(-90 279.39 288.3)">task agn.</text>
<text x="291.74" y="288.3" font-size="6.3" text-anchor="end" transform="rotate(-90 291.74 288.3)">task sel.</text>
<text x="275.8" y="194.19" font-size="6.45" text-anchor="middle">Lazy Learning</text>
<text x="244.79" y="242" font-size="6.74" text-anchor="middle" transform="rotate(-90 244.79 242)">accuracy (%)</text>
<text x="276.3" y="325.75" font-size="6.91" text-anchor="middle">ablated units</text>
<rect x="209.1" y="206.3" width="10.7" height="3.6" fill="#3b7419"/>
<text x="221.2" y="210.1" font-size="5.31">congruent</text>
<rect x="209.1" y="213.9" width="10.7" height="3.6" fill="#d2202a"/>
<text x="220.2" y="217.68" font-size="5.22">incongruent</text>
<text x="328.3" y="186.8" font-size="13" font-weight="bold">F</text>
<rect x="359.7" y="212.79" width="23.8" height="80.11" fill="#3a7218"/>
<rect x="400.2" y="221.83" width="24.1" height="71.07" fill="#d01c20"/>
<line x1="371.6" y1="209.71" x2="371.6" y2="216.9" stroke="#000" stroke-width="1.3"/>
<line x1="412.2" y1="218.34" x2="412.2" y2="225.53" stroke="#000" stroke-width="1.3"/>
<line x1="356.5" y1="190.2" x2="356.5" y2="292.9" stroke="#222" stroke-width="0.8"/>
<line x1="353.6" y1="190.5" x2="356.4" y2="190.5" stroke="#222" stroke-width="0.8"/>
<text x="352.8" y="192.1" font-size="5.6" text-anchor="end">100</text>
<line x1="353.6" y1="241.5" x2="356.4" y2="241.5" stroke="#222" stroke-width="0.8"/>
<text x="352.8" y="243.45" font-size="5.6" text-anchor="end">75</text>
<line x1="353.6" y1="292.5" x2="356.4" y2="292.5" stroke="#222" stroke-width="0.8"/>
<text x="352.8" y="294.8" font-size="5.6" text-anchor="end">50</text>
<line x1="356.4" y1="292.5" x2="427.1" y2="292.5" stroke="#222" stroke-width="0.85"/>
<line x1="371.5" y1="292.9" x2="371.5" y2="295.9" stroke="#222" stroke-width="0.85"/>
<line x1="412.5" y1="292.9" x2="412.5" y2="295.9" stroke="#222" stroke-width="0.85"/>
<line x1="371" y1="200.5" x2="412.7" y2="200.5" stroke="#333" stroke-width="0.7"/>
<text x="391.9" y="201.2" font-size="7.2" text-anchor="middle">*</text>
<text x="391.6" y="184.53" font-size="5.96" text-anchor="middle">Accuracy</text>
<text x="371.6" y="305.13" font-size="5.96" text-anchor="middle">congruent</text>
<text x="411.8" y="305.12" font-size="5.93" text-anchor="middle">incongruent</text>
<text x="391.6" y="314.95" font-size="6.02" text-anchor="middle">Trials</text>
<text x="341.74" y="241.7" font-size="6" text-anchor="middle" transform="rotate(-90 341.74 241.7)">accuracy (%)</text>
<rect x="460.4" y="203.44" width="23.6" height="88.56" fill="#3a7218"/>
<rect x="500.6" y="200.49" width="24.4" height="91.51" fill="#d01c20"/>
<line x1="472.2" y1="201.96" x2="472.2" y2="204.92" stroke="#000" stroke-width="1.3"/>
<line x1="512.8" y1="198.72" x2="512.8" y2="202.26" stroke="#000" stroke-width="1.3"/>
<line x1="456.5" y1="189.4" x2="456.5" y2="292" stroke="#222" stroke-width="0.8"/>
<line x1="453.4" y1="193.5" x2="456.2" y2="193.5" stroke="#222" stroke-width="0.8"/>
<text x="452.6" y="195.5" font-size="5.6" text-anchor="end">1000</text>
<line x1="453.4" y1="213.5" x2="456.2" y2="213.5" stroke="#222" stroke-width="0.8"/>
<text x="452.6" y="215.18" font-size="5.6" text-anchor="end">800</text>
<line x1="453.4" y1="232.5" x2="456.2" y2="232.5" stroke="#222" stroke-width="0.8"/>
<text x="452.6" y="234.86" font-size="5.6" text-anchor="end">600</text>
<line x1="453.4" y1="252.5" x2="456.2" y2="252.5" stroke="#222" stroke-width="0.8"/>
<text x="452.6" y="254.54" font-size="5.6" text-anchor="end">400</text>
<line x1="453.4" y1="272.5" x2="456.2" y2="272.5" stroke="#222" stroke-width="0.8"/>
<text x="452.6" y="274.22" font-size="5.6" text-anchor="end">200</text>
<line x1="453.4" y1="292.5" x2="456.2" y2="292.5" stroke="#222" stroke-width="0.8"/>
<text x="452.6" y="293.9" font-size="5.6" text-anchor="end">0</text>
<line x1="456.2" y1="292.5" x2="528.3" y2="292.5" stroke="#222" stroke-width="0.85"/>
<line x1="472.5" y1="292" x2="472.5" y2="295" stroke="#222" stroke-width="0.85"/>
<line x1="512.5" y1="292" x2="512.5" y2="295" stroke="#222" stroke-width="0.85"/>
<line x1="472.9" y1="194.5" x2="513" y2="194.5" stroke="#333" stroke-width="0.7"/>
<text x="493.1" y="194.6" font-size="6.4" text-anchor="middle">****</text>
<text x="492.8" y="183.72" font-size="5.95" text-anchor="middle">Reaction Time</text>
<text x="472" y="305.03" font-size="5.96" text-anchor="middle">congruent</text>
<text x="513" y="305.02" font-size="5.93" text-anchor="middle">incongruent</text>
<text x="492.3" y="314.25" font-size="6.02" text-anchor="middle">Trials</text>
<text x="439.51" y="242.4" font-size="5.62" text-anchor="middle" transform="rotate(-90 439.51 242.4)">reaction time (ms)</text>
<text x="18.3" y="340" font-size="13" font-weight="bold">I</text>
<line x1="41.5" y1="349" x2="41.5" y2="409.3" stroke="#222" stroke-width="0.9"/>
<line x1="41" y1="409.5" x2="167.6" y2="409.5" stroke="#222" stroke-width="0.9"/>
<line x1="37" y1="349.5" x2="41" y2="349.5" stroke="#222" stroke-width="0.9"/>
<text x="35.4" y="351.64" font-size="6.6" text-anchor="end">2</text>
<line x1="37" y1="377.5" x2="41" y2="377.5" stroke="#222" stroke-width="0.9"/>
<text x="35.4" y="380.04" font-size="6.6" text-anchor="end">1</text>
<line x1="37" y1="406.5" x2="41" y2="406.5" stroke="#222" stroke-width="0.9"/>
<text x="35.4" y="408.54" font-size="6.6" text-anchor="end">0</text>
<line x1="46.5" y1="409.3" x2="46.5" y2="413.3" stroke="#222" stroke-width="0.9"/>
<text x="46.8" y="421.54" font-size="6.6" text-anchor="middle">0</text>
<line x1="104.5" y1="409.3" x2="104.5" y2="413.3" stroke="#222" stroke-width="0.9"/>
<text x="104" y="421.54" font-size="6.6" text-anchor="middle">1</text>
<line x1="161.5" y1="409.3" x2="161.5" y2="413.3" stroke="#222" stroke-width="0.9"/>
<text x="161.5" y="421.54" font-size="6.6" text-anchor="middle">2</text>
<text x="96.4" y="345.4" font-size="7.05" text-anchor="middle">Trial Structure</text>
<text x="25.78" y="384.7" font-size="7.58" text-anchor="middle" transform="rotate(-90 25.78 384.7)">Activity</text>
<text x="100.4" y="429.61" font-size="7.67" text-anchor="middle">t (s)</text>
<path d="M46.8 377.85 L133 377.85 L134.09 406.3 L161.5 406.3" fill="none" stroke="#e3679f" stroke-width="1" stroke-linejoin="round"/>
<path d="M46.8 349.4 L47.88 354.78 L48.96 359.15 L50.05 362.69 L51.13 365.55 L52.21 367.88 L53.29 369.77 L54.38 371.3 L55.46 372.54 L56.54 373.54 L57.62 374.36 L58.71 375.02 L59.79 375.55 L60.87 375.99 L61.95 376.34 L63.04 376.63 L64.12 376.86 L65.2 377.05 L66.28 377.2 L67.37 377.32 L68.45 377.42 L69.53 377.5 L70.61 377.57 L71.7 377.62 L72.78 377.66 L73.86 377.7 L74.94 377.73 L76.03 377.75 L77.11 377.77 L78.19 377.79 L79.27 377.8 L80.36 377.81 L81.44 377.82 L82.52 377.82 L83.6 377.83 L84.69 377.83 L85.77 377.84 L86.85 377.84 L87.93 377.84 L89.02 377.84 L90.1 377.84 L90.27 377.85 L91.25 406.3 L161.5 406.3" fill="none" stroke="#5ea6e6" stroke-width="1" stroke-linejoin="round"/>
<line x1="103" y1="360.5" x2="120.2" y2="360.5" stroke="#5ea6e6" stroke-width="1"/>
<text x="126.8" y="362.64" font-size="6.6">Stim</text>
<line x1="103" y1="373.5" x2="120.2" y2="373.5" stroke="#e3679f" stroke-width="1"/>
<text x="126.8" y="376" font-size="7.05">Context</text>
<line x1="219.5" y1="349.6" x2="219.5" y2="409.3" stroke="#222" stroke-width="0.9"/>
<line x1="219.6" y1="409.5" x2="345.4" y2="409.5" stroke="#222" stroke-width="0.9"/>
<line x1="215.6" y1="375.5" x2="219.6" y2="375.5" stroke="#222" stroke-width="0.9"/>
<text x="214" y="377.74" font-size="6.6" text-anchor="end">0.5</text>
<line x1="215.6" y1="404.5" x2="219.6" y2="404.5" stroke="#222" stroke-width="0.9"/>
<text x="214" y="406.24" font-size="6.6" text-anchor="end">0.0</text>
<line x1="224.5" y1="409.3" x2="224.5" y2="413.3" stroke="#222" stroke-width="0.9"/>
<text x="224.9" y="421.54" font-size="6.6" text-anchor="middle">0</text>
<line x1="282.5" y1="409.3" x2="282.5" y2="413.3" stroke="#222" stroke-width="0.9"/>
<text x="282.2" y="421.54" font-size="6.6" text-anchor="middle">1</text>
<line x1="339.5" y1="409.3" x2="339.5" y2="413.3" stroke="#222" stroke-width="0.9"/>
<text x="339.3" y="421.54" font-size="6.6" text-anchor="middle">2</text>
<text x="272" y="343.47" font-size="6.96" text-anchor="middle">Network Dynamics</text>
<text x="197.08" y="384.7" font-size="7.58" text-anchor="middle" transform="rotate(-90 197.08 384.7)">Activity</text>
<text x="281.7" y="427.81" font-size="7.67" text-anchor="middle">t (s)</text>
<path d="M224.9 404 L226.34 400.51 L227.78 398 L229.22 395.77 L230.67 393.7 L232.11 391.74 L233.55 389.87 L234.99 388.06 L236.43 386.31 L237.87 384.61 L239.31 382.95 L240.76 381.33 L242.2 379.73 L243.64 378.17 L245.08 376.63 L246.52 375.12 L247.96 373.63 L249.4 372.16 L250.85 370.71 L252.29 369.27 L253.73 367.86 L255.17 366.45 L256.61 365.07 L258.05 363.69 L259.49 362.33 L260.94 360.98 L262.38 359.65 L263.82 358.32 L265.26 357.01 L266.7 355.7 L268.14 354.41 L339.3 354.41" fill="none" stroke="#7597d2" stroke-width="1.25" stroke-linejoin="round"/>
<path d="M224.9 404 L226.34 400.4 L227.78 398.73 L229.22 397.41 L230.67 396.28 L232.11 395.28 L233.55 394.36 L234.99 393.5 L236.43 392.7 L237.87 391.95 L239.31 391.23 L240.76 390.54 L242.2 389.88 L243.64 389.25 L245.08 388.63 L246.52 388.04 L247.96 387.46 L249.4 386.9 L250.85 386.35 L252.29 385.82 L253.73 385.3 L255.17 384.79 L256.61 384.3 L258.05 383.81 L259.49 383.33 L260.94 382.86 L262.38 382.4 L263.82 381.95 L265.26 381.5 L266.7 381.06 L268.14 380.63 L306.12 404" fill="none" stroke="#62a548" stroke-width="1" stroke-linejoin="round"/>
<path d="M224.9 404 L339.3 404" fill="none" stroke="#dc6a78" stroke-width="0.9" stroke-linejoin="round"/>
<line x1="268.5" y1="351.8" x2="268.5" y2="409.3" stroke="#111" stroke-width="0.8" stroke-dasharray="2.8 1.1"/>
<line x1="286.2" y1="360.5" x2="303.6" y2="360.5" stroke="#7597d2" stroke-width="1"/>
<text x="310" y="362.74" font-size="6" letter-spacing="1">h^m+</text>
<line x1="286.2" y1="373.5" x2="303.6" y2="373.5" stroke="#ee8a3a" stroke-width="1"/>
<text x="310" y="375.94" font-size="6" letter-spacing="1">h^m-</text>
<line x1="286.2" y1="386.5" x2="303.6" y2="386.5" stroke="#62a548" stroke-width="1"/>
<text x="310" y="389.14" font-size="6" letter-spacing="1">h^c+</text>
<line x1="286.2" y1="398.5" x2="303.6" y2="398.5" stroke="#d6616f" stroke-width="1"/>
<text x="310" y="403.24" font-size="6" letter-spacing="1">h^c-</text>
<line x1="41.5" y1="464.9" x2="41.5" y2="524.4" stroke="#222" stroke-width="0.9"/>
<line x1="41" y1="524.5" x2="167.6" y2="524.5" stroke="#222" stroke-width="0.9"/>
<line x1="37" y1="479.5" x2="41" y2="479.5" stroke="#222" stroke-width="0.9"/>
<text x="35.4" y="481.94" font-size="6.6" text-anchor="end">1</text>
<line x1="37" y1="519.5" x2="41" y2="519.5" stroke="#222" stroke-width="0.9"/>
<text x="35.4" y="521.84" font-size="6.6" text-anchor="end">0</text>
<line x1="46.5" y1="524.4" x2="46.5" y2="528.4" stroke="#222" stroke-width="0.9"/>
<text x="46.8" y="536.44" font-size="6.6" text-anchor="middle">0</text>
<line x1="104.5" y1="524.4" x2="104.5" y2="528.4" stroke="#222" stroke-width="0.9"/>
<text x="104" y="536.44" font-size="6.6" text-anchor="middle">1</text>
<line x1="161.5" y1="524.4" x2="161.5" y2="528.4" stroke="#222" stroke-width="0.9"/>
<text x="161.5" y="536.44" font-size="6.6" text-anchor="middle">2</text>
<text x="88" y="461.98" font-size="7" text-anchor="middle">Output</text>
<text x="26.14" y="500" font-size="6.88" text-anchor="middle" transform="rotate(-90 26.14 500)">Response</text>
<text x="101.7" y="544.61" font-size="7.67" text-anchor="middle">t (s)</text>
<path d="M46.8 519.6 L48.27 515.71 L49.74 513.06 L51.22 510.73 L52.69 508.6 L54.16 506.59 L55.63 504.68 L57.1 502.86 L58.58 501.09 L60.05 499.38 L61.52 497.72 L62.99 496.1 L64.46 494.51 L65.94 492.96 L67.41 491.44 L68.88 489.94 L70.35 488.47 L71.82 487.03 L73.3 485.6 L74.77 484.19 L76.24 482.8 L77.71 481.43 L79.18 480.08 L80.66 478.74 L82.13 477.41 L83.6 476.1 L85.07 474.8 L86.54 473.51 L88.02 472.24 L89.49 470.98 L90.96 469.73 L128.24 485.69 L161.5 485.69" fill="none" stroke="#5a80c8" stroke-width="1" stroke-linejoin="round"/>
<line x1="90.5" y1="466.5" x2="90.5" y2="524.4" stroke="#111" stroke-width="0.8" stroke-dasharray="2.8 1.1"/>
<line x1="219.5" y1="465.4" x2="219.5" y2="524.4" stroke="#222" stroke-width="0.9"/>
<line x1="219.6" y1="524.5" x2="345.4" y2="524.5" stroke="#222" stroke-width="0.9"/>
<line x1="215.6" y1="483.5" x2="219.6" y2="483.5" stroke="#222" stroke-width="0.9"/>
<text x="214" y="485.64" font-size="6.6" text-anchor="end">0.5</text>
<line x1="215.6" y1="519.5" x2="219.6" y2="519.5" stroke="#222" stroke-width="0.9"/>
<text x="214" y="521.84" font-size="6.6" text-anchor="end">0.0</text>
<line x1="224.5" y1="524.4" x2="224.5" y2="528.4" stroke="#222" stroke-width="0.9"/>
<text x="224" y="536.44" font-size="6.6" text-anchor="middle">0</text>
<line x1="281.5" y1="524.4" x2="281.5" y2="528.4" stroke="#222" stroke-width="0.9"/>
<text x="281.7" y="536.44" font-size="6.6" text-anchor="middle">1</text>
<line x1="339.5" y1="524.4" x2="339.5" y2="528.4" stroke="#222" stroke-width="0.9"/>
<text x="339.3" y="536.44" font-size="6.6" text-anchor="middle">2</text>
<text x="272.5" y="459.87" font-size="6.97" text-anchor="middle">Aspect Ratio (Irrel Dim / Rel Dim)</text>
<text x="195.86" y="501.9" font-size="6.35" text-anchor="middle" transform="rotate(-90 195.86 501.9)">Aspect Ratio</text>
<text x="281.7" y="544.11" font-size="7.67" text-anchor="middle">t (s)</text>
<path d="M224.9 470.01 L226.38 471.56 L227.86 472.98 L229.34 474.27 L230.82 475.45 L232.3 476.53 L233.78 477.51 L235.26 478.41 L236.74 479.22 L238.22 479.97 L239.7 480.65 L241.18 481.27 L242.66 481.84 L244.14 482.36 L245.62 482.83 L247.1 483.26 L248.57 483.65 L250.05 484.01 L251.53 484.34 L253.01 484.64 L254.49 484.91 L255.97 485.16 L257.45 485.38 L258.93 485.59 L260.41 485.78 L261.89 485.95 L263.37 486.11 L264.85 486.25 L266.33 486.38 L267.81 486.5 L269.29 486.61 L305.86 519.6 L339.3 519.6" fill="none" stroke="#5a80c8" stroke-width="1" stroke-linejoin="round"/>
<line x1="267.5" y1="467.6" x2="267.5" y2="524.4" stroke="#111" stroke-width="0.8" stroke-dasharray="2.8 1.1"/>
<text x="558.1" y="11.8" font-size="13" font-weight="bold">G</text>
<text x="659.6" y="9.9" font-size="5.6" text-anchor="middle">Model RSA, Monkey A</text>
<line x1="584.5" y1="13.8" x2="584.5" y2="159.9" stroke="#a0a0a0" stroke-width="0.7"/>
<line x1="582.4" y1="13.5" x2="584.2" y2="13.5" stroke="#a0a0a0" stroke-width="0.7"/>
<text x="581.4" y="15.3" font-size="4.4" text-anchor="end" style="stroke:none">0.8</text>
<line x1="582.4" y1="38.5" x2="584.2" y2="38.5" stroke="#a0a0a0" stroke-width="0.7"/>
<text x="581.4" y="39.65" font-size="4.4" text-anchor="end" style="stroke:none">0.6</text>
<line x1="582.4" y1="62.5" x2="584.2" y2="62.5" stroke="#a0a0a0" stroke-width="0.7"/>
<text x="581.4" y="64" font-size="4.4" text-anchor="end" style="stroke:none">0.4</text>
<line x1="582.4" y1="86.5" x2="584.2" y2="86.5" stroke="#a0a0a0" stroke-width="0.7"/>
<text x="581.4" y="88.35" font-size="4.4" text-anchor="end" style="stroke:none">0.2</text>
<line x1="582.4" y1="111.5" x2="584.2" y2="111.5" stroke="#a0a0a0" stroke-width="0.7"/>
<text x="581.4" y="112.7" font-size="4.4" text-anchor="end" style="stroke:none">0</text>
<line x1="582.4" y1="135.5" x2="584.2" y2="135.5" stroke="#a0a0a0" stroke-width="0.7"/>
<text x="581.4" y="137.05" font-size="4.4" text-anchor="end" style="stroke:none">-0.2</text>
<line x1="582.4" y1="159.5" x2="584.2" y2="159.5" stroke="#a0a0a0" stroke-width="0.7"/>
<text x="581.4" y="161.4" font-size="4.4" text-anchor="end" style="stroke:none">-0.4</text>
<line x1="584.2" y1="160.5" x2="733.2" y2="160.5" stroke="#a0a0a0" stroke-width="0.7"/>
<line x1="608.5" y1="159.9" x2="608.5" y2="161.5" stroke="#a0a0a0" stroke-width="0.7"/>
<line x1="658.5" y1="159.9" x2="658.5" y2="161.5" stroke="#a0a0a0" stroke-width="0.7"/>
<line x1="709.5" y1="159.9" x2="709.5" y2="161.5" stroke="#a0a0a0" stroke-width="0.7"/>
<text x="608" y="166.86" font-size="5.77" text-anchor="middle">early</text>
<text x="655.3" y="166.8" font-size="5.6" text-anchor="middle">middle</text>
<text x="709.4" y="166.9" font-size="5.89" text-anchor="middle">late</text>
<text x="658.2" y="173.41" font-size="5.91" text-anchor="middle">time window (217ms each)</text>
<text x="569.98" y="87.8" font-size="5.25" text-anchor="middle" transform="rotate(-90 569.98 87.8)">β estimate (a.u.)</text>
<rect x="588.5" y="38.15" width="4.7" height="73.05" fill="#3a62c2"/>
<rect x="594.3" y="111.2" width="4.7" height="9.74" fill="#bb4e24"/>
<rect x="600.1" y="57.63" width="4.7" height="53.57" fill="#d6a52a"/>
<rect x="605.9" y="111.2" width="4.7" height="4.87" fill="#5e1f8c"/>
<rect x="611.7" y="111.2" width="4.7" height="42.61" fill="#609e2c"/>
<rect x="617.5" y="111.2" width="4.7" height="23.13" fill="#84bbec"/>
<rect x="623.3" y="111.2" width="4.7" height="6.09" fill="#7d1828"/>
<rect x="639.2" y="60.07" width="4.7" height="51.13" fill="#3a62c2"/>
<rect x="645" y="111.2" width="4.7" height="15.22" fill="#bb4e24"/>
<rect x="650.8" y="58.85" width="4.7" height="52.35" fill="#d6a52a"/>
<rect x="656.6" y="96.59" width="4.7" height="14.61" fill="#5e1f8c"/>
<rect x="662.4" y="111.2" width="4.7" height="41.39" fill="#609e2c"/>
<rect x="668.2" y="90.5" width="4.7" height="20.7" fill="#84bbec"/>
<rect x="674" y="111.2" width="4.7" height="3.65" fill="#7d1828"/>
<rect x="689.3" y="88.07" width="4.7" height="23.13" fill="#3a62c2"/>
<rect x="695.1" y="111.2" width="4.7" height="8.52" fill="#bb4e24"/>
<rect x="700.9" y="55.2" width="4.7" height="56.01" fill="#d6a52a"/>
<rect x="706.7" y="104.5" width="4.7" height="6.7" fill="#5e1f8c"/>
<rect x="712.5" y="111.2" width="4.7" height="30.44" fill="#609e2c"/>
<rect x="718.3" y="89.89" width="4.7" height="21.31" fill="#84bbec"/>
<rect x="724.1" y="105.11" width="4.7" height="6.09" fill="#7d1828"/>
<line x1="584.2" y1="111.5" x2="733.2" y2="111.5" stroke="#a0a0a0" stroke-width="0.7"/>
<circle cx="590.77" cy="156.13" r="0.75" fill="none" stroke="#c8c8c8" stroke-width="0.4"/>
<circle cx="590.91" cy="152.86" r="0.75" fill="none" stroke="#c8c8c8" stroke-width="0.4"/>
<circle cx="590.93" cy="149.58" r="0.75" fill="none" stroke="#c8c8c8" stroke-width="0.4"/>
<circle cx="590.59" cy="146.31" r="0.75" fill="none" stroke="#c8c8c8" stroke-width="0.4"/>
<circle cx="590.56" cy="143.04" r="0.75" fill="none" stroke="#c8c8c8" stroke-width="0.4"/>
<circle cx="591.05" cy="139.76" r="0.75" fill="none" stroke="#c8c8c8" stroke-width="0.4"/>
<circle cx="590.71" cy="136.49" r="0.75" fill="none" stroke="#c8c8c8" stroke-width="0.4"/>
<circle cx="590.69" cy="133.22" r="0.75" fill="none" stroke="#c8c8c8" stroke-width="0.4"/>
<circle cx="591.15" cy="129.94" r="0.75" fill="none" stroke="#c8c8c8" stroke-width="0.4"/>
<circle cx="590.83" cy="126.67" r="0.75" fill="none" stroke="#c8c8c8" stroke-width="0.4"/>
<circle cx="591.05" cy="123.4" r="0.75" fill="none" stroke="#c8c8c8" stroke-width="0.4"/>
<circle cx="590.84" cy="120.12" r="0.75" fill="none" stroke="#c8c8c8" stroke-width="0.4"/>
<circle cx="590.93" cy="116.85" r="0.75" fill="none" stroke="#c8c8c8" stroke-width="0.4"/>
<circle cx="590.64" cy="113.58" r="0.75" fill="none" stroke="#c8c8c8" stroke-width="0.4"/>
<circle cx="590.93" cy="110.3" r="0.75" fill="none" stroke="#c8c8c8" stroke-width="0.4"/>
<circle cx="591.07" cy="107.03" r="0.75" fill="none" stroke="#c8c8c8" stroke-width="0.4"/>
<circle cx="590.86" cy="103.76" r="0.75" fill="none" stroke="#c8c8c8" stroke-width="0.4"/>
<circle cx="590.99" cy="100.48" r="0.75" fill="none" stroke="#c8c8c8" stroke-width="0.4"/>
<circle cx="590.95" cy="97.21" r="0.75" fill="none" stroke="#c8c8c8" stroke-width="0.4"/>
<circle cx="590.59" cy="93.93" r="0.75" fill="none" stroke="#c8c8c8" stroke-width="0.4"/>
<circle cx="591" cy="90.66" r="0.75" fill="none" stroke="#c8c8c8" stroke-width="0.4"/>
<circle cx="590.9" cy="87.39" r="0.75" fill="none" stroke="#c8c8c8" stroke-width="0.4"/>
<circle cx="590.73" cy="84.11" r="0.75" fill="none" stroke="#c8c8c8" stroke-width="0.4"/>
<circle cx="590.57" cy="80.84" r="0.75" fill="none" stroke="#c8c8c8" stroke-width="0.4"/>
<circle cx="591.07" cy="77.57" r="0.75" fill="none" stroke="#c8c8c8" stroke-width="0.4"/>
<circle cx="590.83" cy="74.29" r="0.75" fill="none" stroke="#c8c8c8" stroke-width="0.4"/>
<circle cx="590.98" cy="71.02" r="0.75" fill="none" stroke="#c8c8c8" stroke-width="0.4"/>
<circle cx="591.08" cy="67.75" r="0.75" fill="none" stroke="#c8c8c8" stroke-width="0.4"/>
<circle cx="590.98" cy="64.47" r="0.75" fill="none" stroke="#c8c8c8" stroke-width="0.4"/>
<circle cx="591.1" cy="61.2" r="0.75" fill="none" stroke="#c8c8c8" stroke-width="0.4"/>
<circle cx="590.79" cy="57.93" r="0.75" fill="none" stroke="#c8c8c8" stroke-width="0.4"/>
<circle cx="591.03" cy="54.65" r="0.75" fill="none" stroke="#c8c8c8" stroke-width="0.4"/>
<circle cx="590.82" cy="51.38" r="0.75" fill="none" stroke="#c8c8c8" stroke-width="0.4"/>
<circle cx="591.11" cy="48.11" r="0.75" fill="none" stroke="#c8c8c8" stroke-width="0.4"/>
<circle cx="591.08" cy="44.83" r="0.75" fill="none" stroke="#c8c8c8" stroke-width="0.4"/>
<circle cx="590.61" cy="41.56" r="0.75" fill="none" stroke="#c8c8c8" stroke-width="0.4"/>
<circle cx="590.63" cy="38.29" r="0.75" fill="none" stroke="#c8c8c8" stroke-width="0.4"/>
<circle cx="590.68" cy="35.01" r="0.75" fill="none" stroke="#c8c8c8" stroke-width="0.4"/>
<circle cx="591.13" cy="31.74" r="0.75" fill="none" stroke="#c8c8c8" stroke-width="0.4"/>
<circle cx="596.53" cy="133.71" r="0.75" fill="none" stroke="#c8c8c8" stroke-width="0.4"/>
<circle cx="596.65" cy="130.13" r="0.75" fill="none" stroke="#c8c8c8" stroke-width="0.4"/>
<circle cx="596.58" cy="126.56" r="0.75" fill="none" stroke="#c8c8c8" stroke-width="0.4"/>
<circle cx="596.56" cy="122.98" r="0.75" fill="none" stroke="#c8c8c8" stroke-width="0.4"/>
<circle cx="596.7" cy="119.41" r="0.75" fill="none" stroke="#c8c8c8" stroke-width="0.4"/>
<circle cx="596.7" cy="115.83" r="0.75" fill="none" stroke="#c8c8c8" stroke-width="0.4"/>
<circle cx="596.89" cy="112.25" r="0.75" fill="none" stroke="#c8c8c8" stroke-width="0.4"/>
<circle cx="596.76" cy="108.68" r="0.75" fill="none" stroke="#c8c8c8" stroke-width="0.4"/>
<circle cx="596.91" cy="105.1" r="0.75" fill="none" stroke="#c8c8c8" stroke-width="0.4"/>
<circle cx="596.86" cy="101.52" r="0.75" fill="none" stroke="#c8c8c8" stroke-width="0.4"/>
<circle cx="596.94" cy="97.95" r="0.75" fill="none" stroke="#c8c8c8" stroke-width="0.4"/>
<circle cx="596.75" cy="94.37" r="0.75" fill="none" stroke="#c8c8c8" stroke-width="0.4"/>
<circle cx="596.45" cy="90.79" r="0.75" fill="none" stroke="#c8c8c8" stroke-width="0.4"/>
<circle cx="602.69" cy="145.15" r="0.75" fill="none" stroke="#c8c8c8" stroke-width="0.4"/>
<circle cx="602.49" cy="141.81" r="0.75" fill="none" stroke="#c8c8c8" stroke-width="0.4"/>
<circle cx="602.58" cy="138.46" r="0.75" fill="none" stroke="#c8c8c8" stroke-width="0.4"/>
<circle cx="602.28" cy="135.12" r="0.75" fill="none" stroke="#c8c8c8" stroke-width="0.4"/>
<circle cx="602.65" cy="131.77" r="0.75" fill="none" stroke="#c8c8c8" stroke-width="0.4"/>
<circle cx="602.49" cy="128.43" r="0.75" fill="none" stroke="#c8c8c8" stroke-width="0.4"/>
<circle cx="602.32" cy="125.08" r="0.75" fill="none" stroke="#c8c8c8" stroke-width="0.4"/>
<circle cx="602.19" cy="121.74" r="0.75" fill="none" stroke="#c8c8c8" stroke-width="0.4"/>
<circle cx="602.66" cy="118.39" r="0.75" fill="none" stroke="#c8c8c8" stroke-width="0.4"/>
<circle cx="602.74" cy="115.05" r="0.75" fill="none" stroke="#c8c8c8" stroke-width="0.4"/>
<circle cx="602.2" cy="111.7" r="0.75" fill="none" stroke="#c8c8c8" stroke-width="0.4"/>
<circle cx="602.63" cy="108.36" r="0.75" fill="none" stroke="#c8c8c8" stroke-width="0.4"/>
<circle cx="602.4" cy="105.01" r="0.75" fill="none" stroke="#c8c8c8" stroke-width="0.4"/>
<circle cx="602.24" cy="101.67" r="0.75" fill="none" stroke="#c8c8c8" stroke-width="0.4"/>
<circle cx="602.33" cy="98.32" r="0.75" fill="none" stroke="#c8c8c8" stroke-width="0.4"/>
<circle cx="602.61" cy="94.98" r="0.75" fill="none" stroke="#c8c8c8" stroke-width="0.4"/>
<circle cx="602.67" cy="91.63" r="0.75" fill="none" stroke="#c8c8c8" stroke-width="0.4"/>
<circle cx="602.18" cy="88.29" r="0.75" fill="none" stroke="#c8c8c8" stroke-width="0.4"/>
<circle cx="602.52" cy="84.94" r="0.75" fill="none" stroke="#c8c8c8" stroke-width="0.4"/>
<circle cx="602.18" cy="81.6" r="0.75" fill="none" stroke="#c8c8c8" stroke-width="0.4"/>
<circle cx="602.58" cy="78.25" r="0.75" fill="none" stroke="#c8c8c8" stroke-width="0.4"/>
<circle cx="602.35" cy="74.91" r="0.75" fill="none" stroke="#c8c8c8" stroke-width="0.4"/>
<circle cx="602.68" cy="71.56" r="0.75" fill="none" stroke="#c8c8c8" stroke-width="0.4"/>
<circle cx="602.74" cy="68.22" r="0.75" fill="none" stroke="#c8c8c8" stroke-width="0.4"/>
<circle cx="602.45" cy="64.87" r="0.75" fill="none" stroke="#c8c8c8" stroke-width="0.4"/>
<circle cx="602.75" cy="61.53" r="0.75" fill="none" stroke="#c8c8c8" stroke-width="0.4"/>
<circle cx="602.34" cy="58.18" r="0.75" fill="none" stroke="#c8c8c8" stroke-width="0.4"/>
<circle cx="602.2" cy="54.84" r="0.75" fill="none" stroke="#c8c8c8" stroke-width="0.4"/>
<circle cx="602.51" cy="51.49" r="0.75" fill="none" stroke="#c8c8c8" stroke-width="0.4"/>
<circle cx="602.17" cy="48.15" r="0.75" fill="none" stroke="#c8c8c8" stroke-width="0.4"/>
<circle cx="608.32" cy="138.69" r="0.75" fill="none" stroke="#c8c8c8" stroke-width="0.4"/>
<circle cx="608.04" cy="135.16" r="0.75" fill="none" stroke="#c8c8c8" stroke-width="0.4"/>
<circle cx="607.98" cy="131.62" r="0.75" fill="none" stroke="#c8c8c8" stroke-width="0.4"/>
<circle cx="608.47" cy="128.09" r="0.75" fill="none" stroke="#c8c8c8" stroke-width="0.4"/>
<circle cx="608.14" cy="124.56" r="0.75" fill="none" stroke="#c8c8c8" stroke-width="0.4"/>
<circle cx="608.53" cy="121.03" r="0.75" fill="none" stroke="#c8c8c8" stroke-width="0.4"/>
<circle cx="608.49" cy="117.49" r="0.75" fill="none" stroke="#c8c8c8" stroke-width="0.4"/>
<circle cx="608.18" cy="113.96" r="0.75" fill="none" stroke="#c8c8c8" stroke-width="0.4"/>
<circle cx="608.23" cy="110.43" r="0.75" fill="none" stroke="#c8c8c8" stroke-width="0.4"/>
<circle cx="608.26" cy="106.89" r="0.75" fill="none" stroke="#c8c8c8" stroke-width="0.4"/>
<circle cx="608.34" cy="103.36" r="0.75" fill="none" stroke="#c8c8c8" stroke-width="0.4"/>
<circle cx="608.31" cy="99.83" r="0.75" fill="none" stroke="#c8c8c8" stroke-width="0.4"/>
<circle cx="608.29" cy="96.3" r="0.75" fill="none" stroke="#c8c8c8" stroke-width="0.4"/>
<circle cx="608.32" cy="92.76" r="0.75" fill="none" stroke="#c8c8c8" stroke-width="0.4"/>
<circle cx="608.51" cy="89.23" r="0.75" fill="none" stroke="#c8c8c8" stroke-width="0.4"/>
<circle cx="608.25" cy="85.7" r="0.75" fill="none" stroke="#c8c8c8" stroke-width="0.4"/>
<circle cx="613.89" cy="156.24" r="0.75" fill="none" stroke="#c8c8c8" stroke-width="0.4"/>
<circle cx="613.93" cy="152.91" r="0.75" fill="none" stroke="#c8c8c8" stroke-width="0.4"/>
<circle cx="614.34" cy="149.59" r="0.75" fill="none" stroke="#c8c8c8" stroke-width="0.4"/>
<circle cx="614.06" cy="146.27" r="0.75" fill="none" stroke="#c8c8c8" stroke-width="0.4"/>
<circle cx="614.08" cy="142.95" r="0.75" fill="none" stroke="#c8c8c8" stroke-width="0.4"/>
<circle cx="613.76" cy="139.62" r="0.75" fill="none" stroke="#c8c8c8" stroke-width="0.4"/>
<circle cx="614" cy="136.3" r="0.75" fill="none" stroke="#c8c8c8" stroke-width="0.4"/>
<circle cx="614.1" cy="132.98" r="0.75" fill="none" stroke="#c8c8c8" stroke-width="0.4"/>
<circle cx="613.76" cy="129.65" r="0.75" fill="none" stroke="#c8c8c8" stroke-width="0.4"/>
<circle cx="614.12" cy="126.33" r="0.75" fill="none" stroke="#c8c8c8" stroke-width="0.4"/>
<circle cx="614.13" cy="123.01" r="0.75" fill="none" stroke="#c8c8c8" stroke-width="0.4"/>
<circle cx="613.79" cy="119.69" r="0.75" fill="none" stroke="#c8c8c8" stroke-width="0.4"/>
<circle cx="614.13" cy="116.36" r="0.75" fill="none" stroke="#c8c8c8" stroke-width="0.4"/>
<circle cx="614.03" cy="113.04" r="0.75" fill="none" stroke="#c8c8c8" stroke-width="0.4"/>
<circle cx="614.16" cy="109.72" r="0.75" fill="none" stroke="#c8c8c8" stroke-width="0.4"/>
<circle cx="613.96" cy="106.39" r="0.75" fill="none" stroke="#c8c8c8" stroke-width="0.4"/>
<circle cx="614.17" cy="103.07" r="0.75" fill="none" stroke="#c8c8c8" stroke-width="0.4"/>
<circle cx="614.19" cy="99.75" r="0.75" fill="none" stroke="#c8c8c8" stroke-width="0.4"/>
<circle cx="613.76" cy="96.43" r="0.75" fill="none" stroke="#c8c8c8" stroke-width="0.4"/>
<circle cx="613.79" cy="93.1" r="0.75" fill="none" stroke="#c8c8c8" stroke-width="0.4"/>
<circle cx="614.16" cy="89.78" r="0.75" fill="none" stroke="#c8c8c8" stroke-width="0.4"/>
<circle cx="614.33" cy="86.46" r="0.75" fill="none" stroke="#c8c8c8" stroke-width="0.4"/>
<circle cx="619.91" cy="141.65" r="0.75" fill="none" stroke="#c8c8c8" stroke-width="0.4"/>
<circle cx="619.74" cy="138.1" r="0.75" fill="none" stroke="#c8c8c8" stroke-width="0.4"/>
<circle cx="619.77" cy="134.55" r="0.75" fill="none" stroke="#c8c8c8" stroke-width="0.4"/>
<circle cx="619.74" cy="131" r="0.75" fill="none" stroke="#c8c8c8" stroke-width="0.4"/>
<circle cx="619.77" cy="127.45" r="0.75" fill="none" stroke="#c8c8c8" stroke-width="0.4"/>
<circle cx="619.91" cy="123.89" r="0.75" fill="none" stroke="#c8c8c8" stroke-width="0.4"/>
<circle cx="619.73" cy="120.34" r="0.75" fill="none" stroke="#c8c8c8" stroke-width="0.4"/>
<circle cx="619.78" cy="116.79" r="0.75" fill="none" stroke="#c8c8c8" stroke-width="0.4"/>
<circle cx="620.01" cy="113.24" r="0.75" fill="none" stroke="#c8c8c8" stroke-width="0.4"/>
<circle cx="619.57" cy="109.69" r="0.75" fill="none" stroke="#c8c8c8" stroke-width="0.4"/>
<circle cx="619.89" cy="106.14" r="0.75" fill="none" stroke="#c8c8c8" stroke-width="0.4"/>
<circle cx="619.99" cy="102.59" r="0.75" fill="none" stroke="#c8c8c8" stroke-width="0.4"/>
<circle cx="619.74" cy="99.04" r="0.75" fill="none" stroke="#c8c8c8" stroke-width="0.4"/>
<circle cx="619.68" cy="95.49" r="0.75" fill="none" stroke="#c8c8c8" stroke-width="0.4"/>
<circle cx="620.03" cy="91.94" r="0.75" fill="none" stroke="#c8c8c8" stroke-width="0.4"/>
<circle cx="619.69" cy="88.39" r="0.75" fill="none" stroke="#c8c8c8" stroke-width="0.4"/>
<circle cx="625.77" cy="141.03" r="0.75" fill="none" stroke="#c8c8c8" stroke-width="0.4"/>
<circle cx="625.41" cy="137.55" r="0.75" fill="none" stroke="#c8c8c8" stroke-width="0.4"/>
<circle cx="625.54" cy="134.06" r="0.75" fill="none" stroke="#c8c8c8" stroke-width="0.4"/>
<circle cx="625.55" cy="130.58" r="0.75" fill="none" stroke="#c8c8c8" stroke-width="0.4"/>
<circle cx="625.85" cy="127.1" r="0.75" fill="none" stroke="#c8c8c8" stroke-width="0.4"/>
<circle cx="625.61" cy="123.62" r="0.75" fill="none" stroke="#c8c8c8" stroke-width="0.4"/>
<circle cx="625.86" cy="120.14" r="0.75" fill="none" stroke="#c8c8c8" stroke-width="0.4"/>
<circle cx="625.45" cy="116.66" r="0.75" fill="none" stroke="#c8c8c8" stroke-width="0.4"/>
<circle cx="625.55" cy="113.18" r="0.75" fill="none" stroke="#c8c8c8" stroke-width="0.4"/>
<circle cx="625.74" cy="109.7" r="0.75" fill="none" stroke="#c8c8c8" stroke-width="0.4"/>
<circle cx="625.88" cy="106.21" r="0.75" fill="none" stroke="#c8c8c8" stroke-width="0.4"/>
<circle cx="625.62" cy="102.73" r="0.75" fill="none" stroke="#c8c8c8" stroke-width="0.4"/>
<circle cx="625.49" cy="99.25" r="0.75" fill="none" stroke="#c8c8c8" stroke-width="0.4"/>
<circle cx="625.42" cy="95.77" r="0.75" fill="none" stroke="#c8c8c8" stroke-width="0.4"/>
<circle cx="625.67" cy="92.29" r="0.75" fill="none" stroke="#c8c8c8" stroke-width="0.4"/>
<circle cx="625.46" cy="88.81" r="0.75" fill="none" stroke="#c8c8c8" stroke-width="0.4"/>
<circle cx="625.83" cy="85.33" r="0.75" fill="none" stroke="#c8c8c8" stroke-width="0.4"/>
<circle cx="625.85" cy="81.84" r="0.75" fill="none" stroke="#c8c8c8" stroke-width="0.4"/>
<circle cx="641.73" cy="153.17" r="0.75" fill="none" stroke="#c8c8c8" stroke-width="0.4"/>
<circle cx="641.64" cy="149.8" r="0.75" fill="none" stroke="#c8c8c8" stroke-width="0.4"/>
<circle cx="641.73" cy="146.44" r="0.75" fill="none" stroke="#c8c8c8" stroke-width="0.4"/>
<circle cx="641.46" cy="143.07" r="0.75" fill="none" stroke="#c8c8c8" stroke-width="0.4"/>
<circle cx="641.33" cy="139.71" r="0.75" fill="none" stroke="#c8c8c8" stroke-width="0.4"/>
<circle cx="641.43" cy="136.34" r="0.75" fill="none" stroke="#c8c8c8" stroke-width="0.4"/>
<circle cx="641.73" cy="132.98" r="0.75" fill="none" stroke="#c8c8c8" stroke-width="0.4"/>
<circle cx="641.41" cy="129.61" r="0.75" fill="none" stroke="#c8c8c8" stroke-width="0.4"/>
<circle cx="641.46" cy="126.25" r="0.75" fill="none" stroke="#c8c8c8" stroke-width="0.4"/>
<circle cx="641.5" cy="122.89" r="0.75" fill="none" stroke="#c8c8c8" stroke-width="0.4"/>
<circle cx="641.5" cy="119.52" r="0.75" fill="none" stroke="#c8c8c8" stroke-width="0.4"/>
<circle cx="641.5" cy="116.16" r="0.75" fill="none" stroke="#c8c8c8" stroke-width="0.4"/>
<circle cx="641.8" cy="112.79" r="0.75" fill="none" stroke="#c8c8c8" stroke-width="0.4"/>
<circle cx="641.34" cy="109.43" r="0.75" fill="none" stroke="#c8c8c8" stroke-width="0.4"/>
<circle cx="641.25" cy="106.06" r="0.75" fill="none" stroke="#c8c8c8" stroke-width="0.4"/>
<circle cx="641.82" cy="102.7" r="0.75" fill="none" stroke="#c8c8c8" stroke-width="0.4"/>
<circle cx="641.78" cy="99.33" r="0.75" fill="none" stroke="#c8c8c8" stroke-width="0.4"/>
<circle cx="641.84" cy="95.97" r="0.75" fill="none" stroke="#c8c8c8" stroke-width="0.4"/>
<circle cx="641.51" cy="92.6" r="0.75" fill="none" stroke="#c8c8c8" stroke-width="0.4"/>
<circle cx="641.82" cy="89.24" r="0.75" fill="none" stroke="#c8c8c8" stroke-width="0.4"/>
<circle cx="641.81" cy="85.88" r="0.75" fill="none" stroke="#c8c8c8" stroke-width="0.4"/>
<circle cx="641.38" cy="82.51" r="0.75" fill="none" stroke="#c8c8c8" stroke-width="0.4"/>
<circle cx="641.7" cy="79.15" r="0.75" fill="none" stroke="#c8c8c8" stroke-width="0.4"/>
<circle cx="641.75" cy="75.78" r="0.75" fill="none" stroke="#c8c8c8" stroke-width="0.4"/>
<circle cx="641.65" cy="72.42" r="0.75" fill="none" stroke="#c8c8c8" stroke-width="0.4"/>
<circle cx="641.56" cy="69.05" r="0.75" fill="none" stroke="#c8c8c8" stroke-width="0.4"/>
<circle cx="641.42" cy="65.69" r="0.75" fill="none" stroke="#c8c8c8" stroke-width="0.4"/>
<circle cx="641.45" cy="62.32" r="0.75" fill="none" stroke="#c8c8c8" stroke-width="0.4"/>
<circle cx="641.39" cy="58.96" r="0.75" fill="none" stroke="#c8c8c8" stroke-width="0.4"/>
<circle cx="641.29" cy="55.59" r="0.75" fill="none" stroke="#c8c8c8" stroke-width="0.4"/>
<circle cx="647.54" cy="137.02" r="0.75" fill="none" stroke="#c8c8c8" stroke-width="0.4"/>
<circle cx="647.08" cy="133.61" r="0.75" fill="none" stroke="#c8c8c8" stroke-width="0.4"/>
<circle cx="647.59" cy="130.2" r="0.75" fill="none" stroke="#c8c8c8" stroke-width="0.4"/>
<circle cx="647.47" cy="126.79" r="0.75" fill="none" stroke="#c8c8c8" stroke-width="0.4"/>
<circle cx="647.6" cy="123.37" r="0.75" fill="none" stroke="#c8c8c8" stroke-width="0.4"/>
<circle cx="647.59" cy="119.96" r="0.75" fill="none" stroke="#c8c8c8" stroke-width="0.4"/>
<circle cx="647.59" cy="116.55" r="0.75" fill="none" stroke="#c8c8c8" stroke-width="0.4"/>
<circle cx="647.4" cy="113.14" r="0.75" fill="none" stroke="#c8c8c8" stroke-width="0.4"/>
<circle cx="647.06" cy="109.73" r="0.75" fill="none" stroke="#c8c8c8" stroke-width="0.4"/>
<circle cx="647.5" cy="106.31" r="0.75" fill="none" stroke="#c8c8c8" stroke-width="0.4"/>
<circle cx="647.15" cy="102.9" r="0.75" fill="none" stroke="#c8c8c8" stroke-width="0.4"/>
<circle cx="647.23" cy="99.49" r="0.75" fill="none" stroke="#c8c8c8" stroke-width="0.4"/>
<circle cx="647.45" cy="96.08" r="0.75" fill="none" stroke="#c8c8c8" stroke-width="0.4"/>
<circle cx="647.36" cy="92.67" r="0.75" fill="none" stroke="#c8c8c8" stroke-width="0.4"/>
<circle cx="653.22" cy="140.8" r="0.75" fill="none" stroke="#c8c8c8" stroke-width="0.4"/>
<circle cx="653.05" cy="137.42" r="0.75" fill="none" stroke="#c8c8c8" stroke-width="0.4"/>
<circle cx="653" cy="134.04" r="0.75" fill="none" stroke="#c8c8c8" stroke-width="0.4"/>
<circle cx="653.37" cy="130.66" r="0.75" fill="none" stroke="#c8c8c8" stroke-width="0.4"/>
<circle cx="653.14" cy="127.28" r="0.75" fill="none" stroke="#c8c8c8" stroke-width="0.4"/>
<circle cx="653.32" cy="123.9" r="0.75" fill="none" stroke="#c8c8c8" stroke-width="0.4"/>
<circle cx="653.06" cy="120.52" r="0.75" fill="none" stroke="#c8c8c8" stroke-width="0.4"/>
<circle cx="652.97" cy="117.14" r="0.75" fill="none" stroke="#c8c8c8" stroke-width="0.4"/>
<circle cx="653.17" cy="113.76" r="0.75" fill="none" stroke="#c8c8c8" stroke-width="0.4"/>
<circle cx="653.34" cy="110.38" r="0.75" fill="none" stroke="#c8c8c8" stroke-width="0.4"/>
<circle cx="652.95" cy="107" r="0.75" fill="none" stroke="#c8c8c8" stroke-width="0.4"/>
<circle cx="653.33" cy="103.62" r="0.75" fill="none" stroke="#c8c8c8" stroke-width="0.4"/>
<circle cx="653.4" cy="100.24" r="0.75" fill="none" stroke="#c8c8c8" stroke-width="0.4"/>
<circle cx="653.33" cy="96.86" r="0.75" fill="none" stroke="#c8c8c8" stroke-width="0.4"/>
<circle cx="653.34" cy="93.49" r="0.75" fill="none" stroke="#c8c8c8" stroke-width="0.4"/>
<circle cx="652.85" cy="90.11" r="0.75" fill="none" stroke="#c8c8c8" stroke-width="0.4"/>
<circle cx="653.23" cy="86.73" r="0.75" fill="none" stroke="#c8c8c8" stroke-width="0.4"/>
<circle cx="653.37" cy="83.35" r="0.75" fill="none" stroke="#c8c8c8" stroke-width="0.4"/>
<circle cx="652.88" cy="79.97" r="0.75" fill="none" stroke="#c8c8c8" stroke-width="0.4"/>
<circle cx="653.01" cy="76.59" r="0.75" fill="none" stroke="#c8c8c8" stroke-width="0.4"/>
<circle cx="653.01" cy="73.21" r="0.75" fill="none" stroke="#c8c8c8" stroke-width="0.4"/>
<circle cx="653.17" cy="69.83" r="0.75" fill="none" stroke="#c8c8c8" stroke-width="0.4"/>
<circle cx="653.1" cy="66.45" r="0.75" fill="none" stroke="#c8c8c8" stroke-width="0.4"/>
<circle cx="653.13" cy="63.07" r="0.75" fill="none" stroke="#c8c8c8" stroke-width="0.4"/>
<circle cx="653.32" cy="59.69" r="0.75" fill="none" stroke="#c8c8c8" stroke-width="0.4"/>
<circle cx="652.85" cy="56.31" r="0.75" fill="none" stroke="#c8c8c8" stroke-width="0.4"/>
<circle cx="652.88" cy="52.93" r="0.75" fill="none" stroke="#c8c8c8" stroke-width="0.4"/>
<circle cx="652.93" cy="49.55" r="0.75" fill="none" stroke="#c8c8c8" stroke-width="0.4"/>
<circle cx="659.23" cy="137.98" r="0.75" fill="none" stroke="#c8c8c8" stroke-width="0.4"/>
<circle cx="659.16" cy="134.47" r="0.75" fill="none" stroke="#c8c8c8" stroke-width="0.4"/>
<circle cx="658.7" cy="130.95" r="0.75" fill="none" stroke="#c8c8c8" stroke-width="0.4"/>
<circle cx="658.95" cy="127.44" r="0.75" fill="none" stroke="#c8c8c8" stroke-width="0.4"/>
<circle cx="658.84" cy="123.93" r="0.75" fill="none" stroke="#c8c8c8" stroke-width="0.4"/>
<circle cx="658.84" cy="120.41" r="0.75" fill="none" stroke="#c8c8c8" stroke-width="0.4"/>
<circle cx="658.86" cy="116.9" r="0.75" fill="none" stroke="#c8c8c8" stroke-width="0.4"/>
<circle cx="659.04" cy="113.38" r="0.75" fill="none" stroke="#c8c8c8" stroke-width="0.4"/>
<circle cx="659" cy="109.87" r="0.75" fill="none" stroke="#c8c8c8" stroke-width="0.4"/>
<circle cx="658.87" cy="106.36" r="0.75" fill="none" stroke="#c8c8c8" stroke-width="0.4"/>
<circle cx="658.76" cy="102.84" r="0.75" fill="none" stroke="#c8c8c8" stroke-width="0.4"/>
<circle cx="658.85" cy="99.33" r="0.75" fill="none" stroke="#c8c8c8" stroke-width="0.4"/>
<circle cx="658.72" cy="95.81" r="0.75" fill="none" stroke="#c8c8c8" stroke-width="0.4"/>
<circle cx="658.98" cy="92.3" r="0.75" fill="none" stroke="#c8c8c8" stroke-width="0.4"/>
<circle cx="659.08" cy="88.79" r="0.75" fill="none" stroke="#c8c8c8" stroke-width="0.4"/>
<circle cx="664.56" cy="157.83" r="0.75" fill="none" stroke="#c8c8c8" stroke-width="0.4"/>
<circle cx="664.67" cy="154.5" r="0.75" fill="none" stroke="#c8c8c8" stroke-width="0.4"/>
<circle cx="664.81" cy="151.16" r="0.75" fill="none" stroke="#c8c8c8" stroke-width="0.4"/>
<circle cx="664.92" cy="147.83" r="0.75" fill="none" stroke="#c8c8c8" stroke-width="0.4"/>
<circle cx="664.68" cy="144.49" r="0.75" fill="none" stroke="#c8c8c8" stroke-width="0.4"/>
<circle cx="664.93" cy="141.16" r="0.75" fill="none" stroke="#c8c8c8" stroke-width="0.4"/>
<circle cx="664.82" cy="137.82" r="0.75" fill="none" stroke="#c8c8c8" stroke-width="0.4"/>
<circle cx="664.71" cy="134.49" r="0.75" fill="none" stroke="#c8c8c8" stroke-width="0.4"/>
<circle cx="664.67" cy="131.15" r="0.75" fill="none" stroke="#c8c8c8" stroke-width="0.4"/>
<circle cx="664.75" cy="127.82" r="0.75" fill="none" stroke="#c8c8c8" stroke-width="0.4"/>
<circle cx="664.87" cy="124.48" r="0.75" fill="none" stroke="#c8c8c8" stroke-width="0.4"/>
<circle cx="664.7" cy="121.15" r="0.75" fill="none" stroke="#c8c8c8" stroke-width="0.4"/>
<circle cx="664.87" cy="117.82" r="0.75" fill="none" stroke="#c8c8c8" stroke-width="0.4"/>
<circle cx="664.73" cy="114.48" r="0.75" fill="none" stroke="#c8c8c8" stroke-width="0.4"/>
<circle cx="664.6" cy="111.15" r="0.75" fill="none" stroke="#c8c8c8" stroke-width="0.4"/>
<circle cx="664.77" cy="107.81" r="0.75" fill="none" stroke="#c8c8c8" stroke-width="0.4"/>
<circle cx="664.87" cy="104.48" r="0.75" fill="none" stroke="#c8c8c8" stroke-width="0.4"/>
<circle cx="664.49" cy="101.14" r="0.75" fill="none" stroke="#c8c8c8" stroke-width="0.4"/>
<circle cx="664.7" cy="97.81" r="0.75" fill="none" stroke="#c8c8c8" stroke-width="0.4"/>
<circle cx="664.71" cy="94.47" r="0.75" fill="none" stroke="#c8c8c8" stroke-width="0.4"/>
<circle cx="664.98" cy="91.14" r="0.75" fill="none" stroke="#c8c8c8" stroke-width="0.4"/>
<circle cx="670.79" cy="142.24" r="0.75" fill="none" stroke="#c8c8c8" stroke-width="0.4"/>
<circle cx="670.72" cy="138.68" r="0.75" fill="none" stroke="#c8c8c8" stroke-width="0.4"/>
<circle cx="670.41" cy="135.12" r="0.75" fill="none" stroke="#c8c8c8" stroke-width="0.4"/>
<circle cx="670.53" cy="131.57" r="0.75" fill="none" stroke="#c8c8c8" stroke-width="0.4"/>
<circle cx="670.32" cy="128.01" r="0.75" fill="none" stroke="#c8c8c8" stroke-width="0.4"/>
<circle cx="670.74" cy="124.45" r="0.75" fill="none" stroke="#c8c8c8" stroke-width="0.4"/>
<circle cx="670.65" cy="120.9" r="0.75" fill="none" stroke="#c8c8c8" stroke-width="0.4"/>
<circle cx="670.78" cy="117.34" r="0.75" fill="none" stroke="#c8c8c8" stroke-width="0.4"/>
<circle cx="670.73" cy="113.79" r="0.75" fill="none" stroke="#c8c8c8" stroke-width="0.4"/>
<circle cx="670.65" cy="110.23" r="0.75" fill="none" stroke="#c8c8c8" stroke-width="0.4"/>
<circle cx="670.69" cy="106.67" r="0.75" fill="none" stroke="#c8c8c8" stroke-width="0.4"/>
<circle cx="670.59" cy="103.12" r="0.75" fill="none" stroke="#c8c8c8" stroke-width="0.4"/>
<circle cx="670.31" cy="99.56" r="0.75" fill="none" stroke="#c8c8c8" stroke-width="0.4"/>
<circle cx="670.6" cy="96" r="0.75" fill="none" stroke="#c8c8c8" stroke-width="0.4"/>
<circle cx="670.25" cy="92.45" r="0.75" fill="none" stroke="#c8c8c8" stroke-width="0.4"/>
<circle cx="670.34" cy="88.89" r="0.75" fill="none" stroke="#c8c8c8" stroke-width="0.4"/>
<circle cx="670.71" cy="85.33" r="0.75" fill="none" stroke="#c8c8c8" stroke-width="0.4"/>
<circle cx="676.11" cy="138.42" r="0.75" fill="none" stroke="#c8c8c8" stroke-width="0.4"/>
<circle cx="676.58" cy="134.93" r="0.75" fill="none" stroke="#c8c8c8" stroke-width="0.4"/>
<circle cx="676.16" cy="131.45" r="0.75" fill="none" stroke="#c8c8c8" stroke-width="0.4"/>
<circle cx="676.06" cy="127.97" r="0.75" fill="none" stroke="#c8c8c8" stroke-width="0.4"/>
<circle cx="676.55" cy="124.49" r="0.75" fill="none" stroke="#c8c8c8" stroke-width="0.4"/>
<circle cx="676.12" cy="121" r="0.75" fill="none" stroke="#c8c8c8" stroke-width="0.4"/>
<circle cx="676.56" cy="117.52" r="0.75" fill="none" stroke="#c8c8c8" stroke-width="0.4"/>
<circle cx="676.45" cy="114.04" r="0.75" fill="none" stroke="#c8c8c8" stroke-width="0.4"/>
<circle cx="676.55" cy="110.56" r="0.75" fill="none" stroke="#c8c8c8" stroke-width="0.4"/>
<circle cx="676.62" cy="107.07" r="0.75" fill="none" stroke="#c8c8c8" stroke-width="0.4"/>
<circle cx="676.4" cy="103.59" r="0.75" fill="none" stroke="#c8c8c8" stroke-width="0.4"/>
<circle cx="676.53" cy="100.11" r="0.75" fill="none" stroke="#c8c8c8" stroke-width="0.4"/>
<circle cx="676.07" cy="96.63" r="0.75" fill="none" stroke="#c8c8c8" stroke-width="0.4"/>
<circle cx="676.51" cy="93.14" r="0.75" fill="none" stroke="#c8c8c8" stroke-width="0.4"/>
<circle cx="676.36" cy="89.66" r="0.75" fill="none" stroke="#c8c8c8" stroke-width="0.4"/>
<circle cx="676.48" cy="86.18" r="0.75" fill="none" stroke="#c8c8c8" stroke-width="0.4"/>
<circle cx="691.91" cy="152.42" r="0.75" fill="none" stroke="#c8c8c8" stroke-width="0.4"/>
<circle cx="691.39" cy="149.09" r="0.75" fill="none" stroke="#c8c8c8" stroke-width="0.4"/>
<circle cx="691.54" cy="145.76" r="0.75" fill="none" stroke="#c8c8c8" stroke-width="0.4"/>
<circle cx="691.69" cy="142.43" r="0.75" fill="none" stroke="#c8c8c8" stroke-width="0.4"/>
<circle cx="691.85" cy="139.1" r="0.75" fill="none" stroke="#c8c8c8" stroke-width="0.4"/>
<circle cx="691.5" cy="135.77" r="0.75" fill="none" stroke="#c8c8c8" stroke-width="0.4"/>
<circle cx="691.46" cy="132.45" r="0.75" fill="none" stroke="#c8c8c8" stroke-width="0.4"/>
<circle cx="691.5" cy="129.12" r="0.75" fill="none" stroke="#c8c8c8" stroke-width="0.4"/>
<circle cx="691.72" cy="125.79" r="0.75" fill="none" stroke="#c8c8c8" stroke-width="0.4"/>
<circle cx="691.8" cy="122.46" r="0.75" fill="none" stroke="#c8c8c8" stroke-width="0.4"/>
<circle cx="691.59" cy="119.13" r="0.75" fill="none" stroke="#c8c8c8" stroke-width="0.4"/>
<circle cx="691.57" cy="115.8" r="0.75" fill="none" stroke="#c8c8c8" stroke-width="0.4"/>
<circle cx="691.59" cy="112.47" r="0.75" fill="none" stroke="#c8c8c8" stroke-width="0.4"/>
<circle cx="691.56" cy="109.15" r="0.75" fill="none" stroke="#c8c8c8" stroke-width="0.4"/>
<circle cx="691.6" cy="105.82" r="0.75" fill="none" stroke="#c8c8c8" stroke-width="0.4"/>
<circle cx="691.4" cy="102.49" r="0.75" fill="none" stroke="#c8c8c8" stroke-width="0.4"/>
<circle cx="691.65" cy="99.16" r="0.75" fill="none" stroke="#c8c8c8" stroke-width="0.4"/>
<circle cx="691.93" cy="95.83" r="0.75" fill="none" stroke="#c8c8c8" stroke-width="0.4"/>
<circle cx="691.6" cy="92.5" r="0.75" fill="none" stroke="#c8c8c8" stroke-width="0.4"/>
<circle cx="691.8" cy="89.18" r="0.75" fill="none" stroke="#c8c8c8" stroke-width="0.4"/>
<circle cx="691.45" cy="85.85" r="0.75" fill="none" stroke="#c8c8c8" stroke-width="0.4"/>
<circle cx="691.76" cy="82.52" r="0.75" fill="none" stroke="#c8c8c8" stroke-width="0.4"/>
<circle cx="691.8" cy="79.19" r="0.75" fill="none" stroke="#c8c8c8" stroke-width="0.4"/>
<circle cx="691.75" cy="75.86" r="0.75" fill="none" stroke="#c8c8c8" stroke-width="0.4"/>
<circle cx="691.66" cy="72.53" r="0.75" fill="none" stroke="#c8c8c8" stroke-width="0.4"/>
<circle cx="691.64" cy="69.2" r="0.75" fill="none" stroke="#c8c8c8" stroke-width="0.4"/>
<circle cx="697.24" cy="139.38" r="0.75" fill="none" stroke="#c8c8c8" stroke-width="0.4"/>
<circle cx="697.21" cy="135.99" r="0.75" fill="none" stroke="#c8c8c8" stroke-width="0.4"/>
<circle cx="697.6" cy="132.6" r="0.75" fill="none" stroke="#c8c8c8" stroke-width="0.4"/>
<circle cx="697.7" cy="129.21" r="0.75" fill="none" stroke="#c8c8c8" stroke-width="0.4"/>
<circle cx="697.46" cy="125.82" r="0.75" fill="none" stroke="#c8c8c8" stroke-width="0.4"/>
<circle cx="697.42" cy="122.44" r="0.75" fill="none" stroke="#c8c8c8" stroke-width="0.4"/>
<circle cx="697.58" cy="119.05" r="0.75" fill="none" stroke="#c8c8c8" stroke-width="0.4"/>
<circle cx="697.26" cy="115.66" r="0.75" fill="none" stroke="#c8c8c8" stroke-width="0.4"/>
<circle cx="697.31" cy="112.27" r="0.75" fill="none" stroke="#c8c8c8" stroke-width="0.4"/>
<circle cx="697.27" cy="108.88" r="0.75" fill="none" stroke="#c8c8c8" stroke-width="0.4"/>
<circle cx="697.5" cy="105.49" r="0.75" fill="none" stroke="#c8c8c8" stroke-width="0.4"/>
<circle cx="697.34" cy="102.11" r="0.75" fill="none" stroke="#c8c8c8" stroke-width="0.4"/>
<circle cx="697.29" cy="98.72" r="0.75" fill="none" stroke="#c8c8c8" stroke-width="0.4"/>
<circle cx="697.56" cy="95.33" r="0.75" fill="none" stroke="#c8c8c8" stroke-width="0.4"/>
<circle cx="697.72" cy="91.94" r="0.75" fill="none" stroke="#c8c8c8" stroke-width="0.4"/>
<circle cx="697.33" cy="88.55" r="0.75" fill="none" stroke="#c8c8c8" stroke-width="0.4"/>
<circle cx="697.57" cy="85.16" r="0.75" fill="none" stroke="#c8c8c8" stroke-width="0.4"/>
<circle cx="703.3" cy="140.79" r="0.75" fill="none" stroke="#c8c8c8" stroke-width="0.4"/>
<circle cx="703.11" cy="137.43" r="0.75" fill="none" stroke="#c8c8c8" stroke-width="0.4"/>
<circle cx="703.08" cy="134.06" r="0.75" fill="none" stroke="#c8c8c8" stroke-width="0.4"/>
<circle cx="702.96" cy="130.69" r="0.75" fill="none" stroke="#c8c8c8" stroke-width="0.4"/>
<circle cx="703.24" cy="127.33" r="0.75" fill="none" stroke="#c8c8c8" stroke-width="0.4"/>
<circle cx="703.18" cy="123.96" r="0.75" fill="none" stroke="#c8c8c8" stroke-width="0.4"/>
<circle cx="703.05" cy="120.59" r="0.75" fill="none" stroke="#c8c8c8" stroke-width="0.4"/>
<circle cx="703.17" cy="117.23" r="0.75" fill="none" stroke="#c8c8c8" stroke-width="0.4"/>
<circle cx="703.14" cy="113.86" r="0.75" fill="none" stroke="#c8c8c8" stroke-width="0.4"/>
<circle cx="703.41" cy="110.49" r="0.75" fill="none" stroke="#c8c8c8" stroke-width="0.4"/>
<circle cx="703.04" cy="107.12" r="0.75" fill="none" stroke="#c8c8c8" stroke-width="0.4"/>
<circle cx="703.54" cy="103.76" r="0.75" fill="none" stroke="#c8c8c8" stroke-width="0.4"/>
<circle cx="703.24" cy="100.39" r="0.75" fill="none" stroke="#c8c8c8" stroke-width="0.4"/>
<circle cx="703.31" cy="97.02" r="0.75" fill="none" stroke="#c8c8c8" stroke-width="0.4"/>
<circle cx="703.23" cy="93.66" r="0.75" fill="none" stroke="#c8c8c8" stroke-width="0.4"/>
<circle cx="703.45" cy="90.29" r="0.75" fill="none" stroke="#c8c8c8" stroke-width="0.4"/>
<circle cx="703.44" cy="86.92" r="0.75" fill="none" stroke="#c8c8c8" stroke-width="0.4"/>
<circle cx="703.28" cy="83.56" r="0.75" fill="none" stroke="#c8c8c8" stroke-width="0.4"/>
<circle cx="703.24" cy="80.19" r="0.75" fill="none" stroke="#c8c8c8" stroke-width="0.4"/>
<circle cx="703.38" cy="76.82" r="0.75" fill="none" stroke="#c8c8c8" stroke-width="0.4"/>
<circle cx="703.46" cy="73.46" r="0.75" fill="none" stroke="#c8c8c8" stroke-width="0.4"/>
<circle cx="703.19" cy="70.09" r="0.75" fill="none" stroke="#c8c8c8" stroke-width="0.4"/>
<circle cx="703.39" cy="66.72" r="0.75" fill="none" stroke="#c8c8c8" stroke-width="0.4"/>
<circle cx="703.53" cy="63.36" r="0.75" fill="none" stroke="#c8c8c8" stroke-width="0.4"/>
<circle cx="703.23" cy="59.99" r="0.75" fill="none" stroke="#c8c8c8" stroke-width="0.4"/>
<circle cx="703.09" cy="56.62" r="0.75" fill="none" stroke="#c8c8c8" stroke-width="0.4"/>
<circle cx="703.09" cy="53.26" r="0.75" fill="none" stroke="#c8c8c8" stroke-width="0.4"/>
<circle cx="703.38" cy="49.89" r="0.75" fill="none" stroke="#c8c8c8" stroke-width="0.4"/>
<circle cx="703.36" cy="46.52" r="0.75" fill="none" stroke="#c8c8c8" stroke-width="0.4"/>
<circle cx="708.9" cy="144.89" r="0.75" fill="none" stroke="#c8c8c8" stroke-width="0.4"/>
<circle cx="708.86" cy="141.45" r="0.75" fill="none" stroke="#c8c8c8" stroke-width="0.4"/>
<circle cx="708.91" cy="138.02" r="0.75" fill="none" stroke="#c8c8c8" stroke-width="0.4"/>
<circle cx="708.86" cy="134.58" r="0.75" fill="none" stroke="#c8c8c8" stroke-width="0.4"/>
<circle cx="709.17" cy="131.15" r="0.75" fill="none" stroke="#c8c8c8" stroke-width="0.4"/>
<circle cx="709.27" cy="127.71" r="0.75" fill="none" stroke="#c8c8c8" stroke-width="0.4"/>
<circle cx="709.29" cy="124.27" r="0.75" fill="none" stroke="#c8c8c8" stroke-width="0.4"/>
<circle cx="708.9" cy="120.84" r="0.75" fill="none" stroke="#c8c8c8" stroke-width="0.4"/>
<circle cx="709.27" cy="117.4" r="0.75" fill="none" stroke="#c8c8c8" stroke-width="0.4"/>
<circle cx="708.94" cy="113.97" r="0.75" fill="none" stroke="#c8c8c8" stroke-width="0.4"/>
<circle cx="709" cy="110.53" r="0.75" fill="none" stroke="#c8c8c8" stroke-width="0.4"/>
<circle cx="709.19" cy="107.1" r="0.75" fill="none" stroke="#c8c8c8" stroke-width="0.4"/>
<circle cx="708.8" cy="103.66" r="0.75" fill="none" stroke="#c8c8c8" stroke-width="0.4"/>
<circle cx="708.81" cy="100.23" r="0.75" fill="none" stroke="#c8c8c8" stroke-width="0.4"/>
<circle cx="709.25" cy="96.79" r="0.75" fill="none" stroke="#c8c8c8" stroke-width="0.4"/>
<circle cx="708.93" cy="93.35" r="0.75" fill="none" stroke="#c8c8c8" stroke-width="0.4"/>
<circle cx="708.96" cy="89.92" r="0.75" fill="none" stroke="#c8c8c8" stroke-width="0.4"/>
<circle cx="709.1" cy="86.48" r="0.75" fill="none" stroke="#c8c8c8" stroke-width="0.4"/>
<circle cx="709.16" cy="83.05" r="0.75" fill="none" stroke="#c8c8c8" stroke-width="0.4"/>
<circle cx="714.81" cy="146.57" r="0.75" fill="none" stroke="#c8c8c8" stroke-width="0.4"/>
<circle cx="714.84" cy="143.2" r="0.75" fill="none" stroke="#c8c8c8" stroke-width="0.4"/>
<circle cx="714.68" cy="139.83" r="0.75" fill="none" stroke="#c8c8c8" stroke-width="0.4"/>
<circle cx="714.9" cy="136.46" r="0.75" fill="none" stroke="#c8c8c8" stroke-width="0.4"/>
<circle cx="715.12" cy="133.09" r="0.75" fill="none" stroke="#c8c8c8" stroke-width="0.4"/>
<circle cx="714.78" cy="129.72" r="0.75" fill="none" stroke="#c8c8c8" stroke-width="0.4"/>
<circle cx="714.88" cy="126.35" r="0.75" fill="none" stroke="#c8c8c8" stroke-width="0.4"/>
<circle cx="714.62" cy="122.98" r="0.75" fill="none" stroke="#c8c8c8" stroke-width="0.4"/>
<circle cx="714.71" cy="119.61" r="0.75" fill="none" stroke="#c8c8c8" stroke-width="0.4"/>
<circle cx="714.95" cy="116.24" r="0.75" fill="none" stroke="#c8c8c8" stroke-width="0.4"/>
<circle cx="714.62" cy="112.87" r="0.75" fill="none" stroke="#c8c8c8" stroke-width="0.4"/>
<circle cx="715.08" cy="109.5" r="0.75" fill="none" stroke="#c8c8c8" stroke-width="0.4"/>
<circle cx="715.1" cy="106.13" r="0.75" fill="none" stroke="#c8c8c8" stroke-width="0.4"/>
<circle cx="714.61" cy="102.76" r="0.75" fill="none" stroke="#c8c8c8" stroke-width="0.4"/>
<circle cx="715.11" cy="99.39" r="0.75" fill="none" stroke="#c8c8c8" stroke-width="0.4"/>
<circle cx="714.77" cy="96.02" r="0.75" fill="none" stroke="#c8c8c8" stroke-width="0.4"/>
<circle cx="715.01" cy="92.64" r="0.75" fill="none" stroke="#c8c8c8" stroke-width="0.4"/>
<circle cx="715" cy="89.27" r="0.75" fill="none" stroke="#c8c8c8" stroke-width="0.4"/>
<circle cx="720.74" cy="135.99" r="0.75" fill="none" stroke="#c8c8c8" stroke-width="0.4"/>
<circle cx="720.83" cy="132.43" r="0.75" fill="none" stroke="#c8c8c8" stroke-width="0.4"/>
<circle cx="720.51" cy="128.86" r="0.75" fill="none" stroke="#c8c8c8" stroke-width="0.4"/>
<circle cx="720.8" cy="125.3" r="0.75" fill="none" stroke="#c8c8c8" stroke-width="0.4"/>
<circle cx="720.93" cy="121.73" r="0.75" fill="none" stroke="#c8c8c8" stroke-width="0.4"/>
<circle cx="720.75" cy="118.17" r="0.75" fill="none" stroke="#c8c8c8" stroke-width="0.4"/>
<circle cx="720.67" cy="114.6" r="0.75" fill="none" stroke="#c8c8c8" stroke-width="0.4"/>
<circle cx="720.42" cy="111.04" r="0.75" fill="none" stroke="#c8c8c8" stroke-width="0.4"/>
<circle cx="720.65" cy="107.48" r="0.75" fill="none" stroke="#c8c8c8" stroke-width="0.4"/>
<circle cx="720.56" cy="103.91" r="0.75" fill="none" stroke="#c8c8c8" stroke-width="0.4"/>
<circle cx="720.78" cy="100.35" r="0.75" fill="none" stroke="#c8c8c8" stroke-width="0.4"/>
<circle cx="720.76" cy="96.78" r="0.75" fill="none" stroke="#c8c8c8" stroke-width="0.4"/>
<circle cx="720.69" cy="93.22" r="0.75" fill="none" stroke="#c8c8c8" stroke-width="0.4"/>
<circle cx="720.46" cy="89.65" r="0.75" fill="none" stroke="#c8c8c8" stroke-width="0.4"/>
<circle cx="720.74" cy="86.09" r="0.75" fill="none" stroke="#c8c8c8" stroke-width="0.4"/>
<circle cx="720.73" cy="82.52" r="0.75" fill="none" stroke="#c8c8c8" stroke-width="0.4"/>
<circle cx="726.54" cy="139.73" r="0.75" fill="none" stroke="#c8c8c8" stroke-width="0.4"/>
<circle cx="726.22" cy="136.31" r="0.75" fill="none" stroke="#c8c8c8" stroke-width="0.4"/>
<circle cx="726.71" cy="132.89" r="0.75" fill="none" stroke="#c8c8c8" stroke-width="0.4"/>
<circle cx="726.23" cy="129.47" r="0.75" fill="none" stroke="#c8c8c8" stroke-width="0.4"/>
<circle cx="726.35" cy="126.04" r="0.75" fill="none" stroke="#c8c8c8" stroke-width="0.4"/>
<circle cx="726.58" cy="122.62" r="0.75" fill="none" stroke="#c8c8c8" stroke-width="0.4"/>
<circle cx="726.51" cy="119.2" r="0.75" fill="none" stroke="#c8c8c8" stroke-width="0.4"/>
<circle cx="726.48" cy="115.78" r="0.75" fill="none" stroke="#c8c8c8" stroke-width="0.4"/>
<circle cx="726.54" cy="112.36" r="0.75" fill="none" stroke="#c8c8c8" stroke-width="0.4"/>
<circle cx="726.42" cy="108.94" r="0.75" fill="none" stroke="#c8c8c8" stroke-width="0.4"/>
<circle cx="726.34" cy="105.52" r="0.75" fill="none" stroke="#c8c8c8" stroke-width="0.4"/>
<circle cx="726.26" cy="102.09" r="0.75" fill="none" stroke="#c8c8c8" stroke-width="0.4"/>
<circle cx="726.19" cy="98.67" r="0.75" fill="none" stroke="#c8c8c8" stroke-width="0.4"/>
<circle cx="726.58" cy="95.25" r="0.75" fill="none" stroke="#c8c8c8" stroke-width="0.4"/>
<circle cx="726.6" cy="91.83" r="0.75" fill="none" stroke="#c8c8c8" stroke-width="0.4"/>
<circle cx="726.48" cy="88.41" r="0.75" fill="none" stroke="#c8c8c8" stroke-width="0.4"/>
<circle cx="726.59" cy="84.99" r="0.75" fill="none" stroke="#c8c8c8" stroke-width="0.4"/>
<circle cx="726.37" cy="81.57" r="0.75" fill="none" stroke="#c8c8c8" stroke-width="0.4"/>
<line x1="590.5" y1="75.89" x2="590.5" y2="148.94" stroke="#3a3a3a" stroke-width="1.1"/>
<line x1="589.75" y1="75.5" x2="591.95" y2="75.5" stroke="#3a3a3a" stroke-width="0.7"/>
<line x1="589.75" y1="148.5" x2="591.95" y2="148.5" stroke="#3a3a3a" stroke-width="0.7"/>
<line x1="590.5" y1="75.89" x2="590.5" y2="148.94" stroke="#aaaaaa" stroke-width="0.45" stroke-dasharray="0.5 0.8"/>
<line x1="596.5" y1="97.81" x2="596.5" y2="124.59" stroke="#3a3a3a" stroke-width="1.1"/>
<line x1="595.55" y1="97.5" x2="597.75" y2="97.5" stroke="#3a3a3a" stroke-width="0.7"/>
<line x1="595.55" y1="124.5" x2="597.75" y2="124.5" stroke="#3a3a3a" stroke-width="0.7"/>
<line x1="596.5" y1="97.81" x2="596.5" y2="124.59" stroke="#aaaaaa" stroke-width="0.45" stroke-dasharray="0.5 0.8"/>
<line x1="602.5" y1="91.11" x2="602.5" y2="131.9" stroke="#3a3a3a" stroke-width="1.1"/>
<line x1="601.35" y1="91.5" x2="603.55" y2="91.5" stroke="#3a3a3a" stroke-width="0.7"/>
<line x1="601.35" y1="131.5" x2="603.55" y2="131.5" stroke="#3a3a3a" stroke-width="0.7"/>
<line x1="602.5" y1="91.11" x2="602.5" y2="131.9" stroke="#aaaaaa" stroke-width="0.45" stroke-dasharray="0.5 0.8"/>
<line x1="608.5" y1="91.11" x2="608.5" y2="131.9" stroke="#3a3a3a" stroke-width="1.1"/>
<line x1="607.15" y1="91.5" x2="609.35" y2="91.5" stroke="#3a3a3a" stroke-width="0.7"/>
<line x1="607.15" y1="131.5" x2="609.35" y2="131.5" stroke="#3a3a3a" stroke-width="0.7"/>
<line x1="608.5" y1="91.11" x2="608.5" y2="131.9" stroke="#aaaaaa" stroke-width="0.45" stroke-dasharray="0.5 0.8"/>
<line x1="614.5" y1="94.16" x2="614.5" y2="126.42" stroke="#3a3a3a" stroke-width="1.1"/>
<line x1="612.95" y1="94.5" x2="615.15" y2="94.5" stroke="#3a3a3a" stroke-width="0.7"/>
<line x1="612.95" y1="126.5" x2="615.15" y2="126.5" stroke="#3a3a3a" stroke-width="0.7"/>
<line x1="614.5" y1="94.16" x2="614.5" y2="126.42" stroke="#aaaaaa" stroke-width="0.45" stroke-dasharray="0.5 0.8"/>
<line x1="619.5" y1="94.16" x2="619.5" y2="127.03" stroke="#3a3a3a" stroke-width="1.1"/>
<line x1="618.75" y1="94.5" x2="620.95" y2="94.5" stroke="#3a3a3a" stroke-width="0.7"/>
<line x1="618.75" y1="127.5" x2="620.95" y2="127.5" stroke="#3a3a3a" stroke-width="0.7"/>
<line x1="619.5" y1="94.16" x2="619.5" y2="127.03" stroke="#aaaaaa" stroke-width="0.45" stroke-dasharray="0.5 0.8"/>
<line x1="625.5" y1="87.46" x2="625.5" y2="134.33" stroke="#3a3a3a" stroke-width="1.1"/>
<line x1="624.55" y1="87.5" x2="626.75" y2="87.5" stroke="#3a3a3a" stroke-width="0.7"/>
<line x1="624.55" y1="134.5" x2="626.75" y2="134.5" stroke="#3a3a3a" stroke-width="0.7"/>
<line x1="625.5" y1="87.46" x2="625.5" y2="134.33" stroke="#aaaaaa" stroke-width="0.45" stroke-dasharray="0.5 0.8"/>
<line x1="641.5" y1="78.33" x2="641.5" y2="146.51" stroke="#3a3a3a" stroke-width="1.1"/>
<line x1="640.45" y1="78.5" x2="642.65" y2="78.5" stroke="#3a3a3a" stroke-width="0.7"/>
<line x1="640.45" y1="146.5" x2="642.65" y2="146.5" stroke="#3a3a3a" stroke-width="0.7"/>
<line x1="641.5" y1="78.33" x2="641.5" y2="146.51" stroke="#aaaaaa" stroke-width="0.45" stroke-dasharray="0.5 0.8"/>
<line x1="647.5" y1="97.2" x2="647.5" y2="125.81" stroke="#3a3a3a" stroke-width="1.1"/>
<line x1="646.25" y1="97.5" x2="648.45" y2="97.5" stroke="#3a3a3a" stroke-width="0.7"/>
<line x1="646.25" y1="125.5" x2="648.45" y2="125.5" stroke="#3a3a3a" stroke-width="0.7"/>
<line x1="647.5" y1="97.2" x2="647.5" y2="125.81" stroke="#aaaaaa" stroke-width="0.45" stroke-dasharray="0.5 0.8"/>
<line x1="653.5" y1="92.94" x2="653.5" y2="131.9" stroke="#3a3a3a" stroke-width="1.1"/>
<line x1="652.05" y1="92.5" x2="654.25" y2="92.5" stroke="#3a3a3a" stroke-width="0.7"/>
<line x1="652.05" y1="131.5" x2="654.25" y2="131.5" stroke="#3a3a3a" stroke-width="0.7"/>
<line x1="653.5" y1="92.94" x2="653.5" y2="131.9" stroke="#aaaaaa" stroke-width="0.45" stroke-dasharray="0.5 0.8"/>
<line x1="658.5" y1="91.72" x2="658.5" y2="131.9" stroke="#3a3a3a" stroke-width="1.1"/>
<line x1="657.85" y1="91.5" x2="660.05" y2="91.5" stroke="#3a3a3a" stroke-width="0.7"/>
<line x1="657.85" y1="131.5" x2="660.05" y2="131.5" stroke="#3a3a3a" stroke-width="0.7"/>
<line x1="658.5" y1="91.72" x2="658.5" y2="131.9" stroke="#aaaaaa" stroke-width="0.45" stroke-dasharray="0.5 0.8"/>
<line x1="664.5" y1="94.16" x2="664.5" y2="128.25" stroke="#3a3a3a" stroke-width="1.1"/>
<line x1="663.65" y1="94.5" x2="665.85" y2="94.5" stroke="#3a3a3a" stroke-width="0.7"/>
<line x1="663.65" y1="128.5" x2="665.85" y2="128.5" stroke="#3a3a3a" stroke-width="0.7"/>
<line x1="664.5" y1="94.16" x2="664.5" y2="128.25" stroke="#aaaaaa" stroke-width="0.45" stroke-dasharray="0.5 0.8"/>
<line x1="670.5" y1="94.16" x2="670.5" y2="128.25" stroke="#3a3a3a" stroke-width="1.1"/>
<line x1="669.45" y1="94.5" x2="671.65" y2="94.5" stroke="#3a3a3a" stroke-width="0.7"/>
<line x1="669.45" y1="128.5" x2="671.65" y2="128.5" stroke="#3a3a3a" stroke-width="0.7"/>
<line x1="670.5" y1="94.16" x2="670.5" y2="128.25" stroke="#aaaaaa" stroke-width="0.45" stroke-dasharray="0.5 0.8"/>
<line x1="676.5" y1="89.28" x2="676.5" y2="133.12" stroke="#3a3a3a" stroke-width="1.1"/>
<line x1="675.25" y1="89.5" x2="677.45" y2="89.5" stroke="#3a3a3a" stroke-width="0.7"/>
<line x1="675.25" y1="133.5" x2="677.45" y2="133.5" stroke="#3a3a3a" stroke-width="0.7"/>
<line x1="676.5" y1="89.28" x2="676.5" y2="133.12" stroke="#aaaaaa" stroke-width="0.45" stroke-dasharray="0.5 0.8"/>
<line x1="691.5" y1="77.11" x2="691.5" y2="146.51" stroke="#3a3a3a" stroke-width="1.1"/>
<line x1="690.55" y1="77.5" x2="692.75" y2="77.5" stroke="#3a3a3a" stroke-width="0.7"/>
<line x1="690.55" y1="146.5" x2="692.75" y2="146.5" stroke="#3a3a3a" stroke-width="0.7"/>
<line x1="691.5" y1="77.11" x2="691.5" y2="146.51" stroke="#aaaaaa" stroke-width="0.45" stroke-dasharray="0.5 0.8"/>
<line x1="697.5" y1="94.16" x2="697.5" y2="128.25" stroke="#3a3a3a" stroke-width="1.1"/>
<line x1="696.35" y1="94.5" x2="698.55" y2="94.5" stroke="#3a3a3a" stroke-width="0.7"/>
<line x1="696.35" y1="128.5" x2="698.55" y2="128.5" stroke="#3a3a3a" stroke-width="0.7"/>
<line x1="697.5" y1="94.16" x2="697.5" y2="128.25" stroke="#aaaaaa" stroke-width="0.45" stroke-dasharray="0.5 0.8"/>
<line x1="703.5" y1="92.94" x2="703.5" y2="131.9" stroke="#3a3a3a" stroke-width="1.1"/>
<line x1="702.15" y1="92.5" x2="704.35" y2="92.5" stroke="#3a3a3a" stroke-width="0.7"/>
<line x1="702.15" y1="131.5" x2="704.35" y2="131.5" stroke="#3a3a3a" stroke-width="0.7"/>
<line x1="703.5" y1="92.94" x2="703.5" y2="131.9" stroke="#aaaaaa" stroke-width="0.45" stroke-dasharray="0.5 0.8"/>
<line x1="709.5" y1="91.72" x2="709.5" y2="130.68" stroke="#3a3a3a" stroke-width="1.1"/>
<line x1="707.95" y1="91.5" x2="710.15" y2="91.5" stroke="#3a3a3a" stroke-width="0.7"/>
<line x1="707.95" y1="130.5" x2="710.15" y2="130.5" stroke="#3a3a3a" stroke-width="0.7"/>
<line x1="709.5" y1="91.72" x2="709.5" y2="130.68" stroke="#aaaaaa" stroke-width="0.45" stroke-dasharray="0.5 0.8"/>
<line x1="714.5" y1="94.16" x2="714.5" y2="128.25" stroke="#3a3a3a" stroke-width="1.1"/>
<line x1="713.75" y1="94.5" x2="715.95" y2="94.5" stroke="#3a3a3a" stroke-width="0.7"/>
<line x1="713.75" y1="128.5" x2="715.95" y2="128.5" stroke="#3a3a3a" stroke-width="0.7"/>
<line x1="714.5" y1="94.16" x2="714.5" y2="128.25" stroke="#aaaaaa" stroke-width="0.45" stroke-dasharray="0.5 0.8"/>
<line x1="720.5" y1="95.37" x2="720.5" y2="128.25" stroke="#3a3a3a" stroke-width="1.1"/>
<line x1="719.55" y1="95.5" x2="721.75" y2="95.5" stroke="#3a3a3a" stroke-width="0.7"/>
<line x1="719.55" y1="128.5" x2="721.75" y2="128.5" stroke="#3a3a3a" stroke-width="0.7"/>
<line x1="720.5" y1="95.37" x2="720.5" y2="128.25" stroke="#aaaaaa" stroke-width="0.45" stroke-dasharray="0.5 0.8"/>
<line x1="726.5" y1="90.5" x2="726.5" y2="133.12" stroke="#3a3a3a" stroke-width="1.1"/>
<line x1="725.35" y1="90.5" x2="727.55" y2="90.5" stroke="#3a3a3a" stroke-width="0.7"/>
<line x1="725.35" y1="133.5" x2="727.55" y2="133.5" stroke="#3a3a3a" stroke-width="0.7"/>
<line x1="726.5" y1="90.5" x2="726.5" y2="133.12" stroke="#aaaaaa" stroke-width="0.45" stroke-dasharray="0.5 0.8"/>
<rect x="710" y="19.1" width="13.7" height="4.2" fill="#3a62c2"/>
<text x="724.8" y="22.85" font-size="4.85" fill="#222" style="stroke:none">grid</text>
<rect x="710" y="24.53" width="13.7" height="4.2" fill="#bb4e24"/>
<text x="724.8" y="28.28" font-size="4.85" fill="#222" style="stroke:none">grid - rotated</text>
<rect x="710" y="29.96" width="13.7" height="4.2" fill="#d6a52a"/>
<text x="724.8" y="33.71" font-size="4.85" fill="#222" style="stroke:none">orthogonal</text>
<rect x="710" y="35.39" width="13.7" height="4.2" fill="#5e1f8c"/>
<text x="724.8" y="39.14" font-size="4.85" fill="#222" style="stroke:none">parallel</text>
<rect x="710" y="40.82" width="13.7" height="4.2" fill="#609e2c"/>
<text x="724.8" y="44.57" font-size="4.85" fill="#222" style="stroke:none">only motion</text>
<rect x="710" y="46.25" width="13.7" height="4.2" fill="#84bbec"/>
<text x="724.8" y="50" font-size="4.85" fill="#222" style="stroke:none">only colour</text>
<rect x="710" y="51.68" width="13.7" height="4.2" fill="#7d1828"/>
<text x="724.8" y="55.43" font-size="4.85" fill="#222" style="stroke:none">diagonal</text>
<text x="559.3" y="186.8" font-size="13" font-weight="bold">H</text>
<text x="584.7" y="193.9" font-size="7.7">Output</text>
<text x="584.6" y="241.9" font-size="7.57">Hidden</text>
<text x="587" y="289.4" font-size="7.6">Input</text>
<line x1="622.2" y1="230" x2="646.62" y2="198.83" stroke="#cc2f3b" stroke-width="1.3"/>
<path d="M648.6 196.3L647.6 199.98L645.27 198.15z" fill="#cc2f3b"/>
<line x1="646.1" y1="230" x2="653.9" y2="198" stroke="#4a82d6" stroke-width="1.3"/>
<circle cx="653.9" cy="198" r="1.49" fill="#4a82d6"/>
<line x1="668.1" y1="230" x2="661.7" y2="201.53" stroke="#cc2f3b" stroke-width="1.3"/>
<path d="M661 198.4L663.22 201.5L660.32 202.15z" fill="#cc2f3b"/>
<line x1="690" y1="230" x2="663.6" y2="195" stroke="#4a82d6" stroke-width="1.3"/>
<circle cx="663.6" cy="195" r="1.49" fill="#4a82d6"/>
<path d="M623.7 230.2 C627.2 221.5 641.7 222.5 641.7 235 C641.7 241.5 637.2 243.2 632.7 243.2" fill="none" stroke="#cc2f3b" stroke-width="1.3"/>
<path d="M629.8 243L633.4 241.3L633.4 244.9z" fill="#cc2f3b"/>
<path d="M646.8 230.2 C650.3 221.5 664.8 222.5 664.8 235 C664.8 241.5 660.3 243.2 655.8 243.2" fill="none" stroke="#cc2f3b" stroke-width="1.3"/>
<path d="M652.9 243L656.5 241.3L656.5 244.9z" fill="#cc2f3b"/>
<path d="M669.9 230.2 C673.4 221.5 687.9 222.5 687.9 235 C687.9 241.5 683.4 243.2 678.9 243.2" fill="none" stroke="#cc2f3b" stroke-width="1.3"/>
<path d="M676 243L679.6 241.3L679.6 244.9z" fill="#cc2f3b"/>
<path d="M693 230.2 C696.5 221.5 711 222.5 711 235 C711 241.5 706.5 243.2 702 243.2" fill="none" stroke="#cc2f3b" stroke-width="1.3"/>
<path d="M699.1 243L702.7 241.3L702.7 244.9z" fill="#cc2f3b"/>
<line x1="618.2" y1="277.4" x2="622.14" y2="250.18" stroke="#cc2f3b" stroke-width="1.3"/>
<path d="M622.6 247L623.57 250.69L620.63 250.26z" fill="#cc2f3b"/>
<line x1="618.2" y1="277.4" x2="644.8" y2="246.3" stroke="#4a82d6" stroke-width="1.3"/>
<circle cx="644.8" cy="246.3" r="1.49" fill="#4a82d6"/>
<line x1="644.5" y1="277.4" x2="662.85" y2="249.29" stroke="#cc2f3b" stroke-width="1.3"/>
<path d="M664.6 246.6L663.93 250.35L661.44 248.73z" fill="#cc2f3b"/>
<line x1="644.5" y1="277.4" x2="686.2" y2="245.8" stroke="#4a82d6" stroke-width="1.3"/>
<circle cx="686.2" cy="245.8" r="1.49" fill="#4a82d6"/>
<line x1="674" y1="277.4" x2="626.4" y2="246.3" stroke="#7b4fae" stroke-width="1.3"/>
<circle cx="626.4" cy="246.3" r="1.49" fill="#7b4fae"/>
<line x1="674" y1="277.4" x2="649.6" y2="246" stroke="#7b4fae" stroke-width="1.3"/>
<circle cx="649.6" cy="246" r="1.49" fill="#7b4fae"/>
<line x1="697.2" y1="277.4" x2="673" y2="246.3" stroke="#7b4fae" stroke-width="1.3"/>
<circle cx="673" cy="246.3" r="1.49" fill="#7b4fae"/>
<line x1="697.2" y1="277.4" x2="695.2" y2="246" stroke="#7b4fae" stroke-width="1.3"/>
<circle cx="695.2" cy="246" r="1.49" fill="#7b4fae"/>
<circle cx="656.9" cy="189.7" r="7.5" fill="#fff" stroke="#484848" stroke-width="1.6"/>
<text x="656.9" y="191.3" font-size="7" fill="#333" font-family="Liberation Serif" font-style="italic" text-anchor="middle">r</text>
<circle cx="622.2" cy="238" r="7.45" fill="#fff" stroke="#484848" stroke-width="1.6"/>
<text x="622.2" y="240.4" font-size="7" fill="#333" font-family="Liberation Serif" font-style="italic" text-anchor="middle">h<tspan font-size="4.6" dy="-2.2">m+</tspan></text>
<circle cx="645.3" cy="238" r="7.45" fill="#fff" stroke="#484848" stroke-width="1.6"/>
<text x="645.3" y="240.4" font-size="7" fill="#333" font-family="Liberation Serif" font-style="italic" text-anchor="middle">h<tspan font-size="4.6" dy="-2.2">m−</tspan></text>
<circle cx="668.4" cy="238" r="7.45" fill="#fff" stroke="#484848" stroke-width="1.6"/>
<text x="668.4" y="240.4" font-size="7" fill="#333" font-family="Liberation Serif" font-style="italic" text-anchor="middle">h<tspan font-size="4.6" dy="-2.2">c+</tspan></text>
<circle cx="691.5" cy="238" r="7.45" fill="#fff" stroke="#484848" stroke-width="1.6"/>
<text x="691.5" y="240.4" font-size="7" fill="#333" font-family="Liberation Serif" font-style="italic" text-anchor="middle">h<tspan font-size="4.6" dy="-2.2">c−</tspan></text>
<circle cx="618.2" cy="285.8" r="7.8" fill="#fff" stroke="#484848" stroke-width="1.6"/>
<circle cx="644.5" cy="285.8" r="7.8" fill="#fff" stroke="#484848" stroke-width="1.6"/>
<circle cx="674" cy="285.8" r="7.8" fill="#fff" stroke="#484848" stroke-width="1.6"/>
<circle cx="697.2" cy="285.8" r="7.8" fill="#fff" stroke="#484848" stroke-width="1.6"/>
<text x="613.3" y="301.44" font-size="6" text-anchor="middle" letter-spacing="0.35">Motion</text>
<text x="613.3" y="309.14" font-size="6" text-anchor="middle" letter-spacing="0.35">Stimulus</text>
<text x="644" y="301.44" font-size="6" text-anchor="middle" letter-spacing="0.35">Colour</text>
<text x="644" y="309.14" font-size="6" text-anchor="middle" letter-spacing="0.35">Stimulus</text>
<text x="671.2" y="301.44" font-size="6" text-anchor="middle" letter-spacing="0.35">Colour</text>
<text x="671.2" y="309.14" font-size="6" text-anchor="middle" letter-spacing="0.35">Task</text>
<text x="699" y="301.44" font-size="6" text-anchor="middle" letter-spacing="0.35">Motion</text>
<text x="699" y="309.14" font-size="6" text-anchor="middle" letter-spacing="0.35">Task</text>
<text x="710.6" y="252.12" font-size="6.82">Weights</text>
<line x1="721.1" y1="258.7" x2="712.71" y2="258.7" stroke="#cc2f3b" stroke-width="1.2"/>
<path d="M709.5 258.7L713.01 257.21L713.01 260.19z" fill="#cc2f3b"/>
<text x="729.5" y="261.2" font-size="7" fill="#333" font-family="Liberation Serif">1</text>
<line x1="721.1" y1="266.8" x2="709.5" y2="266.8" stroke="#4a82d6" stroke-width="1.2"/>
<circle cx="709.5" cy="266.8" r="1.49" fill="#4a82d6"/>
<text x="723.6" y="269.3" font-size="7" fill="#333" font-family="Liberation Serif">−1</text>
<line x1="721.1" y1="274.2" x2="709.5" y2="274.2" stroke="#7b4fae" stroke-width="1.2"/>
<circle cx="709.5" cy="274.2" r="1.49" fill="#7b4fae"/>
<text x="723.6" y="276.5" font-size="7" fill="#333" font-family="Liberation Serif">−<tspan font-style="italic">w</tspan></text>
<text x="395" y="340.1" font-size="13" font-weight="bold">J</text>
<text x="535.5" y="324.85" font-size="7.51">Time window (217ms each)</text>
<line x1="441.5" y1="336.4" x2="441.5" y2="428.9" stroke="#333" stroke-width="0.8"/>
<line x1="441.8" y1="428.5" x2="533.2" y2="428.5" stroke="#333" stroke-width="0.8"/>
<text x="486.7" y="336.49" font-size="7.9" text-anchor="middle">Early</text>
<text x="492.3" y="436.82" font-size="8.59" text-anchor="middle">dim 1</text>
<text x="438.49" y="378.15" font-size="8.79" text-anchor="middle" transform="rotate(-90 438.49 378.15)">dim 2</text>
<line x1="553.5" y1="336.6" x2="553.5" y2="429.9" stroke="#333" stroke-width="0.8"/>
<line x1="553" y1="429.5" x2="646.8" y2="429.5" stroke="#333" stroke-width="0.8"/>
<text x="600.8" y="335.98" font-size="7.3" text-anchor="middle">Middle</text>
<text x="604.5" y="437.82" font-size="8.59" text-anchor="middle">dim 1</text>
<text x="550.59" y="378.75" font-size="8.79" text-anchor="middle" transform="rotate(-90 550.59 378.75)">dim 2</text>
<line x1="662.5" y1="338.8" x2="662.5" y2="430.5" stroke="#333" stroke-width="0.8"/>
<line x1="662.6" y1="430.5" x2="754.8" y2="430.5" stroke="#333" stroke-width="0.8"/>
<text x="709.4" y="338.18" font-size="7.3" text-anchor="middle">Late</text>
<text x="715.7" y="438.42" font-size="8.59" text-anchor="middle">dim 1</text>
<text x="660.79" y="380.15" font-size="8.79" text-anchor="middle" transform="rotate(-90 660.79 380.15)">dim 2</text>
<text x="0" y="0" font-size="7.52" text-anchor="middle" transform="translate(423.6 382) rotate(-90)">Monkey A</text>

<path d="M463.58 396.42L461.37 380.2M463.58 396.42L466.55 390.28M463.58 396.42L483.94 391.32M488.02 380.41L466.23 404.24M488.02 380.41L480.87 352.8M488.02 380.41L495.57 359.85M488.02 380.41L485.2 399.46M488.02 380.41L461.37 380.2M488.02 380.41L498 359.28M488.02 380.41L476.3 371.76M488.02 380.41L483.62 400.86M488.02 380.41L483.94 391.32M488.02 380.41L464.4 356.93M466.23 404.24L472.83 380.84M466.23 404.24L485.2 399.46M466.23 404.24L473.02 389.39M497.01 382.95L500.5 390.81M497.01 382.95L504.5 372M497.01 382.95L500.03 361.85M497.01 382.95L494.25 401.97M497.01 382.95L478.47 373.32M497.01 382.95L480.79 381.36M481.26 361.94L485.44 349.26M481.26 361.94L480.87 352.8M481.26 361.94L478.56 385.95M481.26 361.94L472.83 380.84M481.26 361.94L478.47 373.32M485.44 349.26L504.5 372M485.44 349.26L472.83 380.84M485.44 349.26L495.57 359.85M496.28 361.65L480.87 352.8M496.28 361.65L500.03 361.85M496.28 361.65L498 359.28M496.28 361.65L470.94 351.85M500.5 390.81L478.47 373.32M500.5 390.81L480.79 381.36M456.77 369L480.87 352.8M456.77 369L476.3 371.76M456.77 369L464.4 356.93M480.87 352.8L472.83 380.84M480.87 352.8L500.03 361.85M480.87 352.8L498 359.28M480.87 352.8L476.3 371.76M504.5 372L500.03 361.85M504.5 372L495.57 359.85M463.05 406.13L485.2 399.46M463.05 406.13L461.37 380.2M463.05 406.13L483.62 400.86M463.05 406.13L466.55 390.28M463.05 406.13L483.94 391.32M463.05 406.13L473.11 414.46M478.56 385.95L472.83 380.84M478.56 385.95L476.3 371.76M478.56 385.95L483.62 400.86M478.56 385.95L464.4 356.93M478.56 385.95L473.11 414.46M478.56 385.95L473.02 389.39M472.83 380.84L495.57 359.85M472.83 380.84L494.25 401.97M472.83 380.84L485.2 399.46M472.83 380.84L478.47 373.32M472.83 380.84L483.62 400.86M472.83 380.84L466.55 390.28M472.83 380.84L464.4 356.93M472.83 380.84L473.02 389.39M500.03 361.85L470.94 351.85M495.57 359.85L470.94 351.85M494.25 401.97L485.2 399.46M494.25 401.97L473.02 389.39M485.2 399.46L480.79 381.36M485.2 399.46L483.62 400.86M485.2 399.46L466.55 390.28M485.2 399.46L473.11 414.46M485.2 399.46L473.02 389.39M461.37 380.2L476.3 371.76M461.37 380.2L480.79 381.36M461.37 380.2L466.55 390.28M461.37 380.2L470.94 351.85M498 359.28L470.94 351.85M476.3 371.76L466.55 390.28M476.3 371.76L483.94 391.32M478.47 373.32L483.94 391.32M480.79 381.36L483.94 391.32M483.62 400.86L473.11 414.46M483.94 391.32L473.02 389.39M473.11 414.46L473.02 389.39" fill="none" stroke="#4b45b0" stroke-width="0.6"/>
<path d="M482.84 378.98L487.04 373.77M482.84 378.98L485.4 384.07M482.84 378.98L498.9 384.93M482.84 378.98L493.26 390.26M482.84 378.98L476.51 399.79M482.84 378.98L475.12 379.3M482.84 378.98L498.24 370.77M481.16 385.23L492.68 399.79M481.16 385.23L491.02 377.92M481.16 385.23L476.51 399.79M481.16 385.23L475.12 379.3M481.16 385.23L488.53 388.36M505.41 359.99L502.69 376.31M505.41 359.99L500.4 351.44M505.41 359.99L487.04 373.77M505.41 359.99L507.48 372.14M505.41 359.99L498.9 384.93M505.41 359.99L508.65 364.21M505.41 359.99L503.25 354.26M498.06 367.89L500.21 373.38M498.06 367.89L500.4 351.44M498.06 367.89L483.03 362.21M498.06 367.89L498.9 384.93M498.06 367.89L508.65 364.21M498.06 367.89L481.91 371.15M498.06 367.89L498.24 370.77M500.21 373.38L502.69 376.31M500.21 373.38L487.04 373.77M500.21 373.38L513.56 386.95M500.21 373.38L503.25 354.26M511.13 386.8L498.58 395.85M511.13 386.8L516.83 378.29M511.13 386.8L515.25 388.43M511.13 386.8L507.48 372.14M511.13 386.8L493.26 390.26M511.13 386.8L498.24 370.77M498.58 395.85L515.25 388.43M498.58 395.85L492.68 399.79M498.58 395.85L480.33 383.19M498.58 395.85L504.01 384.12M498.58 395.85L476.51 399.79M498.58 395.85L488.53 388.36M516.83 378.29L515.25 388.43M516.83 378.29L513.56 386.95M516.83 378.29L491.02 377.92M515.25 388.43L513.56 386.95M515.25 388.43L498.9 384.93M515.25 388.43L504.01 384.12M515.25 388.43L493.26 390.26M502.69 376.31L513.56 386.95M502.69 376.31L498.9 384.93M502.69 376.31L493.26 390.26M492.68 399.79L488.53 388.36M500.4 351.44L483.03 362.21M500.4 351.44L508.65 364.21M480.33 383.19L491.02 377.92M480.33 383.19L475.12 379.3M480.33 383.19L488.53 388.36M487.04 373.77L483.03 362.21M487.04 373.77L491.02 377.92M487.04 373.77L481.91 371.15M487.04 373.77L493.26 390.26M487.04 373.77L475.12 379.3M487.04 373.77L498.24 370.77M487.04 373.77L488.53 388.36M487.04 373.77L485.34 382.74M507.48 372.14L504.01 384.12M507.48 372.14L491.02 377.92M483.03 362.21L477.23 375.08M483.03 362.21L481.91 371.15M483.03 362.21L475.12 379.3M483.03 362.21L498.24 370.77M513.56 386.95L504.01 384.12M513.56 386.95L508.65 364.21M485.4 384.07L477.23 375.08M485.4 384.07L498.9 384.93M485.4 384.07L491.02 377.92M485.4 384.07L475.12 379.3M485.4 384.07L485.34 382.74M477.23 375.08L498.24 370.77M477.23 375.08L485.34 382.74M498.9 384.93L504.01 384.12M498.9 384.93L476.51 399.79M498.9 384.93L498.24 370.77M504.01 384.12L498.24 370.77M491.02 377.92L498.24 370.77M491.02 377.92L488.53 388.36M491.02 377.92L467.49 378.85M481.91 371.15L498.24 370.77M476.51 399.79L467.49 378.85M503.25 354.26L498.24 370.77M488.53 388.36L485.34 382.74M485.34 382.74L467.49 378.85" fill="none" stroke="#e4773f" stroke-width="0.6"/>
<rect x="481.34" y="377.48" width="3" height="3" fill="#4b6f29" stroke="#e4773f" stroke-width="0.45"/>
<rect x="479.66" y="383.73" width="3" height="3" fill="#627650" stroke="#e4773f" stroke-width="0.45"/>
<rect x="503.91" y="358.49" width="3" height="3" fill="#8fcb56" stroke="#e4773f" stroke-width="0.45"/>
<rect x="496.56" y="366.39" width="3" height="3" fill="#9fc27e" stroke="#e4773f" stroke-width="0.45"/>
<rect x="498.71" y="371.88" width="3" height="3" fill="#84a664" stroke="#e4773f" stroke-width="0.45"/>
<rect x="509.63" y="385.3" width="3" height="3" fill="#51643e" stroke="#e4773f" stroke-width="0.45"/>
<rect x="497.08" y="394.35" width="3" height="3" fill="#3b4135" stroke="#e4773f" stroke-width="0.45"/>
<rect x="515.33" y="376.79" width="3" height="3" fill="#91a87c" stroke="#e4773f" stroke-width="0.45"/>
<rect x="513.75" y="386.93" width="3" height="3" fill="#76836a" stroke="#e4773f" stroke-width="0.45"/>
<rect x="501.19" y="374.81" width="3" height="3" fill="#6c8f4c" stroke="#e4773f" stroke-width="0.45"/>
<rect x="491.18" y="398.29" width="3" height="3" fill="#515151" stroke="#e4773f" stroke-width="0.45"/>
<rect x="498.9" y="349.94" width="3" height="3" fill="#fafafa" stroke="#e4773f" stroke-width="0.45"/>
<rect x="478.83" y="381.69" width="3" height="3" fill="#70855c" stroke="#e4773f" stroke-width="0.45"/>
<rect x="485.54" y="372.27" width="3" height="3" fill="#7fa25f" stroke="#e4773f" stroke-width="0.45"/>
<rect x="505.98" y="370.64" width="3" height="3" fill="#608f33" stroke="#e4773f" stroke-width="0.45"/>
<rect x="481.53" y="360.71" width="3" height="3" fill="#79ba3c" stroke="#e4773f" stroke-width="0.45"/>
<rect x="512.06" y="385.45" width="3" height="3" fill="#6b7b5c" stroke="#e4773f" stroke-width="0.45"/>
<rect x="483.9" y="382.57" width="3" height="3" fill="#fafafa" stroke="#e4773f" stroke-width="0.45"/>
<rect x="475.73" y="373.58" width="3" height="3" fill="#749753" stroke="#e4773f" stroke-width="0.45"/>
<rect x="497.4" y="383.43" width="3" height="3" fill="#697d57" stroke="#e4773f" stroke-width="0.45"/>
<rect x="502.51" y="382.62" width="3" height="3" fill="#768964" stroke="#e4773f" stroke-width="0.45"/>
<rect x="507.15" y="362.71" width="3" height="3" fill="#79b441" stroke="#e4773f" stroke-width="0.45"/>
<rect x="489.52" y="376.42" width="3" height="3" fill="#6d8c50" stroke="#e4773f" stroke-width="0.45"/>
<rect x="480.41" y="369.65" width="3" height="3" fill="#7ba455" stroke="#e4773f" stroke-width="0.45"/>
<rect x="491.76" y="388.76" width="3" height="3" fill="#3d4c2e" stroke="#e4773f" stroke-width="0.45"/>
<rect x="475.01" y="398.29" width="3" height="3" fill="#717171" stroke="#e4773f" stroke-width="0.45"/>
<rect x="501.75" y="352.76" width="3" height="3" fill="#96e050" stroke="#e4773f" stroke-width="0.45"/>
<rect x="473.62" y="377.8" width="3" height="3" fill="#638246" stroke="#e4773f" stroke-width="0.45"/>
<rect x="496.74" y="369.27" width="3" height="3" fill="#82aa5d" stroke="#e4773f" stroke-width="0.45"/>
<rect x="487.03" y="386.86" width="3" height="3" fill="#59694a" stroke="#e4773f" stroke-width="0.45"/>
<rect x="483.84" y="381.24" width="3" height="3" fill="#597341" stroke="#e4773f" stroke-width="0.45"/>
<rect x="465.99" y="377.35" width="3" height="3" fill="#fafafa" stroke="#e4773f" stroke-width="0.45"/>
<rect x="462.08" y="394.92" width="3" height="3" fill="#fafafa" stroke="#4b45b0" stroke-width="0.45"/>
<rect x="486.52" y="378.91" width="3" height="3" fill="#668d40" stroke="#4b45b0" stroke-width="0.45"/>
<rect x="464.73" y="402.74" width="3" height="3" fill="#424e37" stroke="#4b45b0" stroke-width="0.45"/>
<rect x="495.51" y="381.45" width="3" height="3" fill="#577f33" stroke="#4b45b0" stroke-width="0.45"/>
<rect x="479.76" y="360.44" width="3" height="3" fill="#9dcf6e" stroke="#4b45b0" stroke-width="0.45"/>
<rect x="483.94" y="347.76" width="3" height="3" fill="#97eb49" stroke="#4b45b0" stroke-width="0.45"/>
<rect x="494.78" y="360.15" width="3" height="3" fill="#82c445" stroke="#4b45b0" stroke-width="0.45"/>
<rect x="499" y="389.31" width="3" height="3" fill="#fafafa" stroke="#4b45b0" stroke-width="0.45"/>
<rect x="455.27" y="367.5" width="3" height="3" fill="#9cc477" stroke="#4b45b0" stroke-width="0.45"/>
<rect x="479.37" y="351.3" width="3" height="3" fill="#b7e987" stroke="#4b45b0" stroke-width="0.45"/>
<rect x="503" y="370.5" width="3" height="3" fill="#fafafa" stroke="#4b45b0" stroke-width="0.45"/>
<rect x="461.55" y="404.63" width="3" height="3" fill="#36402d" stroke="#4b45b0" stroke-width="0.45"/>
<rect x="477.06" y="384.45" width="3" height="3" fill="#567936" stroke="#4b45b0" stroke-width="0.45"/>
<rect x="471.33" y="379.34" width="3" height="3" fill="#fafafa" stroke="#4b45b0" stroke-width="0.45"/>
<rect x="498.53" y="360.35" width="3" height="3" fill="#fafafa" stroke="#4b45b0" stroke-width="0.45"/>
<rect x="494.07" y="358.35" width="3" height="3" fill="#9fd46e" stroke="#4b45b0" stroke-width="0.45"/>
<rect x="492.75" y="400.47" width="3" height="3" fill="#808977" stroke="#4b45b0" stroke-width="0.45"/>
<rect x="483.7" y="397.96" width="3" height="3" fill="#374925" stroke="#4b45b0" stroke-width="0.45"/>
<rect x="459.87" y="378.7" width="3" height="3" fill="#689043" stroke="#4b45b0" stroke-width="0.45"/>
<rect x="496.5" y="357.78" width="3" height="3" fill="#a9d97c" stroke="#4b45b0" stroke-width="0.45"/>
<rect x="474.8" y="370.26" width="3" height="3" fill="#86b25d" stroke="#4b45b0" stroke-width="0.45"/>
<rect x="476.97" y="371.82" width="3" height="3" fill="#a5c389" stroke="#4b45b0" stroke-width="0.45"/>
<rect x="479.29" y="379.86" width="3" height="3" fill="#5f8739" stroke="#4b45b0" stroke-width="0.45"/>
<rect x="482.12" y="399.36" width="3" height="3" fill="#364626" stroke="#4b45b0" stroke-width="0.45"/>
<rect x="465.05" y="388.78" width="3" height="3" fill="#70885a" stroke="#4b45b0" stroke-width="0.45"/>
<rect x="482.44" y="389.82" width="3" height="3" fill="#4b6731" stroke="#4b45b0" stroke-width="0.45"/>
<rect x="462.9" y="355.43" width="3" height="3" fill="#9ed966" stroke="#4b45b0" stroke-width="0.45"/>
<rect x="471.61" y="412.96" width="3" height="3" fill="#272727" stroke="#4b45b0" stroke-width="0.45"/>
<rect x="471.52" y="387.89" width="3" height="3" fill="#fafafa" stroke="#4b45b0" stroke-width="0.45"/>
<rect x="469.44" y="350.35" width="3" height="3" fill="#92e247" stroke="#4b45b0" stroke-width="0.45"/>
<path d="M598.44 346.28L584.33 347.07M598.44 346.28L585.9 356.81M598.44 346.28L577.07 353.79M598.44 346.28L581.78 355.09M598.44 346.28L587.83 371.39M607.93 352.01L588.62 348.15M607.93 352.01L585.9 356.81M607.93 352.01L599.48 372.06M607.93 352.01L597.25 377.79M584.33 347.07L588.62 348.15M584.33 347.07L585.9 356.81M584.33 347.07L581.78 355.09M584.33 347.07L603.4 353.31M584.33 347.07L578.79 371.11M584.33 347.07L587.27 364.78M588.62 348.15L585.9 356.81M588.62 348.15L577.07 353.79M588.62 348.15L581.78 355.09M588.62 348.15L598.15 346.83M588.62 348.15L587.27 364.78M588.62 348.15L586.09 376.28M585.9 356.81L577.07 353.79M585.9 356.81L603.4 353.31M585.9 356.81L598.47 372.78M585.9 356.81L599.48 372.06M577.07 353.79L589.04 379.3M581.78 355.09L603.4 353.31M581.78 355.09L591.64 383.44M581.78 355.09L587.83 371.39M603.4 353.31L598.15 346.83M603.4 353.31L589.04 379.3M603.4 353.31L587.83 371.39M603.4 353.31L598.47 372.78M603.4 353.31L587.27 364.78M603.4 353.31L597.25 377.79M598.15 346.83L578.79 371.11M598.15 346.83L597.25 377.79M589.04 379.3L578.79 371.11M589.04 379.3L597.25 377.79M589.04 379.3L586.09 376.28M589.04 379.3L576.97 410.13M589.04 379.3L591.38 426.14M589.04 379.3L584.69 414.79M589.04 379.3L601.62 408.56M577.15 392.14L591.64 383.44M577.15 392.14L587.83 371.39M577.15 392.14L576.97 410.13M577.15 392.14L584.69 414.79M577.15 392.14L594.75 416.85M577.15 392.14L581.28 409.3M591.64 383.44L587.83 371.39M591.64 383.44L599.48 372.06M591.64 383.44L597.25 377.79M591.64 383.44L576.97 410.13M591.64 383.44L606.63 417.07M591.64 383.44L591.38 426.14M587.83 371.39L578.79 371.11M587.83 371.39L587.27 364.78M587.83 371.39L597.25 377.79M598.47 372.78L587.27 364.78M598.47 372.78L586.09 376.28M587.27 364.78L599.48 372.06M599.48 372.06L586.09 376.28M597.25 377.79L594.75 416.85M576.13 411.82L576.97 410.13M576.13 411.82L606.63 417.07M576.13 411.82L591.38 426.14M576.13 411.82L594.35 423.83M576.13 411.82L581.28 409.3M576.13 411.82L598.86 423.15M576.97 410.13L594.35 423.83M576.97 410.13L581.28 409.3M576.97 410.13L598.86 423.15M608.13 413.53L606.63 417.07M608.13 413.53L581.28 409.3M608.13 413.53L598.86 423.15M606.63 417.07L594.35 423.83M606.63 417.07L598.86 423.15M591.38 426.14L584.69 414.79M591.38 426.14L601.62 408.56M594.35 423.83L584.69 414.79M594.35 423.83L594.75 416.85M594.35 423.83L601.62 408.56M594.75 416.85L581.28 409.3M594.75 416.85L598.86 423.15M581.28 409.3L598.86 423.15" fill="none" stroke="#4b45b0" stroke-width="0.6"/>
<path d="M596.54 394.99L591.51 370.7M596.54 394.99L590.57 399.37M596.54 394.99L597.19 387.69M596.54 394.99L594.13 383.47M596.54 394.99L586.87 388.4M596.54 394.99L600.35 385.3M596.54 394.99L619.17 394.82M619.69 357.66L614.74 374.67M619.69 357.66L625.72 373.66M619.69 357.66L605.7 366.66M619.69 357.66L593.74 364.49M595.65 355.5L591.51 370.7M595.65 355.5L605.7 366.66M595.65 355.5L604.93 368.05M595.65 355.5L596.69 371.03M595.65 355.5L593.74 364.49M614.74 374.67L625.72 373.66M614.74 374.67L604.58 381.27M614.74 374.67L604.93 368.05M614.74 374.67L620.69 388.2M614.74 374.67L619.17 394.82M591.51 370.7L598.65 360.51M591.51 370.7L591.45 386.74M591.51 370.7L607.54 370.77M591.51 370.7L593.74 364.49M625.72 373.66L604.58 381.27M625.72 373.66L628.32 373.68M625.72 373.66L619.17 394.82M616.31 385.41L597.19 387.69M616.31 385.41L607.54 370.77M616.31 385.41L623.92 389.11M616.31 385.41L614.37 373.97M604.58 381.27L605.7 366.66M604.58 381.27L591.45 386.74M604.58 381.27L596.69 371.03M604.58 381.27L614.37 373.97M598.65 360.51L596.82 359.82M598.65 360.51L607.54 370.77M605.7 366.66L607.54 370.77M596.82 359.82L607.54 370.77M596.82 359.82L593.74 364.49M596.82 359.82L614.37 373.97M628.32 373.68L621.89 384.53M628.32 373.68L619.17 394.82M590.57 399.37L597.19 387.69M590.57 399.37L596.69 371.03M590.57 399.37L619.17 394.82M597.19 387.69L591.45 386.74M597.19 387.69L596.69 371.03M591.45 386.74L594.13 383.47M591.45 386.74L596.69 371.03M591.45 386.74L600.35 385.3M591.45 386.74L593.74 364.49M591.45 386.74L606.75 405.22M603.31 391.71L594.13 383.47M603.31 391.71L600.35 385.3M603.31 391.71L621.89 384.53M603.31 391.71L619.17 394.82M603.31 391.71L605.96 389.69M603.31 391.71L606.75 405.22M607.54 370.77L623.92 389.11M607.54 370.77L620.69 388.2M607.54 370.77L600.35 385.3M594.13 383.47L593.74 364.49M594.13 383.47L605.96 389.69M594.13 383.47L606.75 405.22M623.92 389.11L600.35 385.3M623.92 389.11L619.17 394.82M623.92 389.11L614.37 373.97M604.93 368.05L596.69 371.03M604.93 368.05L600.35 385.3M604.93 368.05L593.74 364.49M604.93 368.05L614.37 373.97M586.87 388.4L596.69 371.03M586.87 388.4L605.96 389.69M620.69 388.2L619.17 394.82M620.69 388.2L605.96 389.69M596.69 371.03L593.74 364.49M596.69 371.03L614.37 373.97M600.35 385.3L605.96 389.69M621.89 384.53L605.96 389.69M621.89 384.53L614.37 373.97M619.17 394.82L606.75 405.22" fill="none" stroke="#e4773f" stroke-width="0.6"/>
<rect x="595.04" y="393.49" width="3" height="3" fill="#6c7861" stroke="#e4773f" stroke-width="0.45"/>
<rect x="618.19" y="356.16" width="3" height="3" fill="#ade875" stroke="#e4773f" stroke-width="0.45"/>
<rect x="594.15" y="354" width="3" height="3" fill="#c2f196" stroke="#e4773f" stroke-width="0.45"/>
<rect x="613.24" y="373.17" width="3" height="3" fill="#fafafa" stroke="#e4773f" stroke-width="0.45"/>
<rect x="590.01" y="369.2" width="3" height="3" fill="#fafafa" stroke="#e4773f" stroke-width="0.45"/>
<rect x="624.22" y="372.16" width="3" height="3" fill="#a4c387" stroke="#e4773f" stroke-width="0.45"/>
<rect x="614.81" y="383.91" width="3" height="3" fill="#8da17a" stroke="#e4773f" stroke-width="0.45"/>
<rect x="603.08" y="379.77" width="3" height="3" fill="#85a16b" stroke="#e4773f" stroke-width="0.45"/>
<rect x="597.15" y="359.01" width="3" height="3" fill="#97d958" stroke="#e4773f" stroke-width="0.45"/>
<rect x="604.2" y="365.16" width="3" height="3" fill="#9bcb6e" stroke="#e4773f" stroke-width="0.45"/>
<rect x="595.32" y="358.32" width="3" height="3" fill="#b6e58a" stroke="#e4773f" stroke-width="0.45"/>
<rect x="626.82" y="372.18" width="3" height="3" fill="#78a74c" stroke="#e4773f" stroke-width="0.45"/>
<rect x="589.07" y="397.87" width="3" height="3" fill="#686e61" stroke="#e4773f" stroke-width="0.45"/>
<rect x="595.69" y="386.19" width="3" height="3" fill="#788d65" stroke="#e4773f" stroke-width="0.45"/>
<rect x="589.95" y="385.24" width="3" height="3" fill="#899c76" stroke="#e4773f" stroke-width="0.45"/>
<rect x="601.81" y="390.21" width="3" height="3" fill="#394f24" stroke="#e4773f" stroke-width="0.45"/>
<rect x="606.04" y="369.27" width="3" height="3" fill="#83b555" stroke="#e4773f" stroke-width="0.45"/>
<rect x="592.63" y="381.97" width="3" height="3" fill="#839c6b" stroke="#e4773f" stroke-width="0.45"/>
<rect x="622.42" y="387.61" width="3" height="3" fill="#909f82" stroke="#e4773f" stroke-width="0.45"/>
<rect x="603.43" y="366.55" width="3" height="3" fill="#a6cd80" stroke="#e4773f" stroke-width="0.45"/>
<rect x="585.37" y="386.9" width="3" height="3" fill="#fafafa" stroke="#e4773f" stroke-width="0.45"/>
<rect x="619.19" y="386.7" width="3" height="3" fill="#90a080" stroke="#e4773f" stroke-width="0.45"/>
<rect x="595.19" y="369.53" width="3" height="3" fill="#a0c57e" stroke="#e4773f" stroke-width="0.45"/>
<rect x="598.85" y="383.8" width="3" height="3" fill="#69844f" stroke="#e4773f" stroke-width="0.45"/>
<rect x="592.24" y="362.99" width="3" height="3" fill="#86c749" stroke="#e4773f" stroke-width="0.45"/>
<rect x="620.39" y="383.03" width="3" height="3" fill="#8aa075" stroke="#e4773f" stroke-width="0.45"/>
<rect x="617.67" y="393.32" width="3" height="3" fill="#7f8975" stroke="#e4773f" stroke-width="0.45"/>
<rect x="604.46" y="388.19" width="3" height="3" fill="#758763" stroke="#e4773f" stroke-width="0.45"/>
<rect x="605.25" y="403.72" width="3" height="3" fill="#616161" stroke="#e4773f" stroke-width="0.45"/>
<rect x="612.87" y="372.47" width="3" height="3" fill="#71a244" stroke="#e4773f" stroke-width="0.45"/>
<rect x="596.94" y="344.78" width="3" height="3" fill="#bdf08c" stroke="#4b45b0" stroke-width="0.45"/>
<rect x="606.43" y="350.51" width="3" height="3" fill="#ade479" stroke="#4b45b0" stroke-width="0.45"/>
<rect x="582.83" y="345.57" width="3" height="3" fill="#a0ea5a" stroke="#4b45b0" stroke-width="0.45"/>
<rect x="587.12" y="346.65" width="3" height="3" fill="#bbed8b" stroke="#4b45b0" stroke-width="0.45"/>
<rect x="584.4" y="355.31" width="3" height="3" fill="#87cf44" stroke="#4b45b0" stroke-width="0.45"/>
<rect x="575.57" y="352.29" width="3" height="3" fill="#fafafa" stroke="#4b45b0" stroke-width="0.45"/>
<rect x="580.28" y="353.59" width="3" height="3" fill="#99d85d" stroke="#4b45b0" stroke-width="0.45"/>
<rect x="601.9" y="351.81" width="3" height="3" fill="#b5e589" stroke="#4b45b0" stroke-width="0.45"/>
<rect x="596.65" y="345.33" width="3" height="3" fill="#aced6e" stroke="#4b45b0" stroke-width="0.45"/>
<rect x="587.54" y="377.8" width="3" height="3" fill="#fafafa" stroke="#4b45b0" stroke-width="0.45"/>
<rect x="575.65" y="390.64" width="3" height="3" fill="#4e712d" stroke="#4b45b0" stroke-width="0.45"/>
<rect x="590.14" y="381.94" width="3" height="3" fill="#9fb888" stroke="#4b45b0" stroke-width="0.45"/>
<rect x="586.33" y="369.89" width="3" height="3" fill="#99c074" stroke="#4b45b0" stroke-width="0.45"/>
<rect x="577.29" y="369.61" width="3" height="3" fill="#77ad44" stroke="#4b45b0" stroke-width="0.45"/>
<rect x="596.97" y="371.28" width="3" height="3" fill="#fafafa" stroke="#4b45b0" stroke-width="0.45"/>
<rect x="585.77" y="363.28" width="3" height="3" fill="#8ec35b" stroke="#4b45b0" stroke-width="0.45"/>
<rect x="597.98" y="370.56" width="3" height="3" fill="#6aa434" stroke="#4b45b0" stroke-width="0.45"/>
<rect x="595.75" y="376.29" width="3" height="3" fill="#75a14b" stroke="#4b45b0" stroke-width="0.45"/>
<rect x="584.59" y="374.78" width="3" height="3" fill="#82ac5b" stroke="#4b45b0" stroke-width="0.45"/>
<rect x="574.63" y="410.32" width="3" height="3" fill="#5d6852" stroke="#4b45b0" stroke-width="0.45"/>
<rect x="575.47" y="408.63" width="3" height="3" fill="#fafafa" stroke="#4b45b0" stroke-width="0.45"/>
<rect x="606.63" y="412.03" width="3" height="3" fill="#5d6754" stroke="#4b45b0" stroke-width="0.45"/>
<rect x="605.13" y="415.57" width="3" height="3" fill="#fafafa" stroke="#4b45b0" stroke-width="0.45"/>
<rect x="589.88" y="424.64" width="3" height="3" fill="#2c2c2c" stroke="#4b45b0" stroke-width="0.45"/>
<rect x="592.85" y="422.33" width="3" height="3" fill="#4d4f4b" stroke="#4b45b0" stroke-width="0.45"/>
<rect x="583.19" y="413.29" width="3" height="3" fill="#303b25" stroke="#4b45b0" stroke-width="0.45"/>
<rect x="593.25" y="415.35" width="3" height="3" fill="#2e3725" stroke="#4b45b0" stroke-width="0.45"/>
<rect x="600.12" y="407.06" width="3" height="3" fill="#354724" stroke="#4b45b0" stroke-width="0.45"/>
<rect x="579.78" y="407.8" width="3" height="3" fill="#68745c" stroke="#4b45b0" stroke-width="0.45"/>
<rect x="597.36" y="421.65" width="3" height="3" fill="#7a7b78" stroke="#4b45b0" stroke-width="0.45"/>
<path d="M696.15 358.74L719.76 352.69M696.15 358.74L720.13 354.66M696.15 358.74L694.8 357.01M696.15 358.74L687.7 386.19M696.15 358.74L695.9 385.36M696.15 358.74L698.44 376.06M715.22 351.46L729.25 347.28M715.22 351.46L685.92 356.47M715.22 351.46L693.86 371.94M715.22 351.46L695.9 385.36M721.11 355.72L697.4 354.32M721.11 355.72L729.25 347.28M721.11 355.72L708.46 360.1M721.11 355.72L694.8 357.01M697.4 354.32L720.13 354.66M697.4 354.32L729.25 347.28M697.4 354.32L693.86 371.94M719.76 352.69L729.25 347.28M719.76 352.69L708.46 360.1M719.76 352.69L695.9 385.36M720.13 354.66L685.92 356.47M720.13 354.66L682.46 376.74M720.13 354.66L700.96 389.87M729.25 347.28L700.96 389.87M708.46 360.1L682.46 376.74M685.92 356.47L682.46 376.74M685.92 356.47L693.86 371.94M685.92 356.47L695.9 385.36M694.8 357.01L682.46 376.74M687.7 386.19L682.46 376.74M687.7 386.19L693.86 371.94M687.7 386.19L695.9 385.36M687.7 386.19L698.44 376.06M687.7 386.19L692.63 416.08M682.46 376.74L700.96 389.87M682.46 376.74L689.97 402.37M700.96 389.87L693.86 371.94M700.96 389.87L698.7 422.57M700.96 389.87L686.01 412.27M681.1 386.29L695.9 385.36M681.1 386.29L691.63 400.99M681.1 386.29L698.44 376.06M681.1 386.29L683.84 411.04M681.1 386.29L679.17 410.03M695.9 385.36L698.44 376.06M695.9 385.36L701.09 418.2M691.63 400.99L689.93 412.07M691.63 400.99L701.09 418.2M691.63 400.99L683.84 411.04M691.63 400.99L673.52 418.3M691.63 400.99L679.17 410.03M689.93 412.07L689.97 402.37M689.93 412.07L679.66 418.1M689.93 412.07L698.7 422.57M689.93 412.07L686.94 410.98M689.93 412.07L673.52 418.3M689.93 412.07L679.17 410.03M701.09 418.2L683.84 411.04M701.09 418.2L679.66 418.1M701.09 418.2L692.63 416.08M701.09 418.2L686.94 410.98M701.09 418.2L679.17 410.03M682.48 418.62L698.7 422.57M682.48 418.62L692.63 416.08M682.48 418.62L686.01 412.27M689.97 402.37L679.66 418.1M689.97 402.37L686.94 410.98M683.84 411.04L679.66 418.1M683.84 411.04L698.7 422.57M683.84 411.04L692.63 416.08M679.66 418.1L692.63 416.08M698.7 422.57L692.63 416.08M698.7 422.57L686.01 412.27M686.94 410.98L686.01 412.27M686.94 410.98L673.52 418.3M686.01 412.27L679.17 410.03" fill="none" stroke="#4b45b0" stroke-width="0.6"/>
<path d="M692.44 365.54L689.99 390.83M692.44 365.54L684.64 381.63M692.44 365.54L703.9 384.15M692.44 365.54L723.05 374.14M692.44 365.54L724.65 374M706.32 401.96L681.24 384.24M706.32 401.96L736.94 400.75M706.32 401.96L689.99 390.83M706.32 401.96L715.25 376.84M706.32 401.96L711.51 391.93M738.65 398.12L733.21 381.15M738.65 398.12L736.94 400.75M738.65 398.12L739.92 388.46M738.65 398.12L741.03 388.78M733.21 381.15L729.52 373.62M733.21 381.15L743.7 379.37M733.21 381.15L743.28 383.2M733.21 381.15L730.4 364.04M733.21 381.15L725.68 373.1M733.21 381.15L735.3 385.58M733.21 381.15L722.4 364.36M733.21 381.15L711.31 405.54M733.21 381.15L727.12 391.74M729.52 373.62L730.4 364.04M729.52 373.62L739.92 388.46M729.52 373.62L735.3 385.58M729.52 373.62L714.65 379.04M729.52 373.62L741.03 388.78M729.52 373.62L735.48 370.11M681.24 384.24L714.65 379.04M681.24 384.24L711.51 391.93M743.7 379.37L735.3 385.58M743.7 379.37L741.03 388.78M743.7 379.37L735.48 370.11M743.28 383.2L736.94 400.75M743.28 383.2L729.24 377.01M743.28 383.2L735.42 366.95M743.28 383.2L735.48 370.11M730.4 364.04L725.68 373.1M730.4 364.04L715.25 376.84M730.4 364.04L735.42 366.95M736.94 400.75L741.03 388.78M736.94 400.75L724.65 374M725.68 373.1L700.59 369.21M725.68 373.1L722.4 364.36M725.68 373.1L714.65 379.04M725.68 373.1L729.24 377.01M700.59 369.21L689.99 390.83M700.59 369.21L722.4 364.36M700.59 369.21L715.25 376.84M700.59 369.21L705.86 389.01M739.92 388.46L727.12 391.74M739.92 388.46L735.42 366.95M739.92 388.46L741.03 388.78M739.92 388.46L735.48 370.11M735.3 385.58L722.4 364.36M735.3 385.58L711.31 405.54M735.3 385.58L729.24 377.01M735.3 385.58L741.03 388.78M735.3 385.58L735.48 370.11M735.3 385.58L724.65 374M689.99 390.83L684.64 381.63M684.64 381.63L705.86 389.01M684.64 381.63L724.65 374M722.4 364.36L715.25 376.84M722.4 364.36L735.48 370.11M714.65 379.04L715.25 376.84M714.65 379.04L703.9 384.15M714.65 379.04L723.05 374.14M711.31 405.54L727.12 391.74M711.31 405.54L703.9 384.15M729.24 377.01L715.25 376.84M715.25 376.84L703.9 384.15M715.25 376.84L724.65 374M727.12 391.74L741.03 388.78M727.12 391.74L723.05 374.14M727.12 391.74L724.65 374M705.86 389.01L711.51 391.93M705.86 389.01L703.9 384.15M735.42 366.95L724.65 374M711.51 391.93L723.05 374.14M735.48 370.11L724.65 374M723.05 374.14L724.65 374" fill="none" stroke="#e4773f" stroke-width="0.6"/>
<rect x="690.94" y="364.04" width="3" height="3" fill="#aee977" stroke="#e4773f" stroke-width="0.45"/>
<rect x="704.82" y="400.46" width="3" height="3" fill="#42483d" stroke="#e4773f" stroke-width="0.45"/>
<rect x="737.15" y="396.62" width="3" height="3" fill="#334125" stroke="#e4773f" stroke-width="0.45"/>
<rect x="731.71" y="379.65" width="3" height="3" fill="#a2be87" stroke="#e4773f" stroke-width="0.45"/>
<rect x="728.02" y="372.12" width="3" height="3" fill="#a3ce7a" stroke="#e4773f" stroke-width="0.45"/>
<rect x="679.74" y="382.74" width="3" height="3" fill="#fafafa" stroke="#e4773f" stroke-width="0.45"/>
<rect x="742.2" y="377.87" width="3" height="3" fill="#6fa040" stroke="#e4773f" stroke-width="0.45"/>
<rect x="741.78" y="381.7" width="3" height="3" fill="#759a51" stroke="#e4773f" stroke-width="0.45"/>
<rect x="728.9" y="362.54" width="3" height="3" fill="#aaee6a" stroke="#e4773f" stroke-width="0.45"/>
<rect x="735.44" y="399.25" width="3" height="3" fill="#7c8277" stroke="#e4773f" stroke-width="0.45"/>
<rect x="724.18" y="371.6" width="3" height="3" fill="#fafafa" stroke="#e4773f" stroke-width="0.45"/>
<rect x="699.09" y="367.71" width="3" height="3" fill="#9fd969" stroke="#e4773f" stroke-width="0.45"/>
<rect x="738.42" y="386.96" width="3" height="3" fill="#527334" stroke="#e4773f" stroke-width="0.45"/>
<rect x="733.8" y="384.08" width="3" height="3" fill="#527a2c" stroke="#e4773f" stroke-width="0.45"/>
<rect x="688.49" y="389.33" width="3" height="3" fill="#597341" stroke="#e4773f" stroke-width="0.45"/>
<rect x="683.14" y="380.13" width="3" height="3" fill="#fafafa" stroke="#e4773f" stroke-width="0.45"/>
<rect x="720.9" y="362.86" width="3" height="3" fill="#95e946" stroke="#e4773f" stroke-width="0.45"/>
<rect x="713.15" y="377.54" width="3" height="3" fill="#91b76d" stroke="#e4773f" stroke-width="0.45"/>
<rect x="709.81" y="404.04" width="3" height="3" fill="#fafafa" stroke="#e4773f" stroke-width="0.45"/>
<rect x="727.74" y="375.51" width="3" height="3" fill="#8bb860" stroke="#e4773f" stroke-width="0.45"/>
<rect x="713.75" y="375.34" width="3" height="3" fill="#90bc67" stroke="#e4773f" stroke-width="0.45"/>
<rect x="725.62" y="390.24" width="3" height="3" fill="#445f2b" stroke="#e4773f" stroke-width="0.45"/>
<rect x="704.36" y="387.51" width="3" height="3" fill="#7d9467" stroke="#e4773f" stroke-width="0.45"/>
<rect x="733.92" y="365.45" width="3" height="3" fill="#b4e685" stroke="#e4773f" stroke-width="0.45"/>
<rect x="739.53" y="387.28" width="3" height="3" fill="#718b58" stroke="#e4773f" stroke-width="0.45"/>
<rect x="710.01" y="390.43" width="3" height="3" fill="#6b7f57" stroke="#e4773f" stroke-width="0.45"/>
<rect x="733.98" y="368.61" width="3" height="3" fill="#89cd49" stroke="#e4773f" stroke-width="0.45"/>
<rect x="702.4" y="382.65" width="3" height="3" fill="#618a3c" stroke="#e4773f" stroke-width="0.45"/>
<rect x="721.55" y="372.64" width="3" height="3" fill="#89c056" stroke="#e4773f" stroke-width="0.45"/>
<rect x="723.15" y="372.5" width="3" height="3" fill="#8dc25b" stroke="#e4773f" stroke-width="0.45"/>
<rect x="694.65" y="357.24" width="3" height="3" fill="#abda7f" stroke="#4b45b0" stroke-width="0.45"/>
<rect x="713.72" y="349.96" width="3" height="3" fill="#b6e887" stroke="#4b45b0" stroke-width="0.45"/>
<rect x="719.61" y="354.22" width="3" height="3" fill="#95d757" stroke="#4b45b0" stroke-width="0.45"/>
<rect x="695.9" y="352.82" width="3" height="3" fill="#b7e58d" stroke="#4b45b0" stroke-width="0.45"/>
<rect x="718.26" y="351.19" width="3" height="3" fill="#93dd4e" stroke="#4b45b0" stroke-width="0.45"/>
<rect x="718.63" y="353.16" width="3" height="3" fill="#8fd74c" stroke="#4b45b0" stroke-width="0.45"/>
<rect x="727.75" y="345.78" width="3" height="3" fill="#fafafa" stroke="#4b45b0" stroke-width="0.45"/>
<rect x="706.96" y="358.6" width="3" height="3" fill="#a0d370" stroke="#4b45b0" stroke-width="0.45"/>
<rect x="684.42" y="354.97" width="3" height="3" fill="#a1da6c" stroke="#4b45b0" stroke-width="0.45"/>
<rect x="693.3" y="355.51" width="3" height="3" fill="#fafafa" stroke="#4b45b0" stroke-width="0.45"/>
<rect x="686.2" y="384.69" width="3" height="3" fill="#8ea875" stroke="#4b45b0" stroke-width="0.45"/>
<rect x="680.96" y="375.24" width="3" height="3" fill="#79a550" stroke="#4b45b0" stroke-width="0.45"/>
<rect x="699.46" y="388.37" width="3" height="3" fill="#78935f" stroke="#4b45b0" stroke-width="0.45"/>
<rect x="692.36" y="370.44" width="3" height="3" fill="#94bc6e" stroke="#4b45b0" stroke-width="0.45"/>
<rect x="679.6" y="384.79" width="3" height="3" fill="#8ca774" stroke="#4b45b0" stroke-width="0.45"/>
<rect x="694.4" y="383.86" width="3" height="3" fill="#8faa76" stroke="#4b45b0" stroke-width="0.45"/>
<rect x="690.13" y="399.49" width="3" height="3" fill="#fafafa" stroke="#4b45b0" stroke-width="0.45"/>
<rect x="696.94" y="374.56" width="3" height="3" fill="#9ebe81" stroke="#4b45b0" stroke-width="0.45"/>
<rect x="688.43" y="410.57" width="3" height="3" fill="#434d3a" stroke="#4b45b0" stroke-width="0.45"/>
<rect x="699.59" y="416.7" width="3" height="3" fill="#2b3027" stroke="#4b45b0" stroke-width="0.45"/>
<rect x="680.98" y="417.12" width="3" height="3" fill="#747671" stroke="#4b45b0" stroke-width="0.45"/>
<rect x="688.47" y="400.87" width="3" height="3" fill="#687959" stroke="#4b45b0" stroke-width="0.45"/>
<rect x="682.34" y="409.54" width="3" height="3" fill="#263219" stroke="#4b45b0" stroke-width="0.45"/>
<rect x="678.16" y="416.6" width="3" height="3" fill="#636660" stroke="#4b45b0" stroke-width="0.45"/>
<rect x="697.2" y="421.07" width="3" height="3" fill="#444444" stroke="#4b45b0" stroke-width="0.45"/>
<rect x="691.13" y="414.58" width="3" height="3" fill="#747970" stroke="#4b45b0" stroke-width="0.45"/>
<rect x="685.44" y="409.48" width="3" height="3" fill="#44503a" stroke="#4b45b0" stroke-width="0.45"/>
<rect x="684.51" y="410.77" width="3" height="3" fill="#38432e" stroke="#4b45b0" stroke-width="0.45"/>
<rect x="672.02" y="416.8" width="3" height="3" fill="#2a2f26" stroke="#4b45b0" stroke-width="0.45"/>
<rect x="677.67" y="408.53" width="3" height="3" fill="#47533c" stroke="#4b45b0" stroke-width="0.45"/>
<line x1="442.5" y1="439" x2="442.5" y2="534.1" stroke="#333" stroke-width="0.8"/>
<line x1="442.4" y1="534.5" x2="533.8" y2="534.5" stroke="#333" stroke-width="0.8"/>
<text x="492.3" y="542.02" font-size="8.59" text-anchor="middle">dim 1</text>
<text x="437.99" y="482.85" font-size="8.79" text-anchor="middle" transform="rotate(-90 437.99 482.85)">dim 2</text>
<line x1="553.5" y1="439.5" x2="553.5" y2="535.3" stroke="#333" stroke-width="0.8"/>
<line x1="553.5" y1="535.5" x2="646.7" y2="535.5" stroke="#333" stroke-width="0.8"/>
<text x="603.6" y="543.22" font-size="8.59" text-anchor="middle">dim 1</text>
<text x="550.19" y="483.7" font-size="8.79" text-anchor="middle" transform="rotate(-90 550.19 483.7)">dim 2</text>
<line x1="663.5" y1="439.5" x2="663.5" y2="535.3" stroke="#333" stroke-width="0.8"/>
<line x1="663.9" y1="535.5" x2="755.6" y2="535.5" stroke="#333" stroke-width="0.8"/>
<text x="714.9" y="543.22" font-size="8.59" text-anchor="middle">dim 1</text>
<text x="660.49" y="483.7" font-size="8.79" text-anchor="middle" transform="rotate(-90 660.49 483.7)">dim 2</text>
<text x="420.03" y="484.3" font-size="7.15" text-anchor="middle" transform="rotate(-90 420.03 484.3)">RNN</text>
<path d="M446.4 460.2H530M446.4 478H530M446.4 486.6H530M446.4 495.3H530M446.4 512.7H530M446.4 460.2V512.7M463.1 460.2V512.7M479.8 460.2V512.7M496.5 460.2V512.7M513.2 460.2V512.7M530 460.2V512.7" fill="none" stroke="#ee9670" stroke-width="0.75" opacity="0.85"/>
<path d="M462.9 443.2H513.7M462.9 460.4H513.7M462.9 477.6H513.7M462.9 494.8H513.7M462.9 512H513.7M462.9 529.4H513.7M462.9 443.2V529.4M479.3 443.2V529.4M488.1 443.2V529.4M497 443.2V529.4M513.7 443.2V529.4" fill="none" stroke="#6a64c4" stroke-width="0.75" opacity="0.75"/>
<rect x="444.95" y="458.75" width="2.9" height="2.9" fill="#fafafa" stroke="#e4773f" stroke-width="0.45"/>
<rect x="461.65" y="458.75" width="2.9" height="2.9" fill="#baf086" stroke="#e4773f" stroke-width="0.45"/>
<rect x="478.35" y="458.75" width="2.9" height="2.9" fill="#b1ef76" stroke="#e4773f" stroke-width="0.45"/>
<rect x="495.05" y="458.75" width="2.9" height="2.9" fill="#a8ed66" stroke="#e4773f" stroke-width="0.45"/>
<rect x="511.75" y="458.75" width="2.9" height="2.9" fill="#9fec56" stroke="#e4773f" stroke-width="0.45"/>
<rect x="528.55" y="458.75" width="2.9" height="2.9" fill="#96eb46" stroke="#e4773f" stroke-width="0.45"/>
<rect x="444.95" y="476.55" width="2.9" height="2.9" fill="#fafafa" stroke="#e4773f" stroke-width="0.45"/>
<rect x="461.65" y="476.55" width="2.9" height="2.9" fill="#a4cd7e" stroke="#e4773f" stroke-width="0.45"/>
<rect x="478.35" y="476.55" width="2.9" height="2.9" fill="#98c66c" stroke="#e4773f" stroke-width="0.45"/>
<rect x="495.05" y="476.55" width="2.9" height="2.9" fill="#8cc05b" stroke="#e4773f" stroke-width="0.45"/>
<rect x="511.75" y="476.55" width="2.9" height="2.9" fill="#80ba49" stroke="#e4773f" stroke-width="0.45"/>
<rect x="528.55" y="476.55" width="2.9" height="2.9" fill="#74b438" stroke="#e4773f" stroke-width="0.45"/>
<rect x="444.95" y="485.15" width="2.9" height="2.9" fill="#fafafa" stroke="#e4773f" stroke-width="0.45"/>
<rect x="461.65" y="485.15" width="2.9" height="2.9" fill="#8eaa75" stroke="#e4773f" stroke-width="0.45"/>
<rect x="478.35" y="485.15" width="2.9" height="2.9" fill="#7f9e62" stroke="#e4773f" stroke-width="0.45"/>
<rect x="495.05" y="485.15" width="2.9" height="2.9" fill="#70934f" stroke="#e4773f" stroke-width="0.45"/>
<rect x="511.75" y="485.15" width="2.9" height="2.9" fill="#61883d" stroke="#e4773f" stroke-width="0.45"/>
<rect x="528.55" y="485.15" width="2.9" height="2.9" fill="#527d2a" stroke="#e4773f" stroke-width="0.45"/>
<rect x="444.95" y="493.85" width="2.9" height="2.9" fill="#fafafa" stroke="#e4773f" stroke-width="0.45"/>
<rect x="461.65" y="493.85" width="2.9" height="2.9" fill="#79866c" stroke="#e4773f" stroke-width="0.45"/>
<rect x="478.35" y="493.85" width="2.9" height="2.9" fill="#677658" stroke="#e4773f" stroke-width="0.45"/>
<rect x="495.05" y="493.85" width="2.9" height="2.9" fill="#546644" stroke="#e4773f" stroke-width="0.45"/>
<rect x="511.75" y="493.85" width="2.9" height="2.9" fill="#425630" stroke="#e4773f" stroke-width="0.45"/>
<rect x="528.55" y="493.85" width="2.9" height="2.9" fill="#30461c" stroke="#e4773f" stroke-width="0.45"/>
<rect x="444.95" y="511.25" width="2.9" height="2.9" fill="#fafafa" stroke="#e4773f" stroke-width="0.45"/>
<rect x="461.65" y="511.25" width="2.9" height="2.9" fill="#636363" stroke="#e4773f" stroke-width="0.45"/>
<rect x="478.35" y="511.25" width="2.9" height="2.9" fill="#4e4e4e" stroke="#e4773f" stroke-width="0.45"/>
<rect x="495.05" y="511.25" width="2.9" height="2.9" fill="#393939" stroke="#e4773f" stroke-width="0.45"/>
<rect x="511.75" y="511.25" width="2.9" height="2.9" fill="#242424" stroke="#e4773f" stroke-width="0.45"/>
<rect x="528.55" y="511.25" width="2.9" height="2.9" fill="#0f0f0f" stroke="#e4773f" stroke-width="0.45"/>
<rect x="461.45" y="441.75" width="2.9" height="2.9" fill="#fafafa" stroke="#4b45b0" stroke-width="0.45"/>
<rect x="477.85" y="441.75" width="2.9" height="2.9" fill="#b7f082" stroke="#4b45b0" stroke-width="0.45"/>
<rect x="486.65" y="441.75" width="2.9" height="2.9" fill="#acee6e" stroke="#4b45b0" stroke-width="0.45"/>
<rect x="495.55" y="441.75" width="2.9" height="2.9" fill="#a1ec5a" stroke="#4b45b0" stroke-width="0.45"/>
<rect x="512.25" y="441.75" width="2.9" height="2.9" fill="#96eb46" stroke="#4b45b0" stroke-width="0.45"/>
<rect x="461.45" y="458.95" width="2.9" height="2.9" fill="#fafafa" stroke="#4b45b0" stroke-width="0.45"/>
<rect x="477.85" y="458.95" width="2.9" height="2.9" fill="#a5d27b" stroke="#4b45b0" stroke-width="0.45"/>
<rect x="486.65" y="458.95" width="2.9" height="2.9" fill="#97cc65" stroke="#4b45b0" stroke-width="0.45"/>
<rect x="495.55" y="458.95" width="2.9" height="2.9" fill="#89c550" stroke="#4b45b0" stroke-width="0.45"/>
<rect x="512.25" y="458.95" width="2.9" height="2.9" fill="#7bbf3b" stroke="#4b45b0" stroke-width="0.45"/>
<rect x="461.45" y="476.15" width="2.9" height="2.9" fill="#fafafa" stroke="#4b45b0" stroke-width="0.45"/>
<rect x="477.85" y="476.15" width="2.9" height="2.9" fill="#93b574" stroke="#4b45b0" stroke-width="0.45"/>
<rect x="486.65" y="476.15" width="2.9" height="2.9" fill="#82aa5d" stroke="#4b45b0" stroke-width="0.45"/>
<rect x="495.55" y="476.15" width="2.9" height="2.9" fill="#719e46" stroke="#4b45b0" stroke-width="0.45"/>
<rect x="512.25" y="476.15" width="2.9" height="2.9" fill="#609330" stroke="#4b45b0" stroke-width="0.45"/>
<rect x="461.45" y="493.35" width="2.9" height="2.9" fill="#fafafa" stroke="#4b45b0" stroke-width="0.45"/>
<rect x="477.85" y="493.35" width="2.9" height="2.9" fill="#82986c" stroke="#4b45b0" stroke-width="0.45"/>
<rect x="486.65" y="493.35" width="2.9" height="2.9" fill="#6d8854" stroke="#4b45b0" stroke-width="0.45"/>
<rect x="495.55" y="493.35" width="2.9" height="2.9" fill="#59773c" stroke="#4b45b0" stroke-width="0.45"/>
<rect x="512.25" y="493.35" width="2.9" height="2.9" fill="#456725" stroke="#4b45b0" stroke-width="0.45"/>
<rect x="461.45" y="510.55" width="2.9" height="2.9" fill="#fafafa" stroke="#4b45b0" stroke-width="0.45"/>
<rect x="477.85" y="510.55" width="2.9" height="2.9" fill="#707b65" stroke="#4b45b0" stroke-width="0.45"/>
<rect x="486.65" y="510.55" width="2.9" height="2.9" fill="#58654c" stroke="#4b45b0" stroke-width="0.45"/>
<rect x="495.55" y="510.55" width="2.9" height="2.9" fill="#415033" stroke="#4b45b0" stroke-width="0.45"/>
<rect x="512.25" y="510.55" width="2.9" height="2.9" fill="#2a3b1a" stroke="#4b45b0" stroke-width="0.45"/>
<rect x="461.45" y="527.95" width="2.9" height="2.9" fill="#fafafa" stroke="#4b45b0" stroke-width="0.45"/>
<rect x="477.85" y="527.95" width="2.9" height="2.9" fill="#5e5e5e" stroke="#4b45b0" stroke-width="0.45"/>
<rect x="486.65" y="527.95" width="2.9" height="2.9" fill="#434343" stroke="#4b45b0" stroke-width="0.45"/>
<rect x="495.55" y="527.95" width="2.9" height="2.9" fill="#292929" stroke="#4b45b0" stroke-width="0.45"/>
<rect x="512.25" y="527.95" width="2.9" height="2.9" fill="#0f0f0f" stroke="#4b45b0" stroke-width="0.45"/>
<path d="M557.8 463H641.8M557.8 480.8H641.8M557.8 487.4H641.8M557.8 494H641.8M557.8 511.2H641.8M557.8 463V511.2M574.6 463V511.2M591.4 463V511.2M608.2 463V511.2M625 463V511.2M641.8 463V511.2" fill="none" stroke="#ee9670" stroke-width="0.75" opacity="0.85"/>
<path d="M576.7 443.8H623.1M576.7 461H623.1M576.7 478.3H623.1M576.7 495.6H623.1M576.7 512.9H623.1M576.7 530.2H623.1M576.7 443.8V530.2M593.6 443.8V530.2M600.2 443.8V530.2M606.5 443.8V530.2M623.1 443.8V530.2" fill="none" stroke="#6a64c4" stroke-width="0.75" opacity="0.75"/>
<rect x="556.35" y="461.55" width="2.9" height="2.9" fill="#fafafa" stroke="#e4773f" stroke-width="0.45"/>
<rect x="573.15" y="461.55" width="2.9" height="2.9" fill="#baf086" stroke="#e4773f" stroke-width="0.45"/>
<rect x="589.95" y="461.55" width="2.9" height="2.9" fill="#b1ef76" stroke="#e4773f" stroke-width="0.45"/>
<rect x="606.75" y="461.55" width="2.9" height="2.9" fill="#a8ed66" stroke="#e4773f" stroke-width="0.45"/>
<rect x="623.55" y="461.55" width="2.9" height="2.9" fill="#9fec56" stroke="#e4773f" stroke-width="0.45"/>
<rect x="640.35" y="461.55" width="2.9" height="2.9" fill="#96eb46" stroke="#e4773f" stroke-width="0.45"/>
<rect x="556.35" y="479.35" width="2.9" height="2.9" fill="#fafafa" stroke="#e4773f" stroke-width="0.45"/>
<rect x="573.15" y="479.35" width="2.9" height="2.9" fill="#a4cd7e" stroke="#e4773f" stroke-width="0.45"/>
<rect x="589.95" y="479.35" width="2.9" height="2.9" fill="#98c66c" stroke="#e4773f" stroke-width="0.45"/>
<rect x="606.75" y="479.35" width="2.9" height="2.9" fill="#8cc05b" stroke="#e4773f" stroke-width="0.45"/>
<rect x="623.55" y="479.35" width="2.9" height="2.9" fill="#80ba49" stroke="#e4773f" stroke-width="0.45"/>
<rect x="640.35" y="479.35" width="2.9" height="2.9" fill="#74b438" stroke="#e4773f" stroke-width="0.45"/>
<rect x="556.35" y="485.95" width="2.9" height="2.9" fill="#fafafa" stroke="#e4773f" stroke-width="0.45"/>
<rect x="573.15" y="485.95" width="2.9" height="2.9" fill="#8eaa75" stroke="#e4773f" stroke-width="0.45"/>
<rect x="589.95" y="485.95" width="2.9" height="2.9" fill="#7f9e62" stroke="#e4773f" stroke-width="0.45"/>
<rect x="606.75" y="485.95" width="2.9" height="2.9" fill="#70934f" stroke="#e4773f" stroke-width="0.45"/>
<rect x="623.55" y="485.95" width="2.9" height="2.9" fill="#61883d" stroke="#e4773f" stroke-width="0.45"/>
<rect x="640.35" y="485.95" width="2.9" height="2.9" fill="#527d2a" stroke="#e4773f" stroke-width="0.45"/>
<rect x="556.35" y="492.55" width="2.9" height="2.9" fill="#fafafa" stroke="#e4773f" stroke-width="0.45"/>
<rect x="573.15" y="492.55" width="2.9" height="2.9" fill="#79866c" stroke="#e4773f" stroke-width="0.45"/>
<rect x="589.95" y="492.55" width="2.9" height="2.9" fill="#677658" stroke="#e4773f" stroke-width="0.45"/>
<rect x="606.75" y="492.55" width="2.9" height="2.9" fill="#546644" stroke="#e4773f" stroke-width="0.45"/>
<rect x="623.55" y="492.55" width="2.9" height="2.9" fill="#425630" stroke="#e4773f" stroke-width="0.45"/>
<rect x="640.35" y="492.55" width="2.9" height="2.9" fill="#30461c" stroke="#e4773f" stroke-width="0.45"/>
<rect x="556.35" y="509.75" width="2.9" height="2.9" fill="#fafafa" stroke="#e4773f" stroke-width="0.45"/>
<rect x="573.15" y="509.75" width="2.9" height="2.9" fill="#636363" stroke="#e4773f" stroke-width="0.45"/>
<rect x="589.95" y="509.75" width="2.9" height="2.9" fill="#4e4e4e" stroke="#e4773f" stroke-width="0.45"/>
<rect x="606.75" y="509.75" width="2.9" height="2.9" fill="#393939" stroke="#e4773f" stroke-width="0.45"/>
<rect x="623.55" y="509.75" width="2.9" height="2.9" fill="#242424" stroke="#e4773f" stroke-width="0.45"/>
<rect x="640.35" y="509.75" width="2.9" height="2.9" fill="#0f0f0f" stroke="#e4773f" stroke-width="0.45"/>
<rect x="575.25" y="442.35" width="2.9" height="2.9" fill="#fafafa" stroke="#4b45b0" stroke-width="0.45"/>
<rect x="592.15" y="442.35" width="2.9" height="2.9" fill="#b7f082" stroke="#4b45b0" stroke-width="0.45"/>
<rect x="598.75" y="442.35" width="2.9" height="2.9" fill="#acee6e" stroke="#4b45b0" stroke-width="0.45"/>
<rect x="605.05" y="442.35" width="2.9" height="2.9" fill="#a1ec5a" stroke="#4b45b0" stroke-width="0.45"/>
<rect x="621.65" y="442.35" width="2.9" height="2.9" fill="#96eb46" stroke="#4b45b0" stroke-width="0.45"/>
<rect x="575.25" y="459.55" width="2.9" height="2.9" fill="#fafafa" stroke="#4b45b0" stroke-width="0.45"/>
<rect x="592.15" y="459.55" width="2.9" height="2.9" fill="#a5d27b" stroke="#4b45b0" stroke-width="0.45"/>
<rect x="598.75" y="459.55" width="2.9" height="2.9" fill="#97cc65" stroke="#4b45b0" stroke-width="0.45"/>
<rect x="605.05" y="459.55" width="2.9" height="2.9" fill="#89c550" stroke="#4b45b0" stroke-width="0.45"/>
<rect x="621.65" y="459.55" width="2.9" height="2.9" fill="#7bbf3b" stroke="#4b45b0" stroke-width="0.45"/>
<rect x="575.25" y="476.85" width="2.9" height="2.9" fill="#fafafa" stroke="#4b45b0" stroke-width="0.45"/>
<rect x="592.15" y="476.85" width="2.9" height="2.9" fill="#93b574" stroke="#4b45b0" stroke-width="0.45"/>
<rect x="598.75" y="476.85" width="2.9" height="2.9" fill="#82aa5d" stroke="#4b45b0" stroke-width="0.45"/>
<rect x="605.05" y="476.85" width="2.9" height="2.9" fill="#719e46" stroke="#4b45b0" stroke-width="0.45"/>
<rect x="621.65" y="476.85" width="2.9" height="2.9" fill="#609330" stroke="#4b45b0" stroke-width="0.45"/>
<rect x="575.25" y="494.15" width="2.9" height="2.9" fill="#fafafa" stroke="#4b45b0" stroke-width="0.45"/>
<rect x="592.15" y="494.15" width="2.9" height="2.9" fill="#82986c" stroke="#4b45b0" stroke-width="0.45"/>
<rect x="598.75" y="494.15" width="2.9" height="2.9" fill="#6d8854" stroke="#4b45b0" stroke-width="0.45"/>
<rect x="605.05" y="494.15" width="2.9" height="2.9" fill="#59773c" stroke="#4b45b0" stroke-width="0.45"/>
<rect x="621.65" y="494.15" width="2.9" height="2.9" fill="#456725" stroke="#4b45b0" stroke-width="0.45"/>
<rect x="575.25" y="511.45" width="2.9" height="2.9" fill="#fafafa" stroke="#4b45b0" stroke-width="0.45"/>
<rect x="592.15" y="511.45" width="2.9" height="2.9" fill="#707b65" stroke="#4b45b0" stroke-width="0.45"/>
<rect x="598.75" y="511.45" width="2.9" height="2.9" fill="#58654c" stroke="#4b45b0" stroke-width="0.45"/>
<rect x="605.05" y="511.45" width="2.9" height="2.9" fill="#415033" stroke="#4b45b0" stroke-width="0.45"/>
<rect x="621.65" y="511.45" width="2.9" height="2.9" fill="#2a3b1a" stroke="#4b45b0" stroke-width="0.45"/>
<rect x="575.25" y="528.75" width="2.9" height="2.9" fill="#fafafa" stroke="#4b45b0" stroke-width="0.45"/>
<rect x="592.15" y="528.75" width="2.9" height="2.9" fill="#5e5e5e" stroke="#4b45b0" stroke-width="0.45"/>
<rect x="598.75" y="528.75" width="2.9" height="2.9" fill="#434343" stroke="#4b45b0" stroke-width="0.45"/>
<rect x="605.05" y="528.75" width="2.9" height="2.9" fill="#292929" stroke="#4b45b0" stroke-width="0.45"/>
<rect x="621.65" y="528.75" width="2.9" height="2.9" fill="#0f0f0f" stroke="#4b45b0" stroke-width="0.45"/>
<path d="M667.6 464.4H751.6M667.6 481.6H751.6M667.6 487.4H751.6M667.6 492.2H751.6M667.6 509.7H751.6M667.6 464.4V509.7M684.4 464.4V509.7M701.2 464.4V509.7M718 464.4V509.7M734.8 464.4V509.7M751.6 464.4V509.7" fill="none" stroke="#ee9670" stroke-width="0.75" opacity="0.85"/>
<path d="M687.6 443.8H731.5M687.6 461H731.5M687.6 478.3H731.5M687.6 495.6H731.5M687.6 512.9H731.5M687.6 530.2H731.5M687.6 443.8V530.2M704.3 443.8V530.2M709.7 443.8V530.2M714.9 443.8V530.2M731.5 443.8V530.2" fill="none" stroke="#6a64c4" stroke-width="0.75" opacity="0.75"/>
<rect x="666.15" y="462.95" width="2.9" height="2.9" fill="#fafafa" stroke="#e4773f" stroke-width="0.45"/>
<rect x="682.95" y="462.95" width="2.9" height="2.9" fill="#baf086" stroke="#e4773f" stroke-width="0.45"/>
<rect x="699.75" y="462.95" width="2.9" height="2.9" fill="#b1ef76" stroke="#e4773f" stroke-width="0.45"/>
<rect x="716.55" y="462.95" width="2.9" height="2.9" fill="#a8ed66" stroke="#e4773f" stroke-width="0.45"/>
<rect x="733.35" y="462.95" width="2.9" height="2.9" fill="#9fec56" stroke="#e4773f" stroke-width="0.45"/>
<rect x="750.15" y="462.95" width="2.9" height="2.9" fill="#96eb46" stroke="#e4773f" stroke-width="0.45"/>
<rect x="666.15" y="480.15" width="2.9" height="2.9" fill="#fafafa" stroke="#e4773f" stroke-width="0.45"/>
<rect x="682.95" y="480.15" width="2.9" height="2.9" fill="#a4cd7e" stroke="#e4773f" stroke-width="0.45"/>
<rect x="699.75" y="480.15" width="2.9" height="2.9" fill="#98c66c" stroke="#e4773f" stroke-width="0.45"/>
<rect x="716.55" y="480.15" width="2.9" height="2.9" fill="#8cc05b" stroke="#e4773f" stroke-width="0.45"/>
<rect x="733.35" y="480.15" width="2.9" height="2.9" fill="#80ba49" stroke="#e4773f" stroke-width="0.45"/>
<rect x="750.15" y="480.15" width="2.9" height="2.9" fill="#74b438" stroke="#e4773f" stroke-width="0.45"/>
<rect x="666.15" y="485.95" width="2.9" height="2.9" fill="#fafafa" stroke="#e4773f" stroke-width="0.45"/>
<rect x="682.95" y="485.95" width="2.9" height="2.9" fill="#8eaa75" stroke="#e4773f" stroke-width="0.45"/>
<rect x="699.75" y="485.95" width="2.9" height="2.9" fill="#7f9e62" stroke="#e4773f" stroke-width="0.45"/>
<rect x="716.55" y="485.95" width="2.9" height="2.9" fill="#70934f" stroke="#e4773f" stroke-width="0.45"/>
<rect x="733.35" y="485.95" width="2.9" height="2.9" fill="#61883d" stroke="#e4773f" stroke-width="0.45"/>
<rect x="750.15" y="485.95" width="2.9" height="2.9" fill="#527d2a" stroke="#e4773f" stroke-width="0.45"/>
<rect x="666.15" y="490.75" width="2.9" height="2.9" fill="#fafafa" stroke="#e4773f" stroke-width="0.45"/>
<rect x="682.95" y="490.75" width="2.9" height="2.9" fill="#79866c" stroke="#e4773f" stroke-width="0.45"/>
<rect x="699.75" y="490.75" width="2.9" height="2.9" fill="#677658" stroke="#e4773f" stroke-width="0.45"/>
<rect x="716.55" y="490.75" width="2.9" height="2.9" fill="#546644" stroke="#e4773f" stroke-width="0.45"/>
<rect x="733.35" y="490.75" width="2.9" height="2.9" fill="#425630" stroke="#e4773f" stroke-width="0.45"/>
<rect x="750.15" y="490.75" width="2.9" height="2.9" fill="#30461c" stroke="#e4773f" stroke-width="0.45"/>
<rect x="666.15" y="508.25" width="2.9" height="2.9" fill="#fafafa" stroke="#e4773f" stroke-width="0.45"/>
<rect x="682.95" y="508.25" width="2.9" height="2.9" fill="#636363" stroke="#e4773f" stroke-width="0.45"/>
<rect x="699.75" y="508.25" width="2.9" height="2.9" fill="#4e4e4e" stroke="#e4773f" stroke-width="0.45"/>
<rect x="716.55" y="508.25" width="2.9" height="2.9" fill="#393939" stroke="#e4773f" stroke-width="0.45"/>
<rect x="733.35" y="508.25" width="2.9" height="2.9" fill="#242424" stroke="#e4773f" stroke-width="0.45"/>
<rect x="750.15" y="508.25" width="2.9" height="2.9" fill="#0f0f0f" stroke="#e4773f" stroke-width="0.45"/>
<rect x="686.15" y="442.35" width="2.9" height="2.9" fill="#fafafa" stroke="#4b45b0" stroke-width="0.45"/>
<rect x="702.85" y="442.35" width="2.9" height="2.9" fill="#b7f082" stroke="#4b45b0" stroke-width="0.45"/>
<rect x="708.25" y="442.35" width="2.9" height="2.9" fill="#acee6e" stroke="#4b45b0" stroke-width="0.45"/>
<rect x="713.45" y="442.35" width="2.9" height="2.9" fill="#a1ec5a" stroke="#4b45b0" stroke-width="0.45"/>
<rect x="730.05" y="442.35" width="2.9" height="2.9" fill="#96eb46" stroke="#4b45b0" stroke-width="0.45"/>
<rect x="686.15" y="459.55" width="2.9" height="2.9" fill="#fafafa" stroke="#4b45b0" stroke-width="0.45"/>
<rect x="702.85" y="459.55" width="2.9" height="2.9" fill="#a5d27b" stroke="#4b45b0" stroke-width="0.45"/>
<rect x="708.25" y="459.55" width="2.9" height="2.9" fill="#97cc65" stroke="#4b45b0" stroke-width="0.45"/>
<rect x="713.45" y="459.55" width="2.9" height="2.9" fill="#89c550" stroke="#4b45b0" stroke-width="0.45"/>
<rect x="730.05" y="459.55" width="2.9" height="2.9" fill="#7bbf3b" stroke="#4b45b0" stroke-width="0.45"/>
<rect x="686.15" y="476.85" width="2.9" height="2.9" fill="#fafafa" stroke="#4b45b0" stroke-width="0.45"/>
<rect x="702.85" y="476.85" width="2.9" height="2.9" fill="#93b574" stroke="#4b45b0" stroke-width="0.45"/>
<rect x="708.25" y="476.85" width="2.9" height="2.9" fill="#82aa5d" stroke="#4b45b0" stroke-width="0.45"/>
<rect x="713.45" y="476.85" width="2.9" height="2.9" fill="#719e46" stroke="#4b45b0" stroke-width="0.45"/>
<rect x="730.05" y="476.85" width="2.9" height="2.9" fill="#609330" stroke="#4b45b0" stroke-width="0.45"/>
<rect x="686.15" y="494.15" width="2.9" height="2.9" fill="#fafafa" stroke="#4b45b0" stroke-width="0.45"/>
<rect x="702.85" y="494.15" width="2.9" height="2.9" fill="#82986c" stroke="#4b45b0" stroke-width="0.45"/>
<rect x="708.25" y="494.15" width="2.9" height="2.9" fill="#6d8854" stroke="#4b45b0" stroke-width="0.45"/>
<rect x="713.45" y="494.15" width="2.9" height="2.9" fill="#59773c" stroke="#4b45b0" stroke-width="0.45"/>
<rect x="730.05" y="494.15" width="2.9" height="2.9" fill="#456725" stroke="#4b45b0" stroke-width="0.45"/>
<rect x="686.15" y="511.45" width="2.9" height="2.9" fill="#fafafa" stroke="#4b45b0" stroke-width="0.45"/>
<rect x="702.85" y="511.45" width="2.9" height="2.9" fill="#707b65" stroke="#4b45b0" stroke-width="0.45"/>
<rect x="708.25" y="511.45" width="2.9" height="2.9" fill="#58654c" stroke="#4b45b0" stroke-width="0.45"/>
<rect x="713.45" y="511.45" width="2.9" height="2.9" fill="#415033" stroke="#4b45b0" stroke-width="0.45"/>
<rect x="730.05" y="511.45" width="2.9" height="2.9" fill="#2a3b1a" stroke="#4b45b0" stroke-width="0.45"/>
<rect x="686.15" y="528.75" width="2.9" height="2.9" fill="#fafafa" stroke="#4b45b0" stroke-width="0.45"/>
<rect x="702.85" y="528.75" width="2.9" height="2.9" fill="#5e5e5e" stroke="#4b45b0" stroke-width="0.45"/>
<rect x="708.25" y="528.75" width="2.9" height="2.9" fill="#434343" stroke="#4b45b0" stroke-width="0.45"/>
<rect x="713.45" y="528.75" width="2.9" height="2.9" fill="#292929" stroke="#4b45b0" stroke-width="0.45"/>
<rect x="730.05" y="528.75" width="2.9" height="2.9" fill="#0f0f0f" stroke="#4b45b0" stroke-width="0.45"/>
<circle cx="391.4" cy="431.4" r="1.05" fill="#1a1a1a"/>
<circle cx="391.4" cy="436.7" r="0.35" fill="#b0d890"/>
<circle cx="396.1" cy="431.4" r="1.05" fill="#2c4a16"/>
<circle cx="396.1" cy="436.7" r="0.52" fill="#90c868"/>
<circle cx="400.8" cy="431.4" r="1.05" fill="#3e7a22"/>
<circle cx="400.8" cy="436.7" r="0.69" fill="#5a9a38"/>
<circle cx="405.5" cy="431.4" r="1.05" fill="#62aa34"/>
<circle cx="405.5" cy="436.7" r="0.86" fill="#3a7020"/>
<circle cx="410.2" cy="431.4" r="1.05" fill="#a8f060"/>
<circle cx="410.2" cy="436.7" r="1.03" fill="#2a5a18"/>
<text x="416.4" y="433.22" font-size="6.06">colour</text>
<text x="416.4" y="438.15" font-size="5.83">motion</text>
<rect x="389.4" y="443.6" width="3.4" height="3.4" fill="#fff" stroke="#e07a4a" stroke-width="0.8"/>
<text x="396.9" y="447.14" font-size="6.01">Task A</text>
<rect x="389.4" y="448.9" width="3.4" height="3.4" fill="#fff" stroke="#4a44aa" stroke-width="0.8"/>
<text x="396.9" y="452.51" font-size="5.9">Task B</text>
</svg></body></html>
